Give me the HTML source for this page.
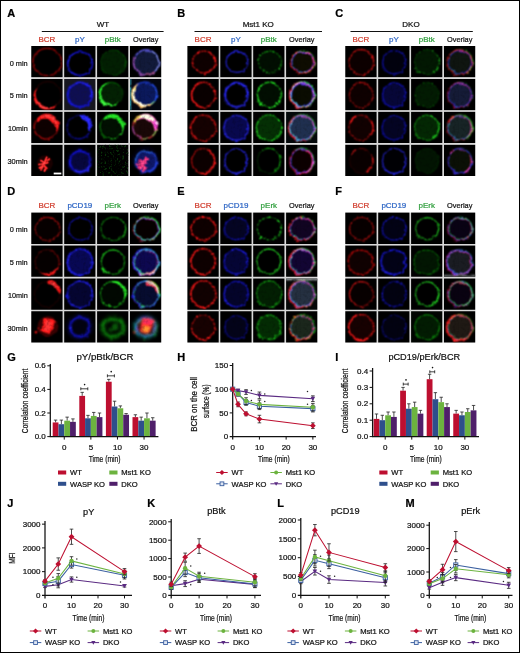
<!DOCTYPE html>
<html><head><meta charset="utf-8"><title>Figure</title>
<style>
html,body{margin:0;padding:0;background:#fff;}
body{width:520px;height:654px;overflow:hidden;font-family:"Liberation Sans", sans-serif;}
svg text{font-family:"Liberation Sans", sans-serif;stroke-width:0.22px;}
#txt{opacity:0.999;}
</style></head><body>
<svg width="520" height="654" viewBox="0 0 520 654" style="display:block">
<defs>
<filter id="spa" x="0" y="0" width="100%" height="100%" color-interpolation-filters="sRGB"><feTurbulence type="fractalNoise" baseFrequency="0.5" numOctaves="2" seed="11" result="n"/><feColorMatrix in="n" type="matrix" values="0 0 0 0 1  0 0 0 0 1  0 0 0 0 1  5 0 0 0 -2.75" result="na"/><feComposite in="SourceGraphic" in2="na" operator="in"/><feGaussianBlur stdDeviation="0.5"/></filter><filter id="spb" x="0" y="0" width="100%" height="100%" color-interpolation-filters="sRGB"><feTurbulence type="fractalNoise" baseFrequency="0.5" numOctaves="2" seed="12" result="n"/><feColorMatrix in="n" type="matrix" values="0 0 0 0 1  0 0 0 0 1  0 0 0 0 1  5 0 0 0 -2.75" result="na"/><feComposite in="SourceGraphic" in2="na" operator="in"/><feGaussianBlur stdDeviation="0.5"/></filter><filter id="spc" x="0" y="0" width="100%" height="100%" color-interpolation-filters="sRGB"><feTurbulence type="fractalNoise" baseFrequency="0.5" numOctaves="2" seed="13" result="n"/><feColorMatrix in="n" type="matrix" values="0 0 0 0 1  0 0 0 0 1  0 0 0 0 1  5 0 0 0 -2.75" result="na"/><feComposite in="SourceGraphic" in2="na" operator="in"/><feGaussianBlur stdDeviation="0.5"/></filter><filter id="spd" x="0" y="0" width="100%" height="100%" color-interpolation-filters="sRGB"><feTurbulence type="fractalNoise" baseFrequency="0.5" numOctaves="2" seed="14" result="n"/><feColorMatrix in="n" type="matrix" values="0 0 0 0 1  0 0 0 0 1  0 0 0 0 1  5 0 0 0 -2.75" result="na"/><feComposite in="SourceGraphic" in2="na" operator="in"/><feGaussianBlur stdDeviation="0.5"/></filter><filter id="b1a" x="-20%" y="-20%" width="140%" height="140%" color-interpolation-filters="sRGB"><feTurbulence type="fractalNoise" baseFrequency="0.16" numOctaves="2" seed="4" result="t1"/><feDisplacementMap in="SourceGraphic" in2="t1" scale="3.2" xChannelSelector="R" yChannelSelector="G" result="d"/><feConvolveMatrix in="d" order="3" kernelMatrix="1 2 1 2 4 2 1 2 1" edgeMode="none" result="bl"/><feTurbulence type="fractalNoise" baseFrequency="0.3" numOctaves="2" seed="3" result="n"/><feColorMatrix in="n" type="matrix" values="0 0 0 0 1  0 0 0 0 1  0 0 0 0 1  0.5 0 0 0 0.72" result="na"/><feComposite in="bl" in2="na" operator="in"/></filter><filter id="b2a" x="-20%" y="-20%" width="140%" height="140%" color-interpolation-filters="sRGB"><feTurbulence type="fractalNoise" baseFrequency="0.16" numOctaves="2" seed="6" result="t1"/><feDisplacementMap in="SourceGraphic" in2="t1" scale="3" xChannelSelector="R" yChannelSelector="G" result="d"/><feGaussianBlur in="d" stdDeviation="1.3" result="bl"/><feTurbulence type="fractalNoise" baseFrequency="0.25" numOctaves="2" seed="5" result="n"/><feColorMatrix in="n" type="matrix" values="0 0 0 0 1  0 0 0 0 1  0 0 0 0 1  0.5 0 0 0 0.72" result="na"/><feComposite in="bl" in2="na" operator="in"/></filter><filter id="b0a" x="-20%" y="-20%" width="140%" height="140%" color-interpolation-filters="sRGB"><feTurbulence type="fractalNoise" baseFrequency="0.16" numOctaves="2" seed="10" result="t1"/><feDisplacementMap in="SourceGraphic" in2="t1" scale="1.2" xChannelSelector="R" yChannelSelector="G" result="d"/><feConvolveMatrix in="d" order="3" kernelMatrix="1 4 1 4 16 4 1 4 1" edgeMode="none" result="bl"/><feTurbulence type="fractalNoise" baseFrequency="0.3" numOctaves="2" seed="9" result="n"/><feColorMatrix in="n" type="matrix" values="0 0 0 0 1  0 0 0 0 1  0 0 0 0 1  0.5 0 0 0 0.72" result="na"/><feComposite in="bl" in2="na" operator="in"/></filter><filter id="b1b" x="-20%" y="-20%" width="140%" height="140%" color-interpolation-filters="sRGB"><feTurbulence type="fractalNoise" baseFrequency="0.16" numOctaves="2" seed="11" result="t1"/><feDisplacementMap in="SourceGraphic" in2="t1" scale="3.2" xChannelSelector="R" yChannelSelector="G" result="d"/><feConvolveMatrix in="d" order="3" kernelMatrix="1 2 1 2 4 2 1 2 1" edgeMode="none" result="bl"/><feTurbulence type="fractalNoise" baseFrequency="0.3" numOctaves="2" seed="10" result="n"/><feColorMatrix in="n" type="matrix" values="0 0 0 0 1  0 0 0 0 1  0 0 0 0 1  0.5 0 0 0 0.72" result="na"/><feComposite in="bl" in2="na" operator="in"/></filter><filter id="b2b" x="-20%" y="-20%" width="140%" height="140%" color-interpolation-filters="sRGB"><feTurbulence type="fractalNoise" baseFrequency="0.16" numOctaves="2" seed="13" result="t1"/><feDisplacementMap in="SourceGraphic" in2="t1" scale="3" xChannelSelector="R" yChannelSelector="G" result="d"/><feGaussianBlur in="d" stdDeviation="1.3" result="bl"/><feTurbulence type="fractalNoise" baseFrequency="0.25" numOctaves="2" seed="12" result="n"/><feColorMatrix in="n" type="matrix" values="0 0 0 0 1  0 0 0 0 1  0 0 0 0 1  0.5 0 0 0 0.72" result="na"/><feComposite in="bl" in2="na" operator="in"/></filter><filter id="b0b" x="-20%" y="-20%" width="140%" height="140%" color-interpolation-filters="sRGB"><feTurbulence type="fractalNoise" baseFrequency="0.16" numOctaves="2" seed="17" result="t1"/><feDisplacementMap in="SourceGraphic" in2="t1" scale="1.2" xChannelSelector="R" yChannelSelector="G" result="d"/><feConvolveMatrix in="d" order="3" kernelMatrix="1 4 1 4 16 4 1 4 1" edgeMode="none" result="bl"/><feTurbulence type="fractalNoise" baseFrequency="0.3" numOctaves="2" seed="16" result="n"/><feColorMatrix in="n" type="matrix" values="0 0 0 0 1  0 0 0 0 1  0 0 0 0 1  0.5 0 0 0 0.72" result="na"/><feComposite in="bl" in2="na" operator="in"/></filter><filter id="b1c" x="-20%" y="-20%" width="140%" height="140%" color-interpolation-filters="sRGB"><feTurbulence type="fractalNoise" baseFrequency="0.16" numOctaves="2" seed="18" result="t1"/><feDisplacementMap in="SourceGraphic" in2="t1" scale="3.2" xChannelSelector="R" yChannelSelector="G" result="d"/><feConvolveMatrix in="d" order="3" kernelMatrix="1 2 1 2 4 2 1 2 1" edgeMode="none" result="bl"/><feTurbulence type="fractalNoise" baseFrequency="0.3" numOctaves="2" seed="17" result="n"/><feColorMatrix in="n" type="matrix" values="0 0 0 0 1  0 0 0 0 1  0 0 0 0 1  0.5 0 0 0 0.72" result="na"/><feComposite in="bl" in2="na" operator="in"/></filter><filter id="b2c" x="-20%" y="-20%" width="140%" height="140%" color-interpolation-filters="sRGB"><feTurbulence type="fractalNoise" baseFrequency="0.16" numOctaves="2" seed="20" result="t1"/><feDisplacementMap in="SourceGraphic" in2="t1" scale="3" xChannelSelector="R" yChannelSelector="G" result="d"/><feGaussianBlur in="d" stdDeviation="1.3" result="bl"/><feTurbulence type="fractalNoise" baseFrequency="0.25" numOctaves="2" seed="19" result="n"/><feColorMatrix in="n" type="matrix" values="0 0 0 0 1  0 0 0 0 1  0 0 0 0 1  0.5 0 0 0 0.72" result="na"/><feComposite in="bl" in2="na" operator="in"/></filter><filter id="b0c" x="-20%" y="-20%" width="140%" height="140%" color-interpolation-filters="sRGB"><feTurbulence type="fractalNoise" baseFrequency="0.16" numOctaves="2" seed="24" result="t1"/><feDisplacementMap in="SourceGraphic" in2="t1" scale="1.2" xChannelSelector="R" yChannelSelector="G" result="d"/><feConvolveMatrix in="d" order="3" kernelMatrix="1 4 1 4 16 4 1 4 1" edgeMode="none" result="bl"/><feTurbulence type="fractalNoise" baseFrequency="0.3" numOctaves="2" seed="23" result="n"/><feColorMatrix in="n" type="matrix" values="0 0 0 0 1  0 0 0 0 1  0 0 0 0 1  0.5 0 0 0 0.72" result="na"/><feComposite in="bl" in2="na" operator="in"/></filter><filter id="b1d" x="-20%" y="-20%" width="140%" height="140%" color-interpolation-filters="sRGB"><feTurbulence type="fractalNoise" baseFrequency="0.16" numOctaves="2" seed="25" result="t1"/><feDisplacementMap in="SourceGraphic" in2="t1" scale="3.2" xChannelSelector="R" yChannelSelector="G" result="d"/><feConvolveMatrix in="d" order="3" kernelMatrix="1 2 1 2 4 2 1 2 1" edgeMode="none" result="bl"/><feTurbulence type="fractalNoise" baseFrequency="0.3" numOctaves="2" seed="24" result="n"/><feColorMatrix in="n" type="matrix" values="0 0 0 0 1  0 0 0 0 1  0 0 0 0 1  0.5 0 0 0 0.72" result="na"/><feComposite in="bl" in2="na" operator="in"/></filter><filter id="b2d" x="-20%" y="-20%" width="140%" height="140%" color-interpolation-filters="sRGB"><feTurbulence type="fractalNoise" baseFrequency="0.16" numOctaves="2" seed="27" result="t1"/><feDisplacementMap in="SourceGraphic" in2="t1" scale="3" xChannelSelector="R" yChannelSelector="G" result="d"/><feGaussianBlur in="d" stdDeviation="1.3" result="bl"/><feTurbulence type="fractalNoise" baseFrequency="0.25" numOctaves="2" seed="26" result="n"/><feColorMatrix in="n" type="matrix" values="0 0 0 0 1  0 0 0 0 1  0 0 0 0 1  0.5 0 0 0 0.72" result="na"/><feComposite in="bl" in2="na" operator="in"/></filter><filter id="b0d" x="-20%" y="-20%" width="140%" height="140%" color-interpolation-filters="sRGB"><feTurbulence type="fractalNoise" baseFrequency="0.16" numOctaves="2" seed="31" result="t1"/><feDisplacementMap in="SourceGraphic" in2="t1" scale="1.2" xChannelSelector="R" yChannelSelector="G" result="d"/><feConvolveMatrix in="d" order="3" kernelMatrix="1 4 1 4 16 4 1 4 1" edgeMode="none" result="bl"/><feTurbulence type="fractalNoise" baseFrequency="0.3" numOctaves="2" seed="30" result="n"/><feColorMatrix in="n" type="matrix" values="0 0 0 0 1  0 0 0 0 1  0 0 0 0 1  0.5 0 0 0 0.72" result="na"/><feComposite in="bl" in2="na" operator="in"/></filter>
</defs>
<rect x="0" y="0" width="520" height="654" fill="#fff"/>
<rect x="0.5" y="0.5" width="519" height="652" fill="none" stroke="#000" stroke-width="1"/>
<g id="txt">

<text x="7.20" y="16.60" font-size="11" text-anchor="start" font-weight="bold" fill="#000" stroke="#000" >A</text>
<text x="177.20" y="16.60" font-size="11" text-anchor="start" font-weight="bold" fill="#000" stroke="#000" >B</text>
<text x="335.20" y="16.60" font-size="11" text-anchor="start" font-weight="bold" fill="#000" stroke="#000" >C</text>
<text x="7.20" y="194.60" font-size="11" text-anchor="start" font-weight="bold" fill="#000" stroke="#000" >D</text>
<text x="177.20" y="194.60" font-size="11" text-anchor="start" font-weight="bold" fill="#000" stroke="#000" >E</text>
<text x="335.20" y="194.60" font-size="11" text-anchor="start" font-weight="bold" fill="#000" stroke="#000" >F</text>
<text x="7.20" y="360.80" font-size="11" text-anchor="start" font-weight="bold" fill="#000" stroke="#000" >G</text>
<text x="177.20" y="360.80" font-size="11" text-anchor="start" font-weight="bold" fill="#000" stroke="#000" >H</text>
<text x="335.30" y="360.80" font-size="11" text-anchor="start" font-weight="bold" fill="#000" stroke="#000" >I</text>
<text x="7.20" y="507.00" font-size="11" text-anchor="start" font-weight="bold" fill="#000" stroke="#000" >J</text>
<text x="147.30" y="507.00" font-size="11" text-anchor="start" font-weight="bold" fill="#000" stroke="#000" >K</text>
<text x="277.30" y="507.00" font-size="11" text-anchor="start" font-weight="bold" fill="#000" stroke="#000" >L</text>
<text x="405.50" y="507.00" font-size="11" text-anchor="start" font-weight="bold" fill="#000" stroke="#000" >M</text>
<text x="103.00" y="26.60" font-size="8" text-anchor="middle" font-weight="normal" fill="#111" stroke="#111" >WT</text>
<path d="M41.8 31.5H163.6" stroke="#111" stroke-width="1"/>
<text x="258.20" y="26.60" font-size="8" text-anchor="middle" font-weight="normal" fill="#111" stroke="#111" >Mst1 KO</text>
<path d="M194.5 31.5H322" stroke="#111" stroke-width="1"/>
<text x="411.00" y="26.60" font-size="8" text-anchor="middle" font-weight="normal" fill="#111" stroke="#111" >DKO</text>
<path d="M350.5 31.5H472.8" stroke="#111" stroke-width="1"/>
<text x="46.95" y="41.60" font-size="8" text-anchor="middle" font-weight="normal" fill="#d03a2a" stroke="#d03a2a" >BCR</text>
<text x="79.85" y="41.60" font-size="8" text-anchor="middle" font-weight="normal" fill="#2a63c4" stroke="#2a63c4" >pY</text>
<text x="112.75" y="41.60" font-size="8" text-anchor="middle" font-weight="normal" fill="#2f9e3c" stroke="#2f9e3c" >pBtk</text>
<text x="145.65" y="41.60" font-size="8" text-anchor="middle" fill="#111" stroke="#111" textLength="25.30" lengthAdjust="spacingAndGlyphs">Overlay</text>
<text x="46.95" y="207.80" font-size="8" text-anchor="middle" font-weight="normal" fill="#d03a2a" stroke="#d03a2a" >BCR</text>
<text x="79.85" y="207.80" font-size="8" text-anchor="middle" font-weight="normal" fill="#2a63c4" stroke="#2a63c4" >pCD19</text>
<text x="112.75" y="207.80" font-size="8" text-anchor="middle" font-weight="normal" fill="#2f9e3c" stroke="#2f9e3c" >pErk</text>
<text x="145.65" y="207.80" font-size="8" text-anchor="middle" fill="#111" stroke="#111" textLength="25.30" lengthAdjust="spacingAndGlyphs">Overlay</text>
<text x="203.05" y="41.60" font-size="8" text-anchor="middle" font-weight="normal" fill="#d03a2a" stroke="#d03a2a" >BCR</text>
<text x="235.95" y="41.60" font-size="8" text-anchor="middle" font-weight="normal" fill="#2a63c4" stroke="#2a63c4" >pY</text>
<text x="268.85" y="41.60" font-size="8" text-anchor="middle" font-weight="normal" fill="#2f9e3c" stroke="#2f9e3c" >pBtk</text>
<text x="301.75" y="41.60" font-size="8" text-anchor="middle" fill="#111" stroke="#111" textLength="25.30" lengthAdjust="spacingAndGlyphs">Overlay</text>
<text x="203.05" y="207.80" font-size="8" text-anchor="middle" font-weight="normal" fill="#d03a2a" stroke="#d03a2a" >BCR</text>
<text x="235.95" y="207.80" font-size="8" text-anchor="middle" font-weight="normal" fill="#2a63c4" stroke="#2a63c4" >pCD19</text>
<text x="268.85" y="207.80" font-size="8" text-anchor="middle" font-weight="normal" fill="#2f9e3c" stroke="#2f9e3c" >pErk</text>
<text x="301.75" y="207.80" font-size="8" text-anchor="middle" fill="#111" stroke="#111" textLength="25.30" lengthAdjust="spacingAndGlyphs">Overlay</text>
<text x="360.95" y="41.60" font-size="8" text-anchor="middle" font-weight="normal" fill="#d03a2a" stroke="#d03a2a" >BCR</text>
<text x="393.85" y="41.60" font-size="8" text-anchor="middle" font-weight="normal" fill="#2a63c4" stroke="#2a63c4" >pY</text>
<text x="426.75" y="41.60" font-size="8" text-anchor="middle" font-weight="normal" fill="#2f9e3c" stroke="#2f9e3c" >pBtk</text>
<text x="459.65" y="41.60" font-size="8" text-anchor="middle" fill="#111" stroke="#111" textLength="25.30" lengthAdjust="spacingAndGlyphs">Overlay</text>
<text x="360.95" y="207.80" font-size="8" text-anchor="middle" font-weight="normal" fill="#d03a2a" stroke="#d03a2a" >BCR</text>
<text x="393.85" y="207.80" font-size="8" text-anchor="middle" font-weight="normal" fill="#2a63c4" stroke="#2a63c4" >pCD19</text>
<text x="426.75" y="207.80" font-size="8" text-anchor="middle" font-weight="normal" fill="#2f9e3c" stroke="#2f9e3c" >pErk</text>
<text x="459.65" y="207.80" font-size="8" text-anchor="middle" fill="#111" stroke="#111" textLength="25.30" lengthAdjust="spacingAndGlyphs">Overlay</text>
<text x="27.70" y="65.50" font-size="8" text-anchor="end" fill="#111" stroke="#111" textLength="18.00" lengthAdjust="spacingAndGlyphs">0 min</text>
<text x="27.70" y="232.10" font-size="8" text-anchor="end" fill="#111" stroke="#111" textLength="18.00" lengthAdjust="spacingAndGlyphs">0 min</text>
<text x="27.70" y="98.30" font-size="8" text-anchor="end" fill="#111" stroke="#111" textLength="18.00" lengthAdjust="spacingAndGlyphs">5 min</text>
<text x="27.70" y="264.90" font-size="8" text-anchor="end" fill="#111" stroke="#111" textLength="18.00" lengthAdjust="spacingAndGlyphs">5 min</text>
<text x="27.70" y="131.10" font-size="8" text-anchor="end" fill="#111" stroke="#111" textLength="19.80" lengthAdjust="spacingAndGlyphs">10min</text>
<text x="27.70" y="297.70" font-size="8" text-anchor="end" fill="#111" stroke="#111" textLength="19.80" lengthAdjust="spacingAndGlyphs">10min</text>
<text x="27.70" y="163.90" font-size="8" text-anchor="end" fill="#111" stroke="#111" textLength="20.20" lengthAdjust="spacingAndGlyphs">30min</text>
<text x="27.70" y="330.50" font-size="8" text-anchor="end" fill="#111" stroke="#111" textLength="20.20" lengthAdjust="spacingAndGlyphs">30min</text>
<rect x="31.30" y="46.00" width="130.00" height="130.00" fill="#d8d8d8"/>
<rect x="31.30" y="212.60" width="130.00" height="130.00" fill="#d8d8d8"/>
<rect x="187.40" y="46.00" width="130.00" height="130.00" fill="#d8d8d8"/>
<rect x="187.40" y="212.60" width="130.00" height="130.00" fill="#d8d8d8"/>
<rect x="345.30" y="46.00" width="130.00" height="130.00" fill="#d8d8d8"/>
<rect x="345.30" y="212.60" width="130.00" height="130.00" fill="#d8d8d8"/>
<svg x="31.30" y="46.00" width="31.3" height="31.3" viewBox="-15.65 -15.65 31.3 31.3" overflow="hidden">
<rect x="-16" y="-16" width="32" height="32" fill="#000"/>
<g filter="url(#b1b)"><ellipse cx="0.3" cy="0.3" rx="14.4" ry="13.6" fill="none" stroke="#740404" stroke-width="2.52" opacity="0.27"/><ellipse cx="0.3" cy="0.3" rx="14.4" ry="13.6" fill="none" stroke="#740404" stroke-width="1.08" opacity="0.90"/><ellipse cx="0.3" cy="0.3" rx="14.4" ry="13.6" fill="none" stroke="#c40c0c" stroke-dasharray="3 2.5" stroke-linecap="round" stroke-width="1.68" opacity="0.12"/><ellipse cx="0.3" cy="0.3" rx="14.4" ry="13.6" fill="none" stroke="#c40c0c" stroke-dasharray="3 2.5" stroke-linecap="round" stroke-width="0.72" opacity="0.40"/></g>
</svg>
<svg x="64.20" y="46.00" width="31.3" height="31.3" viewBox="-15.65 -15.65 31.3 31.3" overflow="hidden">
<rect x="-16" y="-16" width="32" height="32" fill="#000"/>
<g filter="url(#b1c)"><ellipse cx="0.2" cy="2" rx="12.3" ry="11.7" fill="none" stroke="#1414e4" stroke-width="2.38" opacity="0.28"/><ellipse cx="0.2" cy="2" rx="12.3" ry="11.7" fill="none" stroke="#1414e4" stroke-width="1.02" opacity="0.95"/><path d="M-3.90 13.28A12.00 12.00 0 0 1 -5.80 -8.39" fill="none" stroke="#2a2aff" stroke-linecap="round" stroke-width="1.82" opacity="0.15"/><path d="M-3.90 13.28A12.00 12.00 0 0 1 -5.80 -8.39" fill="none" stroke="#2a2aff" stroke-linecap="round" stroke-width="0.78" opacity="0.50"/></g>
</svg>
<svg x="97.10" y="46.00" width="31.3" height="31.3" viewBox="-15.65 -15.65 31.3 31.3" overflow="hidden">
<rect x="-16" y="-16" width="32" height="32" fill="#000"/>
<g filter="url(#b1d)"><ellipse cx="0.6" cy="1" rx="12.8" ry="12.8" fill="#064e06" opacity="0.4"/><ellipse cx="0.6" cy="1" rx="12.6" ry="12.6" fill="none" stroke="#064e06" stroke-dasharray="2.2 1.6" stroke-linecap="round" stroke-width="2.24" opacity="0.17"/><ellipse cx="0.6" cy="1" rx="12.6" ry="12.6" fill="none" stroke="#064e06" stroke-dasharray="2.2 1.6" stroke-linecap="round" stroke-width="0.96" opacity="0.55"/><path d="M4.91 -10.84A12.60 12.60 0 0 1 12.44 5.31" fill="none" stroke="#0e9e0e" stroke-linecap="round" stroke-width="1.68" opacity="0.09"/><path d="M4.91 -10.84A12.60 12.60 0 0 1 12.44 5.31" fill="none" stroke="#0e9e0e" stroke-linecap="round" stroke-width="0.72" opacity="0.30"/></g>
</svg>
<svg x="130.00" y="46.00" width="31.3" height="31.3" viewBox="-15.65 -15.65 31.3 31.3" overflow="hidden">
<rect x="-16" y="-16" width="32" height="32" fill="#000"/>
<g filter="url(#b1a)"><ellipse cx="0.5" cy="0.8" rx="12.6" ry="12.6" fill="#121a3a" opacity="1"/><ellipse cx="0.5" cy="0.8" rx="12.6" ry="12.6" fill="none" stroke="#4a50d0" stroke-width="2.38" opacity="0.28"/><ellipse cx="0.5" cy="0.8" rx="12.6" ry="12.6" fill="none" stroke="#4a50d0" stroke-width="1.02" opacity="0.95"/><path d="M0.50 13.40A12.60 12.60 0 0 1 -11.34 -3.51" fill="none" stroke="#b04aa0" stroke-linecap="round" stroke-width="2.24" opacity="0.26"/><path d="M0.50 13.40A12.60 12.60 0 0 1 -11.34 -3.51" fill="none" stroke="#b04aa0" stroke-linecap="round" stroke-width="0.96" opacity="0.85"/><path d="M6.80 -10.11A12.60 12.60 0 0 1 10.15 8.90" fill="none" stroke="#a0b0f0" stroke-linecap="round" stroke-width="1.96" opacity="0.22"/><path d="M6.80 -10.11A12.60 12.60 0 0 1 10.15 8.90" fill="none" stroke="#a0b0f0" stroke-linecap="round" stroke-width="0.84" opacity="0.75"/><path d="M8.60 10.45A12.60 12.60 0 0 1 0.50 13.40" fill="none" stroke="#d05060" stroke-linecap="round" stroke-width="2.10" opacity="0.24"/><path d="M8.60 10.45A12.60 12.60 0 0 1 0.50 13.40" fill="none" stroke="#d05060" stroke-linecap="round" stroke-width="0.90" opacity="0.80"/><path d="M-10.41 -5.50A12.60 12.60 0 0 1 4.81 -11.04" fill="none" stroke="#6a60e0" stroke-linecap="round" stroke-width="1.96" opacity="0.18"/><path d="M-10.41 -5.50A12.60 12.60 0 0 1 4.81 -11.04" fill="none" stroke="#6a60e0" stroke-linecap="round" stroke-width="0.84" opacity="0.60"/></g>
</svg>
<svg x="31.30" y="78.90" width="31.3" height="31.3" viewBox="-15.65 -15.65 31.3 31.3" overflow="hidden">
<rect x="-16" y="-16" width="32" height="32" fill="#000"/>
<g filter="url(#b1b)"><ellipse cx="1" cy="0.5" rx="13.5" ry="13.5" fill="none" stroke="#740404" stroke-width="1.68" opacity="0.09"/><ellipse cx="1" cy="0.5" rx="13.5" ry="13.5" fill="none" stroke="#740404" stroke-width="0.72" opacity="0.30"/><polygon points="10.88,9.40 9.75,10.74 8.44,11.96 6.97,13.01 5.34,13.86 3.59,14.49 1.75,14.87 -0.14,15.00 -2.05,14.85 -3.93,14.42 -5.74,13.72 -7.43,12.77 -8.97,11.57 -10.32,10.17 -11.45,8.58 -12.33,6.86 -12.95,5.03 -13.30,3.15 -13.37,1.25 -13.18,-0.62 -12.74,-2.42 -12.06,-4.13 -11.17,-5.70 -10.10,-7.13 -8.88,-8.40 -8.88,-8.40 -9.82,-6.94 -10.53,-5.37 -11.01,-3.75 -11.28,-2.11 -11.34,-0.47 -11.19,1.14 -10.86,2.70 -10.35,4.19 -9.68,5.59 -8.86,6.90 -7.91,8.11 -6.83,9.19 -5.64,10.15 -4.34,10.98 -2.95,11.65 -1.48,12.17 0.05,12.52 1.64,12.69 3.25,12.67 4.88,12.44 6.49,12.00 8.05,11.35 9.53,10.48 10.88,9.40" fill="#ff1a1a" opacity="1"/><polygon points="5.65,12.90 4.88,13.36 4.05,13.71 3.19,13.97 2.30,14.17 1.40,14.30 0.49,14.35 -0.43,14.34 -1.34,14.25 -2.25,14.10 -3.15,13.88 -4.03,13.58 -4.88,13.22 -5.70,12.80 -6.49,12.32 -7.24,11.77 -7.94,11.18 -8.60,10.53 -9.20,9.84 -9.74,9.10 -10.22,8.33 -10.64,7.52 -10.99,6.69 -11.26,5.84 -11.40,4.95 -11.40,4.95 -10.89,5.67 -10.40,6.39 -9.90,7.07 -9.37,7.73 -8.80,8.35 -8.21,8.93 -7.60,9.49 -6.96,10.00 -6.29,10.48 -5.60,10.92 -4.89,11.32 -4.16,11.68 -3.41,12.01 -2.65,12.29 -1.87,12.54 -1.08,12.74 -0.27,12.90 0.55,13.02 1.38,13.10 2.21,13.13 3.06,13.12 3.91,13.06 4.76,12.97 5.65,12.90" fill="#ff4a4a" opacity="0.9"/></g>
</svg>
<svg x="64.20" y="78.90" width="31.3" height="31.3" viewBox="-15.65 -15.65 31.3 31.3" overflow="hidden">
<rect x="-16" y="-16" width="32" height="32" fill="#17171f"/>
<g filter="url(#b1c)"><ellipse cx="0" cy="0.2" rx="12.2" ry="12.2" fill="#0e0e54" opacity="0.95"/><ellipse cx="0" cy="0.2" rx="11.6" ry="11.6" fill="none" stroke="#0e0e8c" stroke-width="3.36" opacity="0.15"/><ellipse cx="0" cy="0.2" rx="11.6" ry="11.6" fill="none" stroke="#0e0e8c" stroke-width="1.44" opacity="0.50"/><ellipse cx="0" cy="0.2" rx="12.2" ry="12.2" fill="none" stroke="#1414e4" stroke-width="3.08" opacity="0.30"/><ellipse cx="0" cy="0.2" rx="12.2" ry="12.2" fill="none" stroke="#1414e4" stroke-width="1.32" opacity="1.00"/><path d="M-10.57 -5.90A12.20 12.20 0 0 1 12.01 2.32" fill="none" stroke="#2a2aff" stroke-linecap="round" stroke-width="2.52" opacity="0.21"/><path d="M-10.57 -5.90A12.20 12.20 0 0 1 12.01 2.32" fill="none" stroke="#2a2aff" stroke-linecap="round" stroke-width="1.08" opacity="0.70"/></g>
</svg>
<svg x="97.10" y="78.90" width="31.3" height="31.3" viewBox="-15.65 -15.65 31.3 31.3" overflow="hidden">
<rect x="-16" y="-16" width="32" height="32" fill="#000"/>
<g filter="url(#b1d)"><ellipse cx="-1.5" cy="-0.6" rx="11.8" ry="11.8" fill="#064e06" opacity="0.42"/><ellipse cx="-1.5" cy="-0.6" rx="11.6" ry="11.6" fill="none" stroke="#064e06" stroke-dasharray="2.2 1.6" stroke-linecap="round" stroke-width="2.10" opacity="0.18"/><ellipse cx="-1.5" cy="-0.6" rx="11.6" ry="11.6" fill="none" stroke="#064e06" stroke-dasharray="2.2 1.6" stroke-linecap="round" stroke-width="0.90" opacity="0.60"/><polygon points="6.27,7.88 5.01,9.22 3.49,10.30 1.78,11.12 -0.07,11.65 -2.00,11.86 -3.96,11.76 -5.89,11.32 -7.73,10.57 -9.44,9.52 -10.95,8.19 -12.23,6.63 -13.24,4.87 -13.94,2.98 -14.31,0.99 -14.35,-1.02 -14.06,-3.00 -13.45,-4.90 -12.55,-6.66 -11.37,-8.23 -9.96,-9.57 -8.37,-10.65 -6.65,-11.43 -4.84,-11.90 -3.00,-12.00 -3.00,-12.00 -4.68,-11.36 -6.22,-10.54 -7.61,-9.54 -8.82,-8.36 -9.83,-7.04 -10.62,-5.60 -11.19,-4.09 -11.53,-2.52 -11.63,-0.93 -11.51,0.64 -11.17,2.18 -10.61,3.65 -9.84,5.02 -8.89,6.27 -7.76,7.38 -6.47,8.31 -5.06,9.06 -3.53,9.60 -1.92,9.92 -0.26,10.00 1.42,9.83 3.08,9.41 4.70,8.75 6.27,7.88" fill="#26e426" opacity="1"/><polygon points="0.50,10.73 -0.23,11.02 -0.98,11.20 -1.76,11.31 -2.55,11.35 -3.34,11.32 -4.12,11.24 -4.91,11.09 -5.68,10.89 -6.44,10.62 -7.17,10.29 -7.88,9.91 -8.55,9.48 -9.20,8.99 -9.80,8.45 -10.35,7.88 -10.86,7.26 -11.32,6.60 -11.73,5.92 -12.08,5.20 -12.37,4.47 -12.60,3.72 -12.76,2.95 -12.86,2.18 -12.83,1.40 -12.83,1.40 -12.48,2.09 -12.17,2.76 -11.84,3.42 -11.48,4.05 -11.09,4.66 -10.67,5.24 -10.23,5.80 -9.76,6.33 -9.26,6.83 -8.74,7.30 -8.20,7.75 -7.64,8.16 -7.05,8.55 -6.45,8.91 -5.83,9.23 -5.19,9.53 -4.53,9.79 -3.85,10.01 -3.16,10.21 -2.46,10.37 -1.74,10.49 -1.01,10.58 -0.27,10.64 0.50,10.73" fill="#50ff50" opacity="0.7"/><path d="M-5.47 -11.50A11.60 11.60 0 0 1 8.55 -6.40" fill="none" stroke="#0e9e0e" stroke-linecap="round" stroke-width="1.68" opacity="0.10"/><path d="M-5.47 -11.50A11.60 11.60 0 0 1 8.55 -6.40" fill="none" stroke="#0e9e0e" stroke-linecap="round" stroke-width="0.72" opacity="0.35"/></g>
</svg>
<svg x="130.00" y="78.90" width="31.3" height="31.3" viewBox="-15.65 -15.65 31.3 31.3" overflow="hidden">
<rect x="-16" y="-16" width="32" height="32" fill="#04060f"/>
<g filter="url(#b1a)"><ellipse cx="-0.8" cy="-0.6" rx="12" ry="12" fill="#0b195c" opacity="1"/><ellipse cx="-0.8" cy="-0.6" rx="12" ry="12" fill="none" stroke="#1c3cd0" stroke-width="2.38" opacity="0.27"/><ellipse cx="-0.8" cy="-0.6" rx="12" ry="12" fill="none" stroke="#1c3cd0" stroke-width="1.02" opacity="0.90"/><path d="M6.91 -9.79A12.00 12.00 0 0 1 9.59 5.40" fill="none" stroke="#2a58f0" stroke-linecap="round" stroke-width="2.24" opacity="0.21"/><path d="M6.91 -9.79A12.00 12.00 0 0 1 9.59 5.40" fill="none" stroke="#2a58f0" stroke-linecap="round" stroke-width="0.96" opacity="0.70"/><polygon points="8.27,7.56 7.17,9.01 5.82,10.28 4.26,11.33 2.53,12.14 0.67,12.67 -1.27,12.91 -3.25,12.84 -5.21,12.46 -7.10,11.76 -8.86,10.78 -10.46,9.52 -11.83,8.02 -12.95,6.32 -13.79,4.47 -14.32,2.52 -14.54,0.52 -14.43,-1.47 -14.02,-3.41 -13.32,-5.24 -12.35,-6.92 -11.15,-8.40 -9.75,-9.66 -8.20,-10.66 -6.53,-11.37 -6.53,-11.37 -7.86,-10.20 -9.00,-8.90 -9.94,-7.49 -10.66,-5.99 -11.16,-4.44 -11.44,-2.86 -11.52,-1.29 -11.38,0.26 -11.05,1.77 -10.54,3.20 -9.85,4.55 -9.00,5.80 -7.99,6.93 -6.85,7.93 -5.58,8.78 -4.20,9.46 -2.73,9.96 -1.18,10.28 0.42,10.38 2.04,10.27 3.67,9.93 5.27,9.37 6.80,8.57 8.27,7.56" fill="#ff9a50" opacity="0.95"/><polygon points="7.25,8.03 6.12,9.25 4.79,10.29 3.30,11.14 1.68,11.76 -0.04,12.14 -1.81,12.26 -3.60,12.11 -5.36,11.70 -7.05,11.02 -8.62,10.10 -10.04,8.95 -11.28,7.59 -12.30,6.06 -13.07,4.40 -13.59,2.65 -13.84,0.85 -13.81,-0.96 -13.52,-2.73 -12.97,-4.42 -12.19,-5.99 -11.20,-7.42 -10.02,-8.66 -8.69,-9.70 -7.23,-10.50 -7.23,-10.50 -8.37,-9.34 -9.35,-8.07 -10.14,-6.72 -10.74,-5.31 -11.14,-3.84 -11.36,-2.37 -11.38,-0.89 -11.22,0.56 -10.88,1.96 -10.38,3.30 -9.72,4.57 -8.92,5.74 -7.97,6.81 -6.91,7.75 -5.72,8.56 -4.44,9.23 -3.08,9.73 -1.64,10.07 -0.15,10.22 1.36,10.18 2.88,9.94 4.38,9.50 5.84,8.86 7.25,8.03" fill="#fff090" opacity="1"/><polygon points="3.27,10.30 2.28,10.85 1.21,11.22 0.09,11.46 -1.05,11.58 -2.21,11.58 -3.37,11.45 -4.52,11.21 -5.63,10.84 -6.71,10.36 -7.74,9.77 -8.69,9.07 -9.57,8.27 -10.37,7.39 -11.07,6.44 -11.66,5.41 -12.14,4.33 -12.51,3.22 -12.75,2.07 -12.88,0.91 -12.88,-0.25 -12.76,-1.39 -12.52,-2.51 -12.15,-3.58 -11.60,-4.57 -11.60,-4.57 -11.71,-3.46 -11.79,-2.39 -11.79,-1.33 -11.71,-0.28 -11.55,0.75 -11.30,1.75 -10.97,2.72 -10.56,3.65 -10.08,4.55 -9.53,5.39 -8.91,6.19 -8.23,6.93 -7.49,7.61 -6.69,8.23 -5.85,8.78 -4.95,9.26 -4.02,9.67 -3.05,10.00 -2.05,10.25 -1.02,10.41 0.03,10.49 1.09,10.49 2.16,10.41 3.27,10.30" fill="#ffffff" opacity="0.95"/><path d="M8.66 6.79A12.00 12.00 0 0 1 5.91 9.35" fill="none" stroke="#70e070" stroke-linecap="round" stroke-width="2.24" opacity="0.24"/><path d="M8.66 6.79A12.00 12.00 0 0 1 5.91 9.35" fill="none" stroke="#70e070" stroke-linecap="round" stroke-width="0.96" opacity="0.80"/><rect x="-15.65" y="-15.65" width="1.1" height="31.3" fill="#40c8d8" opacity="0.9"/></g>
</svg>
<svg x="31.30" y="111.80" width="31.3" height="31.3" viewBox="-15.65 -15.65 31.3 31.3" overflow="hidden">
<rect x="-16" y="-16" width="32" height="32" fill="#000"/>
<g filter="url(#b1b)"><ellipse cx="-1.0" cy="-0.3" rx="11.8" ry="11.8" fill="none" stroke="#c40c0c" stroke-width="2.38" opacity="0.18"/><ellipse cx="-1.0" cy="-0.3" rx="11.8" ry="11.8" fill="none" stroke="#c40c0c" stroke-width="1.02" opacity="0.60"/><path d="M4.90 9.92A11.80 11.80 0 0 1 -12.09 -4.34" fill="none" stroke="#c40c0c" stroke-linecap="round" stroke-width="2.10" opacity="0.14"/><path d="M4.90 9.92A11.80 11.80 0 0 1 -12.09 -4.34" fill="none" stroke="#c40c0c" stroke-linecap="round" stroke-width="0.90" opacity="0.45"/><ellipse cx="-1.0" cy="-0.3" rx="10.5" ry="10.5" fill="#740404" opacity="0.12"/><polygon points="-9.65,-6.94 -9.51,-8.63 -8.71,-9.91 -7.67,-11.03 -6.44,-11.97 -5.07,-12.74 -3.59,-13.30 -2.02,-13.65 -0.41,-13.79 1.21,-13.71 2.82,-13.41 4.38,-12.89 5.85,-12.16 7.21,-11.25 8.44,-10.16 9.51,-8.92 10.39,-7.56 11.08,-6.09 11.55,-4.56 11.80,-2.99 11.83,-1.42 11.63,0.11 11.18,1.57 10.47,2.91 9.07,3.87 9.07,3.87 8.52,2.36 8.37,1.14 8.16,-0.00 7.89,-1.08 7.53,-2.09 7.09,-3.05 6.58,-3.94 6.00,-4.76 5.35,-5.51 4.63,-6.19 3.87,-6.79 3.05,-7.31 2.19,-7.76 1.28,-8.12 0.34,-8.40 -0.64,-8.59 -1.64,-8.68 -2.67,-8.68 -3.71,-8.58 -4.77,-8.38 -5.84,-8.09 -6.93,-7.69 -8.07,-7.22 -9.65,-6.94" fill="#ff1a1a" opacity="1"/><polygon points="-6.60,-10.00 -5.89,-10.78 -5.03,-11.37 -4.10,-11.86 -3.11,-12.24 -2.07,-12.51 -1.00,-12.68 0.09,-12.73 1.18,-12.67 2.27,-12.49 3.33,-12.20 4.36,-11.80 5.35,-11.30 6.28,-10.70 7.14,-10.00 7.92,-9.22 8.62,-8.37 9.22,-7.46 9.72,-6.49 10.11,-5.48 10.39,-4.45 10.56,-3.40 10.60,-2.35 10.52,-1.31 10.20,-0.30 10.20,-0.30 9.80,-1.24 9.46,-2.14 9.08,-3.00 8.66,-3.81 8.19,-4.59 7.68,-5.31 7.13,-5.99 6.54,-6.63 5.92,-7.22 5.26,-7.76 4.57,-8.25 3.85,-8.70 3.10,-9.10 2.33,-9.45 1.53,-9.75 0.71,-9.99 -0.14,-10.19 -1.00,-10.32 -1.88,-10.40 -2.78,-10.42 -3.70,-10.38 -4.63,-10.28 -5.58,-10.12 -6.60,-10.00" fill="#ff4848" opacity="0.8"/><ellipse cx="11.3" cy="-4.5" rx="1.8" ry="1.8" fill="#ff1a1a" opacity="0.95"/><ellipse cx="-8.2" cy="-8" rx="1.6" ry="1.6" fill="#ff1a1a" opacity="0.9"/></g>
</svg>
<svg x="64.20" y="111.80" width="31.3" height="31.3" viewBox="-15.65 -15.65 31.3 31.3" overflow="hidden">
<rect x="-16" y="-16" width="32" height="32" fill="#000"/>
<g filter="url(#b1c)"><ellipse cx="-1.0" cy="-0.3" rx="11.7" ry="11.7" fill="none" stroke="#0e0e8c" stroke-dasharray="3.5 1.8" stroke-linecap="round" stroke-width="2.38" opacity="0.24"/><ellipse cx="-1.0" cy="-0.3" rx="11.7" ry="11.7" fill="none" stroke="#0e0e8c" stroke-dasharray="3.5 1.8" stroke-linecap="round" stroke-width="1.02" opacity="0.80"/><polygon points="-1.10,-11.50 -0.19,-12.30 0.78,-12.54 1.76,-12.62 2.75,-12.57 3.74,-12.40 4.71,-12.13 5.65,-11.76 6.56,-11.29 7.42,-10.74 8.22,-10.10 8.97,-9.39 9.64,-8.61 10.23,-7.77 10.74,-6.88 11.17,-5.94 11.50,-4.97 11.73,-3.98 11.86,-2.97 11.89,-1.97 11.81,-0.97 11.62,0.00 11.31,0.94 10.84,1.81 9.84,2.50 9.84,2.50 9.21,1.52 8.98,0.70 8.77,-0.07 8.56,-0.80 8.33,-1.51 8.07,-2.19 7.79,-2.84 7.49,-3.47 7.16,-4.08 6.80,-4.67 6.42,-5.23 6.01,-5.78 5.58,-6.31 5.13,-6.81 4.64,-7.30 4.13,-7.77 3.59,-8.22 3.03,-8.65 2.43,-9.06 1.80,-9.46 1.14,-9.84 0.44,-10.23 -0.30,-10.65 -1.10,-11.50" fill="#2a2aff" opacity="1"/><ellipse cx="10.2" cy="-5" rx="1.7" ry="1.7" fill="#2a2aff" opacity="0.95"/><ellipse cx="4" cy="-11.5" rx="1.5" ry="1.5" fill="#2a2aff" opacity="0.9"/><path d="M9.13 5.55A11.70 11.70 0 0 1 -5.00 10.69" fill="none" stroke="#1414e4" stroke-linecap="round" stroke-width="1.96" opacity="0.10"/><path d="M9.13 5.55A11.70 11.70 0 0 1 -5.00 10.69" fill="none" stroke="#1414e4" stroke-linecap="round" stroke-width="0.84" opacity="0.35"/></g>
</svg>
<svg x="97.10" y="111.80" width="31.3" height="31.3" viewBox="-15.65 -15.65 31.3 31.3" overflow="hidden">
<rect x="-16" y="-16" width="32" height="32" fill="#000"/>
<g filter="url(#b1d)"><ellipse cx="-1.0" cy="-0.3" rx="11.7" ry="11.7" fill="none" stroke="#064e06" stroke-width="2.38" opacity="0.27"/><ellipse cx="-1.0" cy="-0.3" rx="11.7" ry="11.7" fill="none" stroke="#064e06" stroke-width="1.02" opacity="0.90"/><path d="M10.30 2.73A11.70 11.70 0 0 1 7.27 7.97" fill="none" stroke="#26e426" stroke-linecap="round" stroke-width="2.24" opacity="0.26"/><path d="M10.30 2.73A11.70 11.70 0 0 1 7.27 7.97" fill="none" stroke="#26e426" stroke-linecap="round" stroke-width="0.96" opacity="0.85"/><path d="M2.03 11.00A11.70 11.70 0 0 1 -2.02 11.36" fill="none" stroke="#26e426" stroke-linecap="round" stroke-width="1.96" opacity="0.18"/><path d="M2.03 11.00A11.70 11.70 0 0 1 -2.02 11.36" fill="none" stroke="#26e426" stroke-linecap="round" stroke-width="0.84" opacity="0.60"/><path d="M-3.03 11.22A11.70 11.70 0 0 1 -11.99 -4.30" fill="none" stroke="#0e9e0e" stroke-linecap="round" stroke-width="1.82" opacity="0.12"/><path d="M-3.03 11.22A11.70 11.70 0 0 1 -11.99 -4.30" fill="none" stroke="#0e9e0e" stroke-linecap="round" stroke-width="0.78" opacity="0.40"/><ellipse cx="-1.0" cy="-0.3" rx="10" ry="10" fill="#064e06" opacity="0.2"/><polygon points="-9.18,-7.80 -8.83,-9.30 -7.96,-10.40 -6.90,-11.34 -5.70,-12.13 -4.38,-12.74 -2.98,-13.18 -1.53,-13.44 -0.04,-13.51 1.45,-13.38 2.92,-13.07 4.35,-12.58 5.70,-11.90 6.96,-11.07 8.10,-10.08 9.10,-8.97 9.96,-7.74 10.64,-6.41 11.15,-5.02 11.47,-3.59 11.59,-2.14 11.52,-0.71 11.23,0.68 10.71,1.99 9.59,3.04 9.59,3.04 9.08,1.67 8.90,0.49 8.67,-0.62 8.37,-1.67 8.00,-2.68 7.54,-3.62 7.01,-4.51 6.41,-5.33 5.75,-6.09 5.02,-6.77 4.24,-7.39 3.40,-7.92 2.52,-8.38 1.60,-8.75 0.64,-9.04 -0.35,-9.24 -1.36,-9.34 -2.39,-9.36 -3.44,-9.28 -4.50,-9.10 -5.56,-8.83 -6.64,-8.48 -7.74,-8.05 -9.18,-7.80" fill="#26e426" opacity="1"/><ellipse cx="10.8" cy="-3.5" rx="1.7" ry="1.7" fill="#26e426" opacity="0.95"/><ellipse cx="-5.5" cy="-10" rx="1.6" ry="1.6" fill="#26e426" opacity="0.95"/></g>
</svg>
<svg x="130.00" y="111.80" width="31.3" height="31.3" viewBox="-15.65 -15.65 31.3 31.3" overflow="hidden">
<rect x="-16" y="-16" width="32" height="32" fill="#000"/>
<g filter="url(#b1a)"><ellipse cx="-1.0" cy="-0.3" rx="11" ry="11" fill="#1c0808" opacity="0.9"/><ellipse cx="-1.0" cy="-0.3" rx="11.8" ry="11.8" fill="none" stroke="#b03030" stroke-width="2.52" opacity="0.27"/><ellipse cx="-1.0" cy="-0.3" rx="11.8" ry="11.8" fill="none" stroke="#b03030" stroke-width="1.08" opacity="0.90"/><path d="M10.40 2.75A11.80 11.80 0 0 1 7.34 8.04" fill="none" stroke="#70e060" stroke-linecap="round" stroke-width="2.24" opacity="0.26"/><path d="M10.40 2.75A11.80 11.80 0 0 1 7.34 8.04" fill="none" stroke="#70e060" stroke-linecap="round" stroke-width="0.96" opacity="0.85"/><path d="M2.05 11.10A11.80 11.80 0 0 1 -2.03 11.46" fill="none" stroke="#60d060" stroke-linecap="round" stroke-width="1.96" opacity="0.21"/><path d="M2.05 11.10A11.80 11.80 0 0 1 -2.03 11.46" fill="none" stroke="#60d060" stroke-linecap="round" stroke-width="0.84" opacity="0.70"/><path d="M-5.04 10.79A11.80 11.80 0 0 1 -12.80 -0.30" fill="none" stroke="#8048c8" stroke-linecap="round" stroke-width="2.10" opacity="0.22"/><path d="M-5.04 10.79A11.80 11.80 0 0 1 -12.80 -0.30" fill="none" stroke="#8048c8" stroke-linecap="round" stroke-width="0.90" opacity="0.75"/><polygon points="-9.65,-6.94 -9.51,-8.63 -8.71,-9.91 -7.67,-11.03 -6.44,-11.97 -5.07,-12.74 -3.59,-13.30 -2.02,-13.65 -0.41,-13.79 1.21,-13.71 2.82,-13.41 4.38,-12.89 5.85,-12.16 7.21,-11.25 8.44,-10.16 9.51,-8.92 10.39,-7.56 11.08,-6.09 11.55,-4.56 11.80,-2.99 11.83,-1.42 11.63,0.11 11.18,1.57 10.47,2.91 9.07,3.87 9.07,3.87 8.52,2.36 8.37,1.14 8.16,-0.00 7.89,-1.08 7.53,-2.09 7.09,-3.05 6.58,-3.94 6.00,-4.76 5.35,-5.51 4.63,-6.19 3.87,-6.79 3.05,-7.31 2.19,-7.76 1.28,-8.12 0.34,-8.40 -0.64,-8.59 -1.64,-8.68 -2.67,-8.68 -3.71,-8.58 -4.77,-8.38 -5.84,-8.09 -6.93,-7.69 -8.07,-7.22 -9.65,-6.94" fill="#ff60c0" opacity="1"/><polygon points="-8.13,-8.80 -7.77,-9.83 -7.14,-10.59 -6.41,-11.26 -5.59,-11.84 -4.70,-12.33 -3.75,-12.72 -2.77,-13.02 -1.75,-13.21 -0.72,-13.30 0.33,-13.29 1.37,-13.17 2.39,-12.95 3.39,-12.63 4.35,-12.21 5.26,-11.70 6.11,-11.11 6.89,-10.43 7.60,-9.68 8.22,-8.87 8.74,-8.00 9.16,-7.09 9.47,-6.14 9.63,-5.16 9.43,-4.10 9.43,-4.10 8.56,-4.67 7.92,-5.28 7.29,-5.84 6.67,-6.37 6.04,-6.85 5.40,-7.29 4.75,-7.68 4.09,-8.04 3.42,-8.36 2.74,-8.64 2.05,-8.88 1.36,-9.09 0.65,-9.26 -0.07,-9.39 -0.80,-9.49 -1.54,-9.55 -2.29,-9.57 -3.05,-9.55 -3.82,-9.49 -4.61,-9.39 -5.41,-9.25 -6.23,-9.07 -7.09,-8.87 -8.13,-8.80" fill="#ffffe8" opacity="1"/><polygon points="8.45,-6.32 9.09,-6.28 9.52,-6.07 9.89,-5.82 10.23,-5.54 10.53,-5.22 10.80,-4.89 11.04,-4.54 11.26,-4.16 11.44,-3.78 11.59,-3.38 11.71,-2.97 11.80,-2.56 11.86,-2.14 11.89,-1.71 11.88,-1.29 11.84,-0.86 11.77,-0.44 11.66,-0.02 11.52,0.38 11.34,0.78 11.12,1.16 10.86,1.53 10.53,1.86 9.93,2.12 9.93,2.12 9.49,1.67 9.28,1.28 9.12,0.92 8.97,0.57 8.85,0.24 8.74,-0.09 8.63,-0.41 8.54,-0.72 8.46,-1.02 8.38,-1.33 8.31,-1.63 8.26,-1.93 8.21,-2.24 8.17,-2.54 8.13,-2.85 8.11,-3.17 8.09,-3.50 8.08,-3.83 8.07,-4.17 8.07,-4.53 8.09,-4.91 8.12,-5.30 8.18,-5.74 8.45,-6.32" fill="#ff40e0" opacity="0.95"/><path d="M-11.22 -6.20A11.80 11.80 0 0 1 -5.99 -10.99" fill="none" stroke="#f0d848" stroke-linecap="round" stroke-width="3.08" opacity="0.28"/><path d="M-11.22 -6.20A11.80 11.80 0 0 1 -5.99 -10.99" fill="none" stroke="#f0d848" stroke-linecap="round" stroke-width="1.32" opacity="0.95"/><ellipse cx="11.3" cy="-4.5" rx="1.7" ry="1.7" fill="#ffd0f0" opacity="0.95"/></g>
</svg>
<svg x="31.30" y="144.70" width="31.3" height="31.3" viewBox="-15.65 -15.65 31.3 31.3" overflow="hidden">
<rect x="-16" y="-16" width="32" height="32" fill="#000"/>
<g filter="url(#b0b)"><ellipse cx="-2" cy="3" rx="8" ry="8" fill="#740404" opacity="0.22"/><path d="M-3.5 6.5 L-1 1.5 L0.5 -2 L2.5 -6.5 M-5.5 1 L-1.5 0.5 L3.5 -1 M-3.5 -3 L0 -1 M0 2.5 L2.5 5 M-5 4.5 L-2.5 3.5 M3 -3 L5 -4.5 M1 5.8 L0.2 7.8" fill="none" stroke="#ff1a1a" stroke-width="2.3" opacity="1" stroke-linecap="round" stroke-linejoin="round" transform="translate(-2.6,3.2) scale(0.95)"/><path d="M-3.5 6.5 L-1 1.5 L0.5 -2 L2.5 -6.5 M-5.5 1 L-1.5 0.5 L3.5 -1 M-3.5 -3 L0 -1 M0 2.5 L2.5 5 M-5 4.5 L-2.5 3.5 M3 -3 L5 -4.5 M1 5.8 L0.2 7.8" fill="none" stroke="#ff5a5a" stroke-width="1.0" opacity="0.8" stroke-linecap="round" stroke-linejoin="round" transform="translate(-2.6,3.2) scale(0.95)"/></g>
</svg>
<svg x="64.20" y="144.70" width="31.3" height="31.3" viewBox="-15.65 -15.65 31.3 31.3" overflow="hidden">
<rect x="-16" y="-16" width="32" height="32" fill="#000"/>
<g filter="url(#b1c)"><ellipse cx="0.3" cy="1.2" rx="10.8" ry="10.8" fill="#0c0c5c" opacity="0.6"/><ellipse cx="0.3" cy="1.2" rx="10.4" ry="10.4" fill="none" stroke="#1414e4" stroke-dasharray="4 1.5" stroke-linecap="round" stroke-width="3.36" opacity="0.21"/><ellipse cx="0.3" cy="1.2" rx="10.4" ry="10.4" fill="none" stroke="#1414e4" stroke-dasharray="4 1.5" stroke-linecap="round" stroke-width="1.44" opacity="0.70"/><path d="M10.07 4.76A10.40 10.40 0 0 1 -4.90 10.21" fill="none" stroke="#2a2aff" stroke-linecap="round" stroke-width="3.92" opacity="0.26"/><path d="M10.07 4.76A10.40 10.40 0 0 1 -4.90 10.21" fill="none" stroke="#2a2aff" stroke-linecap="round" stroke-width="1.68" opacity="0.85"/><path d="M-7.67 7.88A10.40 10.40 0 0 1 -9.47 -2.36" fill="none" stroke="#1414e4" stroke-linecap="round" stroke-width="3.64" opacity="0.22"/><path d="M-7.67 7.88A10.40 10.40 0 0 1 -9.47 -2.36" fill="none" stroke="#1414e4" stroke-linecap="round" stroke-width="1.56" opacity="0.75"/><path d="M-6.38 -6.77A10.40 10.40 0 0 1 5.50 -7.81" fill="none" stroke="#1414e4" stroke-linecap="round" stroke-width="3.08" opacity="0.17"/><path d="M-6.38 -6.77A10.40 10.40 0 0 1 5.50 -7.81" fill="none" stroke="#1414e4" stroke-linecap="round" stroke-width="1.32" opacity="0.55"/><ellipse cx="0" cy="0" rx="14" ry="14" fill="#0e0e8c" opacity="0.08"/></g>
</svg>
<svg x="97.10" y="144.70" width="31.3" height="31.3" viewBox="-15.65 -15.65 31.3 31.3" overflow="hidden">
<rect x="-16" y="-16" width="32" height="32" fill="#000"/>
<g filter="url(#spd)"><rect x="-16" y="-16" width="32" height="32" fill="#083208"/></g>
</svg>
<svg x="130.00" y="144.70" width="31.3" height="31.3" viewBox="-15.65 -15.65 31.3 31.3" overflow="hidden">
<rect x="-16" y="-16" width="32" height="32" fill="#000"/>
<g filter="url(#b1a)"><ellipse cx="0.3" cy="1.2" rx="11.2" ry="11.2" fill="#101a68" opacity="0.95"/><ellipse cx="0.3" cy="1.2" rx="10.6" ry="10.6" fill="none" stroke="#2444d0" stroke-width="3.22" opacity="0.22"/><ellipse cx="0.3" cy="1.2" rx="10.6" ry="10.6" fill="none" stroke="#2444d0" stroke-width="1.38" opacity="0.75"/><path d="M-10.14 -0.64A10.60 10.60 0 0 1 5.60 -7.98" fill="none" stroke="#3080d8" stroke-linecap="round" stroke-width="2.80" opacity="0.15"/><path d="M-10.14 -0.64A10.60 10.60 0 0 1 5.60 -7.98" fill="none" stroke="#3080d8" stroke-linecap="round" stroke-width="1.20" opacity="0.50"/><path d="M10.74 3.04A10.60 10.60 0 0 1 -3.33 11.16" fill="none" stroke="#2a48f0" stroke-linecap="round" stroke-width="3.36" opacity="0.21"/><path d="M10.74 3.04A10.60 10.60 0 0 1 -3.33 11.16" fill="none" stroke="#2a48f0" stroke-linecap="round" stroke-width="1.44" opacity="0.70"/><ellipse cx="0" cy="0" rx="14" ry="14" fill="#0e0e8c" opacity="0.1"/><path d="M-3.5 6.5 L-1 1.5 L0.5 -2 L2.5 -6.5 M-5.5 1 L-1.5 0.5 L3.5 -1 M-3.5 -3 L0 -1 M0 2.5 L2.5 5 M-5 4.5 L-2.5 3.5 M3 -3 L5 -4.5 M1 5.8 L0.2 7.8" fill="none" stroke="#ff2a78" stroke-width="2.8" opacity="1" stroke-linecap="round" stroke-linejoin="round" transform="translate(-2.6,3.2) scale(0.95)"/><path d="M-3.5 6.5 L-1 1.5 L0.5 -2 L2.5 -6.5 M-5.5 1 L-1.5 0.5 L3.5 -1 M-3.5 -3 L0 -1 M0 2.5 L2.5 5 M-5 4.5 L-2.5 3.5 M3 -3 L5 -4.5 M1 5.8 L0.2 7.8" fill="none" stroke="#ff60a0" stroke-width="1.1" opacity="0.8" stroke-linecap="round" stroke-linejoin="round" transform="translate(-2.6,3.2) scale(0.95)"/></g>
</svg>
<svg x="187.40" y="46.00" width="31.3" height="31.3" viewBox="-15.65 -15.65 31.3 31.3" overflow="hidden">
<rect x="-16" y="-16" width="32" height="32" fill="#000"/>
<g filter="url(#b1b)"><g id="k10R"><ellipse cx="1.0" cy="0.4" rx="11.6" ry="11.0" fill="#740404" opacity="0.12"/><ellipse cx="1.0" cy="0.4" rx="11.6" ry="11.0" fill="none" stroke="#c40c0c" stroke-width="1.90" opacity="0.18"/><ellipse cx="1.0" cy="0.4" rx="11.6" ry="11.0" fill="none" stroke="#c40c0c" stroke-width="0.82" opacity="0.60"/><circle cx="2.0" cy="-10.6" r="0.70" fill="#ff1a1a" opacity="0.72"/><circle cx="4.9" cy="-10.0" r="0.98" fill="#ff1a1a" opacity="0.69"/><circle cx="7.7" cy="-8.9" r="1.01" fill="#ff1a1a" opacity="0.82"/><circle cx="9.0" cy="-7.9" r="0.79" fill="#ff1a1a" opacity="0.97"/><circle cx="12.0" cy="-4.2" r="0.80" fill="#ff1a1a" opacity="0.63"/><circle cx="11.6" cy="-3.0" r="0.85" fill="#ff1a1a" opacity="0.96"/><circle cx="12.3" cy="-0.5" r="1.04" fill="#ff1a1a" opacity="0.72"/><circle cx="12.7" cy="2.7" r="0.85" fill="#ff1a1a" opacity="0.62"/><circle cx="11.5" cy="5.3" r="0.88" fill="#ff1a1a" opacity="0.83"/><circle cx="9.4" cy="8.6" r="0.73" fill="#ff1a1a" opacity="0.58"/><circle cx="8.0" cy="8.9" r="0.94" fill="#ff1a1a" opacity="0.96"/><circle cx="4.8" cy="10.7" r="0.73" fill="#ff1a1a" opacity="0.77"/><circle cx="1.7" cy="11.7" r="1.05" fill="#ff1a1a" opacity="0.87"/><circle cx="-1.0" cy="11.2" r="0.68" fill="#ff1a1a" opacity="0.76"/><circle cx="-2.0" cy="11.2" r="0.76" fill="#ff1a1a" opacity="0.84"/><circle cx="-4.5" cy="9.9" r="0.69" fill="#ff1a1a" opacity="0.55"/><circle cx="-6.7" cy="8.3" r="1.01" fill="#ff1a1a" opacity="0.96"/><circle cx="-9.2" cy="5.1" r="0.84" fill="#ff1a1a" opacity="0.73"/><circle cx="-10.2" cy="4.0" r="1.00" fill="#ff1a1a" opacity="0.61"/><circle cx="-10.5" cy="1.5" r="0.97" fill="#ff1a1a" opacity="0.84"/><circle cx="-10.3" cy="-3.0" r="0.94" fill="#ff1a1a" opacity="0.47"/><circle cx="-9.6" cy="-3.9" r="0.73" fill="#ff1a1a" opacity="0.61"/><circle cx="-8.8" cy="-6.3" r="0.97" fill="#ff1a1a" opacity="0.85"/><circle cx="-5.2" cy="-8.7" r="0.94" fill="#ff1a1a" opacity="0.96"/><circle cx="-4.2" cy="-9.5" r="0.96" fill="#ff1a1a" opacity="0.64"/><circle cx="-1.0" cy="-10.4" r="0.69" fill="#ff1a1a" opacity="0.71"/><polyline points="5.0,-9.9 6.5,-9.3 7.9,-8.4 9.2,-7.4 10.3,-6.2 11.2,-4.8 11.9,-3.4 12.4,-1.8 12.6,-0.2 12.6,1.4 12.3,2.9 11.8,4.5 11.0,5.9 10.1,7.2 9.0,8.4 7.7,9.4 6.2,10.2 4.6,10.8 3.0,11.2" fill="none" stroke="#ff1a1a" stroke-linecap="round" stroke-linejoin="round" stroke-width="1.96" opacity="0.15"/><polyline points="5.0,-9.9 6.5,-9.3 7.9,-8.4 9.2,-7.4 10.3,-6.2 11.2,-4.8 11.9,-3.4 12.4,-1.8 12.6,-0.2 12.6,1.4 12.3,2.9 11.8,4.5 11.0,5.9 10.1,7.2 9.0,8.4 7.7,9.4 6.2,10.2 4.6,10.8 3.0,11.2" fill="none" stroke="#ff1a1a" stroke-linecap="round" stroke-linejoin="round" stroke-width="0.84" opacity="0.50"/></g></g>
</svg>
<svg x="220.30" y="46.00" width="31.3" height="31.3" viewBox="-15.65 -15.65 31.3 31.3" overflow="hidden">
<rect x="-16" y="-16" width="32" height="32" fill="#000"/>
<g filter="url(#b1c)"><g id="k10B"><ellipse cx="1.0" cy="0.4" rx="10.904" ry="10.34" fill="none" stroke="#2a2aff" stroke-width="1.78" opacity="0.24"/><ellipse cx="1.0" cy="0.4" rx="10.904" ry="10.34" fill="none" stroke="#2a2aff" stroke-width="0.76" opacity="0.80"/><circle cx="2.2" cy="-10.0" r="0.64" fill="#2a2aff" opacity="0.46"/><circle cx="4.1" cy="-9.4" r="0.76" fill="#2a2aff" opacity="0.26"/><circle cx="8.3" cy="-7.4" r="0.67" fill="#2a2aff" opacity="0.30"/><circle cx="9.4" cy="-6.1" r="0.79" fill="#2a2aff" opacity="0.23"/><circle cx="11.2" cy="-3.9" r="0.82" fill="#2a2aff" opacity="0.29"/><circle cx="11.8" cy="-0.3" r="0.59" fill="#2a2aff" opacity="0.49"/><circle cx="12.1" cy="2.1" r="0.69" fill="#2a2aff" opacity="0.47"/><circle cx="10.0" cy="6.9" r="0.81" fill="#2a2aff" opacity="0.37"/><circle cx="8.9" cy="7.3" r="0.65" fill="#2a2aff" opacity="0.45"/><circle cx="5.2" cy="9.5" r="0.79" fill="#2a2aff" opacity="0.26"/><circle cx="3.1" cy="10.5" r="0.66" fill="#2a2aff" opacity="0.36"/><circle cx="0.1" cy="10.3" r="0.62" fill="#2a2aff" opacity="0.21"/><circle cx="-4.4" cy="9.6" r="0.73" fill="#2a2aff" opacity="0.39"/><circle cx="-6.4" cy="8.2" r="0.81" fill="#2a2aff" opacity="0.43"/><circle cx="-7.8" cy="6.5" r="0.60" fill="#2a2aff" opacity="0.35"/><circle cx="-9.2" cy="4.8" r="0.71" fill="#2a2aff" opacity="0.34"/><circle cx="-9.8" cy="1.3" r="0.72" fill="#2a2aff" opacity="0.27"/><circle cx="-9.8" cy="-1.3" r="0.79" fill="#2a2aff" opacity="0.29"/><circle cx="-8.7" cy="-3.9" r="0.74" fill="#2a2aff" opacity="0.31"/><circle cx="-7.1" cy="-6.4" r="0.78" fill="#2a2aff" opacity="0.42"/><circle cx="-4.0" cy="-9.2" r="0.69" fill="#2a2aff" opacity="0.21"/><circle cx="-1.8" cy="-10.0" r="0.73" fill="#2a2aff" opacity="0.44"/><polyline points="-8.4,-4.8 -7.6,-6.0 -6.6,-7.0 -5.4,-8.0 -4.1,-8.7 -2.7,-9.3 -1.3,-9.7 0.2,-9.9 1.8,-9.9 3.3,-9.7 4.7,-9.3 6.1,-8.7 7.4,-8.0 8.6,-7.0 9.6,-6.0 10.4,-4.8" fill="none" stroke="#2a2aff" stroke-linecap="round" stroke-linejoin="round" stroke-width="1.82" opacity="0.15"/><polyline points="-8.4,-4.8 -7.6,-6.0 -6.6,-7.0 -5.4,-8.0 -4.1,-8.7 -2.7,-9.3 -1.3,-9.7 0.2,-9.9 1.8,-9.9 3.3,-9.7 4.7,-9.3 6.1,-8.7 7.4,-8.0 8.6,-7.0 9.6,-6.0 10.4,-4.8" fill="none" stroke="#2a2aff" stroke-linecap="round" stroke-linejoin="round" stroke-width="0.78" opacity="0.50"/></g></g>
</svg>
<svg x="253.20" y="46.00" width="31.3" height="31.3" viewBox="-15.65 -15.65 31.3 31.3" overflow="hidden">
<rect x="-16" y="-16" width="32" height="32" fill="#000"/>
<g filter="url(#b1d)"><g id="k10G"><ellipse cx="1.0" cy="0.4" rx="11.6" ry="11.0" fill="#064e06" opacity="0.18"/><ellipse cx="1.0" cy="0.4" rx="11.6" ry="11.0" fill="none" stroke="#064e06" stroke-width="1.67" opacity="0.13"/><ellipse cx="1.0" cy="0.4" rx="11.6" ry="11.0" fill="none" stroke="#064e06" stroke-width="0.71" opacity="0.44"/><circle cx="1.6" cy="-10.8" r="0.71" fill="#26e426" opacity="0.43"/><circle cx="4.4" cy="-9.9" r="0.89" fill="#26e426" opacity="0.76"/><circle cx="8.1" cy="-7.9" r="0.76" fill="#26e426" opacity="0.76"/><circle cx="9.6" cy="-6.8" r="0.66" fill="#26e426" opacity="0.56"/><circle cx="10.9" cy="-5.0" r="0.90" fill="#26e426" opacity="0.42"/><circle cx="12.8" cy="-0.6" r="0.66" fill="#26e426" opacity="0.48"/><circle cx="12.6" cy="2.6" r="0.86" fill="#26e426" opacity="0.43"/><circle cx="12.1" cy="4.4" r="0.75" fill="#26e426" opacity="0.65"/><circle cx="10.5" cy="6.6" r="0.84" fill="#26e426" opacity="0.81"/><circle cx="7.8" cy="9.6" r="0.61" fill="#26e426" opacity="0.51"/><circle cx="5.7" cy="10.7" r="0.90" fill="#26e426" opacity="0.52"/><circle cx="2.9" cy="11.0" r="0.88" fill="#26e426" opacity="0.60"/><circle cx="0.4" cy="11.3" r="0.74" fill="#26e426" opacity="0.67"/><circle cx="-2.3" cy="10.9" r="0.86" fill="#26e426" opacity="0.75"/><circle cx="-5.1" cy="9.6" r="0.92" fill="#26e426" opacity="0.53"/><circle cx="-8.6" cy="6.4" r="0.70" fill="#26e426" opacity="0.39"/><circle cx="-8.8" cy="5.7" r="0.67" fill="#26e426" opacity="0.43"/><circle cx="-10.2" cy="1.8" r="0.80" fill="#26e426" opacity="0.42"/><circle cx="-10.7" cy="-1.7" r="0.88" fill="#26e426" opacity="0.43"/><circle cx="-10.1" cy="-3.3" r="0.90" fill="#26e426" opacity="0.37"/><circle cx="-8.4" cy="-6.4" r="0.87" fill="#26e426" opacity="0.55"/><circle cx="-6.2" cy="-8.3" r="0.82" fill="#26e426" opacity="0.49"/><circle cx="-4.0" cy="-9.3" r="0.89" fill="#26e426" opacity="0.52"/><circle cx="-1.7" cy="-10.0" r="0.92" fill="#26e426" opacity="0.54"/><polyline points="-4.8,-9.1 -3.3,-9.8 -1.7,-10.3 -0.0,-10.6 1.7,-10.6 3.3,-10.4 5.0,-9.9 6.5,-9.3 7.9,-8.4 9.2,-7.4 10.3,-6.2 11.2,-4.8 11.9,-3.4 12.4,-1.8 12.6,-0.2 12.6,1.4 12.3,2.9 11.8,4.5 11.0,5.9" fill="none" stroke="#0e9e0e" stroke-linecap="round" stroke-linejoin="round" stroke-width="1.68" opacity="0.10"/><polyline points="-4.8,-9.1 -3.3,-9.8 -1.7,-10.3 -0.0,-10.6 1.7,-10.6 3.3,-10.4 5.0,-9.9 6.5,-9.3 7.9,-8.4 9.2,-7.4 10.3,-6.2 11.2,-4.8 11.9,-3.4 12.4,-1.8 12.6,-0.2 12.6,1.4 12.3,2.9 11.8,4.5 11.0,5.9" fill="none" stroke="#0e9e0e" stroke-linecap="round" stroke-linejoin="round" stroke-width="0.72" opacity="0.35"/></g></g>
</svg>
<svg x="286.10" y="46.00" width="31.3" height="31.3" viewBox="-15.65 -15.65 31.3 31.3" overflow="hidden">
<rect x="-16" y="-16" width="32" height="32" fill="#000"/>
<g filter="url(#b1a)"><use href="#k10B" x="0" y="0" style="mix-blend-mode:screen" opacity="0.95"/><use href="#k10G" x="0.5" y="-0.4" style="mix-blend-mode:screen" opacity="0.8"/><use href="#k10R" x="-0.55" y="0.35" style="mix-blend-mode:screen" opacity="0.92"/></g>
</svg>
<svg x="187.40" y="78.90" width="31.3" height="31.3" viewBox="-15.65 -15.65 31.3 31.3" overflow="hidden">
<rect x="-16" y="-16" width="32" height="32" fill="#000"/>
<g filter="url(#b1b)"><g id="k11R"><ellipse cx="0.5" cy="0.3" rx="11.9" ry="12.6" fill="#740404" opacity="0.08"/><ellipse cx="0.5" cy="0.3" rx="11.9" ry="12.6" fill="none" stroke="#c40c0c" stroke-width="2.02" opacity="0.19"/><ellipse cx="0.5" cy="0.3" rx="11.9" ry="12.6" fill="none" stroke="#c40c0c" stroke-width="0.87" opacity="0.64"/><circle cx="0.9" cy="-12.5" r="0.85" fill="#ff1a1a" opacity="0.71"/><circle cx="3.7" cy="-12.1" r="0.78" fill="#ff1a1a" opacity="0.69"/><circle cx="6.5" cy="-10.3" r="1.10" fill="#ff1a1a" opacity="0.78"/><circle cx="8.6" cy="-8.4" r="0.79" fill="#ff1a1a" opacity="0.86"/><circle cx="9.8" cy="-6.9" r="0.71" fill="#ff1a1a" opacity="0.56"/><circle cx="12.0" cy="-3.4" r="1.09" fill="#ff1a1a" opacity="0.80"/><circle cx="11.9" cy="-1.4" r="0.72" fill="#ff1a1a" opacity="0.78"/><circle cx="12.7" cy="0.7" r="1.05" fill="#ff1a1a" opacity="0.44"/><circle cx="11.9" cy="4.1" r="0.97" fill="#ff1a1a" opacity="0.71"/><circle cx="10.7" cy="6.0" r="0.76" fill="#ff1a1a" opacity="0.86"/><circle cx="8.5" cy="9.3" r="0.72" fill="#ff1a1a" opacity="0.46"/><circle cx="6.7" cy="11.3" r="0.87" fill="#ff1a1a" opacity="0.56"/><circle cx="5.4" cy="11.8" r="0.77" fill="#ff1a1a" opacity="0.88"/><circle cx="1.2" cy="13.2" r="0.94" fill="#ff1a1a" opacity="0.78"/><circle cx="-0.5" cy="12.8" r="0.71" fill="#ff1a1a" opacity="0.77"/><circle cx="-2.1" cy="12.2" r="0.82" fill="#ff1a1a" opacity="0.40"/><circle cx="-5.6" cy="11.1" r="0.88" fill="#ff1a1a" opacity="0.55"/><circle cx="-7.3" cy="9.9" r="0.88" fill="#ff1a1a" opacity="0.63"/><circle cx="-8.8" cy="7.7" r="0.96" fill="#ff1a1a" opacity="0.44"/><circle cx="-10.6" cy="5.1" r="0.98" fill="#ff1a1a" opacity="0.94"/><circle cx="-11.4" cy="3.0" r="0.79" fill="#ff1a1a" opacity="0.78"/><circle cx="-11.5" cy="-1.3" r="0.75" fill="#ff1a1a" opacity="0.43"/><circle cx="-11.3" cy="-3.5" r="0.72" fill="#ff1a1a" opacity="0.65"/><circle cx="-9.3" cy="-6.9" r="0.95" fill="#ff1a1a" opacity="0.85"/><circle cx="-7.3" cy="-8.8" r="1.07" fill="#ff1a1a" opacity="0.52"/><circle cx="-5.6" cy="-10.5" r="0.77" fill="#ff1a1a" opacity="0.97"/><circle cx="-4.1" cy="-11.1" r="0.94" fill="#ff1a1a" opacity="0.90"/><circle cx="-2.0" cy="-11.9" r="0.75" fill="#ff1a1a" opacity="0.41"/><polyline points="-1.6,12.7 -3.2,12.3 -4.7,11.6 -6.2,10.7 -7.5,9.7 -8.6,8.4 -9.6,7.0 -10.4,5.4 -10.9,3.8 -11.3,2.1 -11.4,0.3 -11.3,-1.5 -10.9,-3.2 -10.4,-4.8 -9.6,-6.4 -8.6,-7.8 -7.5,-9.1 -6.2,-10.1 -4.7,-11.0 -3.2,-11.7 -1.6,-12.1" fill="none" stroke="#ff1a1a" stroke-linecap="round" stroke-linejoin="round" stroke-width="2.52" opacity="0.24"/><polyline points="-1.6,12.7 -3.2,12.3 -4.7,11.6 -6.2,10.7 -7.5,9.7 -8.6,8.4 -9.6,7.0 -10.4,5.4 -10.9,3.8 -11.3,2.1 -11.4,0.3 -11.3,-1.5 -10.9,-3.2 -10.4,-4.8 -9.6,-6.4 -8.6,-7.8 -7.5,-9.1 -6.2,-10.1 -4.7,-11.0 -3.2,-11.7 -1.6,-12.1" fill="none" stroke="#ff1a1a" stroke-linecap="round" stroke-linejoin="round" stroke-width="1.08" opacity="0.80"/></g></g>
</svg>
<svg x="220.30" y="78.90" width="31.3" height="31.3" viewBox="-15.65 -15.65 31.3 31.3" overflow="hidden">
<rect x="-16" y="-16" width="32" height="32" fill="#000"/>
<g filter="url(#b1c)"><g id="k11B"><ellipse cx="0.5" cy="0.3" rx="11.305" ry="11.969999999999999" fill="none" stroke="#2a2aff" stroke-width="3.09" opacity="0.24"/><ellipse cx="0.5" cy="0.3" rx="11.305" ry="11.969999999999999" fill="none" stroke="#2a2aff" stroke-width="1.33" opacity="0.80"/><circle cx="2.7" cy="-11.1" r="0.94" fill="#2a2aff" opacity="0.25"/><circle cx="3.7" cy="-10.8" r="0.72" fill="#2a2aff" opacity="0.50"/><circle cx="7.7" cy="-8.6" r="0.62" fill="#2a2aff" opacity="0.51"/><circle cx="9.7" cy="-7.3" r="0.71" fill="#2a2aff" opacity="0.28"/><circle cx="10.6" cy="-3.9" r="0.65" fill="#2a2aff" opacity="0.40"/><circle cx="11.3" cy="-2.0" r="0.66" fill="#2a2aff" opacity="0.41"/><circle cx="11.8" cy="2.7" r="0.62" fill="#2a2aff" opacity="0.41"/><circle cx="11.0" cy="5.1" r="0.86" fill="#2a2aff" opacity="0.27"/><circle cx="10.1" cy="7.1" r="0.62" fill="#2a2aff" opacity="0.38"/><circle cx="8.5" cy="9.2" r="0.72" fill="#2a2aff" opacity="0.56"/><circle cx="6.1" cy="10.8" r="0.93" fill="#2a2aff" opacity="0.28"/><circle cx="2.3" cy="12.1" r="0.81" fill="#2a2aff" opacity="0.38"/><circle cx="-1.6" cy="11.9" r="0.82" fill="#2a2aff" opacity="0.41"/><circle cx="-3.1" cy="11.7" r="0.76" fill="#2a2aff" opacity="0.46"/><circle cx="-6.5" cy="9.7" r="0.92" fill="#2a2aff" opacity="0.25"/><circle cx="-8.0" cy="8.1" r="0.81" fill="#2a2aff" opacity="0.28"/><circle cx="-10.2" cy="4.1" r="0.81" fill="#2a2aff" opacity="0.59"/><circle cx="-10.5" cy="1.2" r="0.76" fill="#2a2aff" opacity="0.49"/><circle cx="-10.7" cy="-0.5" r="0.88" fill="#2a2aff" opacity="0.61"/><circle cx="-10.3" cy="-4.2" r="0.72" fill="#2a2aff" opacity="0.55"/><circle cx="-8.1" cy="-6.9" r="0.81" fill="#2a2aff" opacity="0.31"/><circle cx="-5.8" cy="-9.6" r="0.66" fill="#2a2aff" opacity="0.44"/><circle cx="-4.1" cy="-10.7" r="0.61" fill="#2a2aff" opacity="0.35"/><circle cx="-1.4" cy="-11.7" r="0.73" fill="#2a2aff" opacity="0.49"/><polyline points="-10.8,0.3 -10.7,-1.4 -10.3,-3.1 -9.8,-4.7 -9.0,-6.2 -8.0,-7.5 -6.9,-8.7 -5.6,-9.8 -4.2,-10.6 -2.7,-11.2 -1.1,-11.5 0.5,-11.7 2.1,-11.5 3.7,-11.2 5.2,-10.6 6.6,-9.8 7.9,-8.7 9.0,-7.5 10.0,-6.2 10.8,-4.7 11.3,-3.1 11.7,-1.4 11.8,0.3" fill="none" stroke="#2a2aff" stroke-linecap="round" stroke-linejoin="round" stroke-width="2.80" opacity="0.24"/><polyline points="-10.8,0.3 -10.7,-1.4 -10.3,-3.1 -9.8,-4.7 -9.0,-6.2 -8.0,-7.5 -6.9,-8.7 -5.6,-9.8 -4.2,-10.6 -2.7,-11.2 -1.1,-11.5 0.5,-11.7 2.1,-11.5 3.7,-11.2 5.2,-10.6 6.6,-9.8 7.9,-8.7 9.0,-7.5 10.0,-6.2 10.8,-4.7 11.3,-3.1 11.7,-1.4 11.8,0.3" fill="none" stroke="#2a2aff" stroke-linecap="round" stroke-linejoin="round" stroke-width="1.20" opacity="0.80"/></g></g>
</svg>
<svg x="253.20" y="78.90" width="31.3" height="31.3" viewBox="-15.65 -15.65 31.3 31.3" overflow="hidden">
<rect x="-16" y="-16" width="32" height="32" fill="#000"/>
<g filter="url(#b1d)"><g id="k11G"><ellipse cx="0.5" cy="0.3" rx="11.9" ry="12.6" fill="#064e06" opacity="0.18"/><ellipse cx="0.5" cy="0.3" rx="11.9" ry="12.6" fill="none" stroke="#0e9e0e" stroke-width="1.78" opacity="0.18"/><ellipse cx="0.5" cy="0.3" rx="11.9" ry="12.6" fill="none" stroke="#0e9e0e" stroke-width="0.76" opacity="0.60"/><circle cx="2.3" cy="-12.6" r="0.82" fill="#26e426" opacity="0.95"/><circle cx="3.9" cy="-11.7" r="0.98" fill="#26e426" opacity="0.92"/><circle cx="5.4" cy="-11.1" r="1.11" fill="#26e426" opacity="0.73"/><circle cx="6.9" cy="-9.8" r="0.90" fill="#26e426" opacity="0.75"/><circle cx="9.7" cy="-8.0" r="1.05" fill="#26e426" opacity="0.97"/><circle cx="11.2" cy="-5.4" r="0.92" fill="#26e426" opacity="0.63"/><circle cx="11.9" cy="-2.7" r="0.88" fill="#26e426" opacity="0.78"/><circle cx="12.5" cy="-1.1" r="1.07" fill="#26e426" opacity="0.95"/><circle cx="12.6" cy="1.3" r="0.95" fill="#26e426" opacity="0.73"/><circle cx="11.6" cy="3.9" r="1.13" fill="#26e426" opacity="0.81"/><circle cx="10.6" cy="6.4" r="1.16" fill="#26e426" opacity="0.94"/><circle cx="10.2" cy="7.3" r="0.96" fill="#26e426" opacity="0.51"/><circle cx="8.4" cy="9.6" r="1.08" fill="#26e426" opacity="0.82"/><circle cx="5.9" cy="11.6" r="1.10" fill="#26e426" opacity="0.94"/><circle cx="3.7" cy="12.6" r="0.85" fill="#26e426" opacity="0.86"/><circle cx="1.9" cy="13.2" r="0.95" fill="#26e426" opacity="0.43"/><circle cx="0.2" cy="13.3" r="1.18" fill="#26e426" opacity="0.75"/><circle cx="-1.9" cy="12.9" r="0.91" fill="#26e426" opacity="0.42"/><circle cx="-5.6" cy="11.6" r="0.97" fill="#26e426" opacity="0.41"/><circle cx="-7.1" cy="9.8" r="0.78" fill="#26e426" opacity="0.77"/><circle cx="-7.9" cy="8.7" r="1.00" fill="#26e426" opacity="0.88"/><circle cx="-10.6" cy="5.9" r="1.11" fill="#26e426" opacity="0.94"/><circle cx="-10.6" cy="4.0" r="0.97" fill="#26e426" opacity="0.51"/><circle cx="-11.2" cy="2.3" r="0.82" fill="#26e426" opacity="0.73"/><circle cx="-11.7" cy="-0.4" r="0.85" fill="#26e426" opacity="0.46"/><circle cx="-10.8" cy="-3.5" r="0.91" fill="#26e426" opacity="0.50"/><circle cx="-9.8" cy="-5.6" r="1.08" fill="#26e426" opacity="0.75"/><circle cx="-8.6" cy="-7.9" r="0.97" fill="#26e426" opacity="0.50"/><circle cx="-7.9" cy="-8.8" r="1.06" fill="#26e426" opacity="0.66"/><circle cx="-4.7" cy="-10.8" r="0.79" fill="#26e426" opacity="0.95"/><circle cx="-3.1" cy="-11.8" r="1.11" fill="#26e426" opacity="0.66"/><circle cx="-0.9" cy="-12.2" r="0.90" fill="#26e426" opacity="1.00"/><polyline points="-3.6,12.1 -5.1,11.4 -6.5,10.5 -7.8,9.3 -8.9,8.0 -9.9,6.5 -10.6,4.9 -11.1,3.2 -11.4,1.4 -11.4,-0.4 -11.2,-2.2 -10.7,-3.9 -10.1,-5.5 -9.2,-7.0 -8.1,-8.4 -6.8,-9.6 -5.5,-10.6" fill="none" stroke="#26e426" stroke-linecap="round" stroke-linejoin="round" stroke-width="2.10" opacity="0.18"/><polyline points="-3.6,12.1 -5.1,11.4 -6.5,10.5 -7.8,9.3 -8.9,8.0 -9.9,6.5 -10.6,4.9 -11.1,3.2 -11.4,1.4 -11.4,-0.4 -11.2,-2.2 -10.7,-3.9 -10.1,-5.5 -9.2,-7.0 -8.1,-8.4 -6.8,-9.6 -5.5,-10.6" fill="none" stroke="#26e426" stroke-linecap="round" stroke-linejoin="round" stroke-width="0.90" opacity="0.60"/></g></g>
</svg>
<svg x="286.10" y="78.90" width="31.3" height="31.3" viewBox="-15.65 -15.65 31.3 31.3" overflow="hidden">
<rect x="-16" y="-16" width="32" height="32" fill="#000"/>
<g filter="url(#b1a)"><use href="#k11B" x="0" y="0" style="mix-blend-mode:screen" opacity="0.95"/><use href="#k11G" x="0.5" y="-0.4" style="mix-blend-mode:screen" opacity="0.8"/><use href="#k11R" x="-0.55" y="0.35" style="mix-blend-mode:screen" opacity="0.92"/></g>
</svg>
<svg x="187.40" y="111.80" width="31.3" height="31.3" viewBox="-15.65 -15.65 31.3 31.3" overflow="hidden">
<rect x="-16" y="-16" width="32" height="32" fill="#000"/>
<g filter="url(#b1b)"><g id="k12R"><ellipse cx="0.2" cy="0.4" rx="12.7" ry="12.9" fill="#740404" opacity="0.18"/><ellipse cx="0.2" cy="0.4" rx="12.7" ry="12.9" fill="none" stroke="#c40c0c" stroke-width="1.78" opacity="0.14"/><ellipse cx="0.2" cy="0.4" rx="12.7" ry="12.9" fill="none" stroke="#c40c0c" stroke-width="0.76" opacity="0.48"/><circle cx="0.2" cy="-12.2" r="0.90" fill="#ff1a1a" opacity="0.52"/><circle cx="3.0" cy="-11.8" r="0.96" fill="#ff1a1a" opacity="0.48"/><circle cx="5.7" cy="-11.4" r="0.80" fill="#ff1a1a" opacity="0.80"/><circle cx="8.5" cy="-9.3" r="0.89" fill="#ff1a1a" opacity="0.35"/><circle cx="9.4" cy="-7.8" r="0.69" fill="#ff1a1a" opacity="0.66"/><circle cx="11.3" cy="-5.6" r="0.91" fill="#ff1a1a" opacity="0.37"/><circle cx="12.2" cy="-3.1" r="0.83" fill="#ff1a1a" opacity="0.59"/><circle cx="13.2" cy="1.1" r="0.92" fill="#ff1a1a" opacity="0.77"/><circle cx="12.9" cy="3.6" r="1.04" fill="#ff1a1a" opacity="0.49"/><circle cx="11.7" cy="6.2" r="0.97" fill="#ff1a1a" opacity="0.46"/><circle cx="10.1" cy="8.0" r="0.81" fill="#ff1a1a" opacity="0.76"/><circle cx="9.5" cy="9.0" r="0.92" fill="#ff1a1a" opacity="0.67"/><circle cx="6.7" cy="11.9" r="0.69" fill="#ff1a1a" opacity="0.36"/><circle cx="3.4" cy="13.1" r="0.93" fill="#ff1a1a" opacity="0.78"/><circle cx="1.5" cy="13.3" r="0.80" fill="#ff1a1a" opacity="0.83"/><circle cx="-0.2" cy="13.7" r="0.82" fill="#ff1a1a" opacity="0.51"/><circle cx="-2.6" cy="12.9" r="0.71" fill="#ff1a1a" opacity="0.53"/><circle cx="-6.7" cy="10.9" r="0.88" fill="#ff1a1a" opacity="0.45"/><circle cx="-8.2" cy="10.4" r="0.84" fill="#ff1a1a" opacity="0.81"/><circle cx="-9.7" cy="9.2" r="1.00" fill="#ff1a1a" opacity="0.77"/><circle cx="-11.3" cy="6.3" r="0.73" fill="#ff1a1a" opacity="0.63"/><circle cx="-12.4" cy="3.4" r="0.94" fill="#ff1a1a" opacity="0.68"/><circle cx="-12.6" cy="0.4" r="1.04" fill="#ff1a1a" opacity="0.82"/><circle cx="-12.6" cy="-1.3" r="0.79" fill="#ff1a1a" opacity="0.36"/><circle cx="-11.1" cy="-5.0" r="0.76" fill="#ff1a1a" opacity="0.36"/><circle cx="-10.0" cy="-6.4" r="0.91" fill="#ff1a1a" opacity="0.73"/><circle cx="-8.7" cy="-8.2" r="1.00" fill="#ff1a1a" opacity="0.42"/><circle cx="-7.2" cy="-10.2" r="0.97" fill="#ff1a1a" opacity="0.77"/><circle cx="-3.3" cy="-11.8" r="0.98" fill="#ff1a1a" opacity="0.64"/><circle cx="-1.0" cy="-12.5" r="0.73" fill="#ff1a1a" opacity="0.66"/><polyline points="-6.2,11.6 -7.6,10.6 -8.9,9.4 -10.1,8.0 -11.0,6.5 -11.7,4.8 -12.2,3.1 -12.5,1.3 -12.5,-0.5 -12.2,-2.3 -11.7,-4.0 -11.0,-5.7 -10.1,-7.2 -8.9,-8.6 -7.6,-9.8 -6.2,-10.8" fill="none" stroke="#ff1a1a" stroke-linecap="round" stroke-linejoin="round" stroke-width="2.10" opacity="0.15"/><polyline points="-6.2,11.6 -7.6,10.6 -8.9,9.4 -10.1,8.0 -11.0,6.5 -11.7,4.8 -12.2,3.1 -12.5,1.3 -12.5,-0.5 -12.2,-2.3 -11.7,-4.0 -11.0,-5.7 -10.1,-7.2 -8.9,-8.6 -7.6,-9.8 -6.2,-10.8" fill="none" stroke="#ff1a1a" stroke-linecap="round" stroke-linejoin="round" stroke-width="0.90" opacity="0.50"/><polyline points="4.5,-11.7 6.3,-10.9 7.9,-9.9 9.3,-8.6 10.5,-7.1 11.5,-5.5 12.2,-3.7 12.7,-1.8" fill="none" stroke="#ff1a1a" stroke-linecap="round" stroke-linejoin="round" stroke-width="1.96" opacity="0.15"/><polyline points="4.5,-11.7 6.3,-10.9 7.9,-9.9 9.3,-8.6 10.5,-7.1 11.5,-5.5 12.2,-3.7 12.7,-1.8" fill="none" stroke="#ff1a1a" stroke-linecap="round" stroke-linejoin="round" stroke-width="0.84" opacity="0.50"/></g></g>
</svg>
<svg x="220.30" y="111.80" width="31.3" height="31.3" viewBox="-15.65 -15.65 31.3 31.3" overflow="hidden">
<rect x="-16" y="-16" width="32" height="32" fill="#000"/>
<g filter="url(#b1c)"><g id="k12B"><ellipse cx="0.2" cy="0.4" rx="12.318999999999999" ry="12.513" fill="#0e0e8c" opacity="0.55"/><ellipse cx="0.2" cy="0.4" rx="12.318999999999999" ry="12.513" fill="none" stroke="#2a2aff" stroke-width="2.26" opacity="0.24"/><ellipse cx="0.2" cy="0.4" rx="12.318999999999999" ry="12.513" fill="none" stroke="#2a2aff" stroke-width="0.97" opacity="0.80"/><circle cx="0.4" cy="-11.9" r="0.84" fill="#2a2aff" opacity="0.23"/><circle cx="4.3" cy="-11.6" r="0.91" fill="#2a2aff" opacity="0.35"/><circle cx="7.6" cy="-9.6" r="0.62" fill="#2a2aff" opacity="0.24"/><circle cx="8.7" cy="-8.0" r="0.69" fill="#2a2aff" opacity="0.46"/><circle cx="10.5" cy="-6.8" r="0.66" fill="#2a2aff" opacity="0.25"/><circle cx="12.1" cy="-1.8" r="0.92" fill="#2a2aff" opacity="0.46"/><circle cx="12.1" cy="1.2" r="0.89" fill="#2a2aff" opacity="0.49"/><circle cx="12.0" cy="2.0" r="0.82" fill="#2a2aff" opacity="0.45"/><circle cx="11.8" cy="5.7" r="0.89" fill="#2a2aff" opacity="0.26"/><circle cx="9.3" cy="8.9" r="0.75" fill="#2a2aff" opacity="0.27"/><circle cx="7.1" cy="10.4" r="0.83" fill="#2a2aff" opacity="0.43"/><circle cx="5.2" cy="12.3" r="0.80" fill="#2a2aff" opacity="0.48"/><circle cx="2.1" cy="13.1" r="0.79" fill="#2a2aff" opacity="0.29"/><circle cx="-0.0" cy="12.5" r="0.72" fill="#2a2aff" opacity="0.49"/><circle cx="-3.4" cy="12.3" r="0.88" fill="#2a2aff" opacity="0.49"/><circle cx="-5.7" cy="11.8" r="0.71" fill="#2a2aff" opacity="0.21"/><circle cx="-9.1" cy="9.2" r="0.65" fill="#2a2aff" opacity="0.31"/><circle cx="-10.6" cy="6.4" r="0.87" fill="#2a2aff" opacity="0.39"/><circle cx="-11.5" cy="3.1" r="0.66" fill="#2a2aff" opacity="0.35"/><circle cx="-12.4" cy="0.5" r="0.73" fill="#2a2aff" opacity="0.46"/><circle cx="-11.5" cy="-1.6" r="0.94" fill="#2a2aff" opacity="0.21"/><circle cx="-11.1" cy="-5.5" r="0.68" fill="#2a2aff" opacity="0.41"/><circle cx="-8.7" cy="-8.8" r="0.79" fill="#2a2aff" opacity="0.48"/><circle cx="-7.2" cy="-9.2" r="0.82" fill="#2a2aff" opacity="0.48"/><circle cx="-4.1" cy="-11.8" r="0.87" fill="#2a2aff" opacity="0.27"/><circle cx="-1.4" cy="-12.0" r="0.64" fill="#2a2aff" opacity="0.39"/></g></g>
</svg>
<svg x="253.20" y="111.80" width="31.3" height="31.3" viewBox="-15.65 -15.65 31.3 31.3" overflow="hidden">
<rect x="-16" y="-16" width="32" height="32" fill="#000"/>
<g filter="url(#b1d)"><g id="k12G"><ellipse cx="0.2" cy="0.4" rx="12.7" ry="12.9" fill="#064e06" opacity="0.6"/><ellipse cx="0.2" cy="0.4" rx="12.7" ry="12.9" fill="none" stroke="#0e9e0e" stroke-width="1.78" opacity="0.19"/><ellipse cx="0.2" cy="0.4" rx="12.7" ry="12.9" fill="none" stroke="#0e9e0e" stroke-width="0.76" opacity="0.64"/><circle cx="1.5" cy="-12.6" r="0.74" fill="#26e426" opacity="0.73"/><circle cx="4.6" cy="-12.1" r="0.71" fill="#26e426" opacity="0.78"/><circle cx="7.1" cy="-10.6" r="0.86" fill="#26e426" opacity="0.37"/><circle cx="9.0" cy="-8.8" r="0.69" fill="#26e426" opacity="0.54"/><circle cx="10.4" cy="-7.0" r="0.86" fill="#26e426" opacity="0.85"/><circle cx="12.4" cy="-4.0" r="0.89" fill="#26e426" opacity="0.43"/><circle cx="12.9" cy="-0.3" r="0.79" fill="#26e426" opacity="0.81"/><circle cx="13.3" cy="0.5" r="0.94" fill="#26e426" opacity="0.76"/><circle cx="12.2" cy="5.3" r="1.00" fill="#26e426" opacity="0.71"/><circle cx="11.2" cy="6.4" r="1.05" fill="#26e426" opacity="0.60"/><circle cx="9.6" cy="8.9" r="0.98" fill="#26e426" opacity="0.82"/><circle cx="8.3" cy="10.8" r="0.77" fill="#26e426" opacity="0.58"/><circle cx="5.3" cy="11.9" r="1.00" fill="#26e426" opacity="0.71"/><circle cx="2.9" cy="12.8" r="0.97" fill="#26e426" opacity="0.77"/><circle cx="-1.3" cy="13.2" r="0.87" fill="#26e426" opacity="0.69"/><circle cx="-3.9" cy="12.9" r="0.93" fill="#26e426" opacity="0.84"/><circle cx="-6.2" cy="11.4" r="0.75" fill="#26e426" opacity="0.82"/><circle cx="-8.8" cy="8.8" r="0.85" fill="#26e426" opacity="0.64"/><circle cx="-10.4" cy="8.1" r="0.78" fill="#26e426" opacity="0.79"/><circle cx="-11.8" cy="5.0" r="1.04" fill="#26e426" opacity="0.83"/><circle cx="-12.6" cy="1.9" r="0.88" fill="#26e426" opacity="0.65"/><circle cx="-12.2" cy="-0.8" r="0.72" fill="#26e426" opacity="0.37"/><circle cx="-11.5" cy="-3.4" r="0.90" fill="#26e426" opacity="0.45"/><circle cx="-10.6" cy="-5.7" r="0.98" fill="#26e426" opacity="0.50"/><circle cx="-8.6" cy="-8.6" r="0.81" fill="#26e426" opacity="0.48"/><circle cx="-6.0" cy="-11.2" r="0.89" fill="#26e426" opacity="0.45"/><circle cx="-3.4" cy="-12.3" r="0.77" fill="#26e426" opacity="0.57"/><circle cx="-1.5" cy="-12.7" r="0.81" fill="#26e426" opacity="0.50"/><polyline points="-4.1,12.5 -5.8,11.8 -7.4,10.7 -8.8,9.5 -10.0,8.1 -11.0,6.5 -11.7,4.8 -12.2,3.0 -12.5,1.2 -12.5,-0.7 -12.2,-2.6 -11.6,-4.4 -10.8,-6.1" fill="none" stroke="#26e426" stroke-linecap="round" stroke-linejoin="round" stroke-width="1.96" opacity="0.12"/><polyline points="-4.1,12.5 -5.8,11.8 -7.4,10.7 -8.8,9.5 -10.0,8.1 -11.0,6.5 -11.7,4.8 -12.2,3.0 -12.5,1.2 -12.5,-0.7 -12.2,-2.6 -11.6,-4.4 -10.8,-6.1" fill="none" stroke="#26e426" stroke-linecap="round" stroke-linejoin="round" stroke-width="0.84" opacity="0.40"/></g></g>
</svg>
<svg x="286.10" y="111.80" width="31.3" height="31.3" viewBox="-15.65 -15.65 31.3 31.3" overflow="hidden">
<rect x="-16" y="-16" width="32" height="32" fill="#04080a"/>
<g filter="url(#b1a)"><use href="#k12B" x="0" y="0" style="mix-blend-mode:screen" opacity="0.95"/><use href="#k12G" x="0.5" y="-0.4" style="mix-blend-mode:screen" opacity="0.8"/><use href="#k12R" x="-0.55" y="0.35" style="mix-blend-mode:screen" opacity="0.92"/></g>
</svg>
<svg x="187.40" y="144.70" width="31.3" height="31.3" viewBox="-15.65 -15.65 31.3 31.3" overflow="hidden">
<rect x="-16" y="-16" width="32" height="32" fill="#000"/>
<g filter="url(#b1b)"><g id="k13R"><ellipse cx="0.0" cy="0.6" rx="11.4" ry="12.6" fill="#740404" opacity="0.1"/><ellipse cx="0.0" cy="0.6" rx="11.4" ry="12.6" fill="none" stroke="#c40c0c" stroke-width="1.78" opacity="0.11"/><ellipse cx="0.0" cy="0.6" rx="11.4" ry="12.6" fill="none" stroke="#c40c0c" stroke-width="0.76" opacity="0.36"/><circle cx="0.9" cy="-11.7" r="0.89" fill="#ff1a1a" opacity="0.28"/><circle cx="4.3" cy="-11.2" r="0.76" fill="#ff1a1a" opacity="0.48"/><circle cx="7.2" cy="-9.3" r="0.68" fill="#ff1a1a" opacity="0.38"/><circle cx="9.3" cy="-6.6" r="0.89" fill="#ff1a1a" opacity="0.57"/><circle cx="10.3" cy="-3.9" r="0.72" fill="#ff1a1a" opacity="0.39"/><circle cx="11.3" cy="-2.6" r="0.93" fill="#ff1a1a" opacity="0.30"/><circle cx="11.0" cy="2.8" r="0.70" fill="#ff1a1a" opacity="0.35"/><circle cx="11.1" cy="4.2" r="0.90" fill="#ff1a1a" opacity="0.28"/><circle cx="9.3" cy="8.7" r="0.93" fill="#ff1a1a" opacity="0.51"/><circle cx="7.0" cy="10.7" r="0.88" fill="#ff1a1a" opacity="0.29"/><circle cx="3.8" cy="12.3" r="0.90" fill="#ff1a1a" opacity="0.37"/><circle cx="2.0" cy="13.1" r="0.78" fill="#ff1a1a" opacity="0.48"/><circle cx="-0.1" cy="12.9" r="0.79" fill="#ff1a1a" opacity="0.35"/><circle cx="-4.0" cy="12.6" r="0.76" fill="#ff1a1a" opacity="0.29"/><circle cx="-6.9" cy="10.4" r="0.90" fill="#ff1a1a" opacity="0.60"/><circle cx="-8.4" cy="9.7" r="0.65" fill="#ff1a1a" opacity="0.34"/><circle cx="-10.1" cy="6.7" r="0.90" fill="#ff1a1a" opacity="0.29"/><circle cx="-11.5" cy="2.2" r="0.74" fill="#ff1a1a" opacity="0.47"/><circle cx="-11.6" cy="-1.7" r="0.86" fill="#ff1a1a" opacity="0.46"/><circle cx="-10.6" cy="-4.6" r="0.81" fill="#ff1a1a" opacity="0.46"/><circle cx="-8.4" cy="-7.6" r="0.87" fill="#ff1a1a" opacity="0.37"/><circle cx="-7.8" cy="-9.1" r="0.83" fill="#ff1a1a" opacity="0.28"/><circle cx="-5.0" cy="-11.1" r="0.69" fill="#ff1a1a" opacity="0.35"/><circle cx="-2.4" cy="-11.4" r="0.93" fill="#ff1a1a" opacity="0.56"/><polyline points="5.7,-10.3 7.0,-9.3 8.2,-8.2 9.2,-6.8 10.1,-5.3 10.7,-3.7 11.2,-2.0 11.4,-0.3 11.4,1.5 11.2,3.2 10.7,4.9 10.1,6.5 9.2,8.0 8.2,9.4 7.0,10.5 5.7,11.5 4.3,12.3 2.8,12.8 1.2,13.1 -0.4,13.2 -2.0,13.0" fill="none" stroke="#ff1a1a" stroke-linecap="round" stroke-linejoin="round" stroke-width="2.66" opacity="0.27"/><polyline points="5.7,-10.3 7.0,-9.3 8.2,-8.2 9.2,-6.8 10.1,-5.3 10.7,-3.7 11.2,-2.0 11.4,-0.3 11.4,1.5 11.2,3.2 10.7,4.9 10.1,6.5 9.2,8.0 8.2,9.4 7.0,10.5 5.7,11.5 4.3,12.3 2.8,12.8 1.2,13.1 -0.4,13.2 -2.0,13.0" fill="none" stroke="#ff1a1a" stroke-linecap="round" stroke-linejoin="round" stroke-width="1.14" opacity="0.90"/><polyline points="-3.9,12.4 -5.4,11.7 -6.7,10.8 -8.0,9.6 -9.0,8.3 -9.9,6.8 -10.6,5.2 -11.1,3.5 -11.4,1.7 -11.4,-0.1 -11.2,-1.9 -10.8,-3.6 -10.1,-5.2 -9.3,-6.7 -8.2,-8.1 -7.0,-9.3 -5.7,-10.3" fill="none" stroke="#c40c0c" stroke-linecap="round" stroke-linejoin="round" stroke-width="2.10" opacity="0.14"/><polyline points="-3.9,12.4 -5.4,11.7 -6.7,10.8 -8.0,9.6 -9.0,8.3 -9.9,6.8 -10.6,5.2 -11.1,3.5 -11.4,1.7 -11.4,-0.1 -11.2,-1.9 -10.8,-3.6 -10.1,-5.2 -9.3,-6.7 -8.2,-8.1 -7.0,-9.3 -5.7,-10.3" fill="none" stroke="#c40c0c" stroke-linecap="round" stroke-linejoin="round" stroke-width="0.90" opacity="0.45"/></g></g>
</svg>
<svg x="220.30" y="144.70" width="31.3" height="31.3" viewBox="-15.65 -15.65 31.3 31.3" overflow="hidden">
<rect x="-16" y="-16" width="32" height="32" fill="#000"/>
<g filter="url(#b1c)"><g id="k13B"><ellipse cx="0.0" cy="0.6" rx="11.172" ry="12.347999999999999" fill="none" stroke="#2a2aff" stroke-width="1.90" opacity="0.24"/><ellipse cx="0.0" cy="0.6" rx="11.172" ry="12.347999999999999" fill="none" stroke="#2a2aff" stroke-width="0.82" opacity="0.80"/><circle cx="1.4" cy="-11.2" r="0.76" fill="#2a2aff" opacity="0.54"/><circle cx="4.6" cy="-10.8" r="0.57" fill="#2a2aff" opacity="0.59"/><circle cx="6.2" cy="-9.2" r="0.77" fill="#2a2aff" opacity="0.44"/><circle cx="7.8" cy="-7.9" r="0.64" fill="#2a2aff" opacity="0.42"/><circle cx="10.0" cy="-5.1" r="0.60" fill="#2a2aff" opacity="0.62"/><circle cx="11.3" cy="-0.6" r="0.74" fill="#2a2aff" opacity="0.57"/><circle cx="10.8" cy="3.0" r="0.81" fill="#2a2aff" opacity="0.59"/><circle cx="10.2" cy="5.9" r="0.60" fill="#2a2aff" opacity="0.35"/><circle cx="9.3" cy="8.2" r="0.73" fill="#2a2aff" opacity="0.42"/><circle cx="6.5" cy="10.8" r="0.58" fill="#2a2aff" opacity="0.41"/><circle cx="4.0" cy="11.7" r="0.77" fill="#2a2aff" opacity="0.52"/><circle cx="2.7" cy="12.3" r="0.81" fill="#2a2aff" opacity="0.52"/><circle cx="-1.5" cy="12.7" r="0.73" fill="#2a2aff" opacity="0.55"/><circle cx="-3.6" cy="12.7" r="0.64" fill="#2a2aff" opacity="0.40"/><circle cx="-6.0" cy="11.2" r="0.79" fill="#2a2aff" opacity="0.48"/><circle cx="-9.5" cy="7.4" r="0.67" fill="#2a2aff" opacity="0.37"/><circle cx="-10.7" cy="4.9" r="0.77" fill="#2a2aff" opacity="0.61"/><circle cx="-10.8" cy="3.0" r="0.78" fill="#2a2aff" opacity="0.27"/><circle cx="-10.8" cy="-1.6" r="0.64" fill="#2a2aff" opacity="0.48"/><circle cx="-10.0" cy="-4.8" r="0.76" fill="#2a2aff" opacity="0.53"/><circle cx="-8.8" cy="-6.7" r="0.66" fill="#2a2aff" opacity="0.29"/><circle cx="-7.0" cy="-8.6" r="0.54" fill="#2a2aff" opacity="0.43"/><circle cx="-5.2" cy="-9.9" r="0.81" fill="#2a2aff" opacity="0.39"/><circle cx="-1.1" cy="-11.6" r="0.82" fill="#2a2aff" opacity="0.48"/><polyline points="9.7,-5.6 10.4,-4.0 10.9,-2.3 11.1,-0.5 11.2,1.2 11.0,3.0 10.5,4.7 9.9,6.3 9.1,7.8 8.0,9.2 6.8,10.4 5.5,11.4 4.0,12.1 2.5,12.6 0.9,12.9 -0.7,12.9 -2.3,12.7 -3.8,12.2" fill="none" stroke="#2a2aff" stroke-linecap="round" stroke-linejoin="round" stroke-width="1.96" opacity="0.15"/><polyline points="9.7,-5.6 10.4,-4.0 10.9,-2.3 11.1,-0.5 11.2,1.2 11.0,3.0 10.5,4.7 9.9,6.3 9.1,7.8 8.0,9.2 6.8,10.4 5.5,11.4 4.0,12.1 2.5,12.6 0.9,12.9 -0.7,12.9 -2.3,12.7 -3.8,12.2" fill="none" stroke="#2a2aff" stroke-linecap="round" stroke-linejoin="round" stroke-width="0.84" opacity="0.50"/></g></g>
</svg>
<svg x="253.20" y="144.70" width="31.3" height="31.3" viewBox="-15.65 -15.65 31.3 31.3" overflow="hidden">
<rect x="-16" y="-16" width="32" height="32" fill="#000"/>
<g filter="url(#b1d)"><g id="k13G"><ellipse cx="0.0" cy="0.6" rx="11.4" ry="12.6" fill="none" stroke="#0e9e0e" stroke-width="1.55" opacity="0.08"/><ellipse cx="0.0" cy="0.6" rx="11.4" ry="12.6" fill="none" stroke="#0e9e0e" stroke-width="0.66" opacity="0.28"/><polyline points="-5.7,-10.3 -4.2,-11.1 -2.5,-11.7 -0.9,-12.0 0.9,-12.0 2.5,-11.7 4.2,-11.1 5.7,-10.3" fill="none" stroke="#0e9e0e" stroke-linecap="round" stroke-linejoin="round" stroke-width="1.82" opacity="0.21"/><polyline points="-5.7,-10.3 -4.2,-11.1 -2.5,-11.7 -0.9,-12.0 0.9,-12.0 2.5,-11.7 4.2,-11.1 5.7,-10.3" fill="none" stroke="#0e9e0e" stroke-linecap="round" stroke-linejoin="round" stroke-width="0.78" opacity="0.70"/><polyline points="9.9,-5.7 10.6,-4.1 11.1,-2.4 11.3,-0.6 11.4,1.2 11.2,3.0 10.8,4.7 10.1,6.4 9.3,7.9 8.3,9.3 7.0,10.5 5.7,11.5" fill="none" stroke="#0e9e0e" stroke-linecap="round" stroke-linejoin="round" stroke-width="1.82" opacity="0.21"/><polyline points="9.9,-5.7 10.6,-4.1 11.1,-2.4 11.3,-0.6 11.4,1.2 11.2,3.0 10.8,4.7 10.1,6.4 9.3,7.9 8.3,9.3 7.0,10.5 5.7,11.5" fill="none" stroke="#0e9e0e" stroke-linecap="round" stroke-linejoin="round" stroke-width="0.78" opacity="0.70"/><circle cx="-5.7" cy="-10.5" r="0.81" fill="#26e426" opacity="0.58"/><circle cx="-1.4" cy="-12.2" r="0.71" fill="#26e426" opacity="0.56"/><circle cx="0.0" cy="-11.9" r="0.74" fill="#26e426" opacity="0.39"/><circle cx="4.3" cy="-11.3" r="0.72" fill="#26e426" opacity="0.72"/><circle cx="7.5" cy="-9.2" r="0.73" fill="#26e426" opacity="0.75"/><circle cx="8.9" cy="-7.3" r="0.61" fill="#26e426" opacity="0.51"/><circle cx="10.5" cy="-4.5" r="0.73" fill="#26e426" opacity="0.78"/><circle cx="11.4" cy="-2.6" r="0.59" fill="#26e426" opacity="0.66"/><circle cx="11.2" cy="2.9" r="0.82" fill="#26e426" opacity="0.39"/><circle cx="10.9" cy="5.5" r="0.64" fill="#26e426" opacity="0.75"/><circle cx="9.3" cy="8.4" r="0.57" fill="#26e426" opacity="0.64"/><circle cx="7.2" cy="10.6" r="0.80" fill="#26e426" opacity="0.39"/></g></g>
</svg>
<svg x="286.10" y="144.70" width="31.3" height="31.3" viewBox="-15.65 -15.65 31.3 31.3" overflow="hidden">
<rect x="-16" y="-16" width="32" height="32" fill="#000"/>
<g filter="url(#b1a)"><use href="#k13B" x="0" y="0" style="mix-blend-mode:screen" opacity="0.95"/><use href="#k13G" x="0.5" y="-0.4" style="mix-blend-mode:screen" opacity="0.8"/><use href="#k13R" x="-0.55" y="0.35" style="mix-blend-mode:screen" opacity="0.92"/></g>
</svg>
<svg x="345.30" y="46.00" width="31.3" height="31.3" viewBox="-15.65 -15.65 31.3 31.3" overflow="hidden">
<rect x="-16" y="-16" width="32" height="32" fill="#000"/>
<g filter="url(#b1b)"><g id="k20R"><ellipse cx="0.3" cy="0.5" rx="12.4" ry="12.6" fill="#740404" opacity="0.1"/><ellipse cx="0.3" cy="0.5" rx="12.4" ry="12.6" fill="none" stroke="#c40c0c" stroke-width="1.78" opacity="0.14"/><ellipse cx="0.3" cy="0.5" rx="12.4" ry="12.6" fill="none" stroke="#c40c0c" stroke-width="0.76" opacity="0.48"/><circle cx="0.8" cy="-12.1" r="0.99" fill="#ff1a1a" opacity="0.38"/><circle cx="3.6" cy="-11.7" r="0.70" fill="#ff1a1a" opacity="0.57"/><circle cx="7.7" cy="-9.9" r="0.84" fill="#ff1a1a" opacity="0.47"/><circle cx="8.9" cy="-8.4" r="0.67" fill="#ff1a1a" opacity="0.57"/><circle cx="11.5" cy="-5.7" r="1.04" fill="#ff1a1a" opacity="0.63"/><circle cx="12.2" cy="-4.1" r="0.98" fill="#ff1a1a" opacity="0.47"/><circle cx="12.8" cy="-1.5" r="0.70" fill="#ff1a1a" opacity="0.41"/><circle cx="12.9" cy="0.9" r="0.88" fill="#ff1a1a" opacity="0.37"/><circle cx="12.5" cy="4.4" r="0.68" fill="#ff1a1a" opacity="0.38"/><circle cx="10.8" cy="7.7" r="0.83" fill="#ff1a1a" opacity="0.67"/><circle cx="8.5" cy="9.9" r="1.04" fill="#ff1a1a" opacity="0.55"/><circle cx="7.1" cy="10.7" r="0.69" fill="#ff1a1a" opacity="0.70"/><circle cx="3.8" cy="12.6" r="0.98" fill="#ff1a1a" opacity="0.59"/><circle cx="2.0" cy="12.6" r="0.76" fill="#ff1a1a" opacity="0.46"/><circle cx="-1.9" cy="13.2" r="0.75" fill="#ff1a1a" opacity="0.30"/><circle cx="-4.5" cy="12.3" r="0.85" fill="#ff1a1a" opacity="0.51"/><circle cx="-6.9" cy="11.3" r="0.74" fill="#ff1a1a" opacity="0.37"/><circle cx="-7.4" cy="10.3" r="1.02" fill="#ff1a1a" opacity="0.49"/><circle cx="-10.2" cy="7.3" r="0.73" fill="#ff1a1a" opacity="0.65"/><circle cx="-11.6" cy="4.5" r="0.97" fill="#ff1a1a" opacity="0.31"/><circle cx="-11.8" cy="3.2" r="0.85" fill="#ff1a1a" opacity="0.48"/><circle cx="-12.0" cy="-1.7" r="0.71" fill="#ff1a1a" opacity="0.62"/><circle cx="-11.2" cy="-3.3" r="0.81" fill="#ff1a1a" opacity="0.56"/><circle cx="-9.7" cy="-6.3" r="0.87" fill="#ff1a1a" opacity="0.32"/><circle cx="-9.5" cy="-7.5" r="0.79" fill="#ff1a1a" opacity="0.42"/><circle cx="-6.4" cy="-10.1" r="0.69" fill="#ff1a1a" opacity="0.62"/><circle cx="-3.7" cy="-11.6" r="0.77" fill="#ff1a1a" opacity="0.53"/><circle cx="-2.5" cy="-12.0" r="0.94" fill="#ff1a1a" opacity="0.40"/><polyline points="-7.7,-9.2 -6.3,-10.2 -4.7,-11.0 -3.1,-11.6 -1.4,-12.0 0.3,-12.1 2.0,-12.0 3.7,-11.6 5.3,-11.0 6.9,-10.2 8.3,-9.2 9.5,-7.9 10.6,-6.5 11.4,-5.0 12.1,-3.4 12.5,-1.7 12.7,0.1 12.6,1.8 12.3,3.5 11.8,5.2 11.0,6.8" fill="none" stroke="#ff1a1a" stroke-linecap="round" stroke-linejoin="round" stroke-width="1.96" opacity="0.12"/><polyline points="-7.7,-9.2 -6.3,-10.2 -4.7,-11.0 -3.1,-11.6 -1.4,-12.0 0.3,-12.1 2.0,-12.0 3.7,-11.6 5.3,-11.0 6.9,-10.2 8.3,-9.2 9.5,-7.9 10.6,-6.5 11.4,-5.0 12.1,-3.4 12.5,-1.7 12.7,0.1 12.6,1.8 12.3,3.5 11.8,5.2 11.0,6.8" fill="none" stroke="#ff1a1a" stroke-linecap="round" stroke-linejoin="round" stroke-width="0.84" opacity="0.40"/></g></g>
</svg>
<svg x="378.20" y="46.00" width="31.3" height="31.3" viewBox="-15.65 -15.65 31.3 31.3" overflow="hidden">
<rect x="-16" y="-16" width="32" height="32" fill="#000"/>
<g filter="url(#b1c)"><g id="k20B"><ellipse cx="0.3" cy="0.5" rx="11.532000000000002" ry="11.718" fill="#0e0e8c" opacity="0.1"/><ellipse cx="0.3" cy="0.5" rx="11.532000000000002" ry="11.718" fill="none" stroke="#0e0e8c" stroke-width="2.02" opacity="0.22"/><ellipse cx="0.3" cy="0.5" rx="11.532000000000002" ry="11.718" fill="none" stroke="#0e0e8c" stroke-width="0.87" opacity="0.72"/><circle cx="2.6" cy="-10.6" r="0.70" fill="#2a2aff" opacity="0.22"/><circle cx="5.4" cy="-9.9" r="0.63" fill="#2a2aff" opacity="0.28"/><circle cx="8.0" cy="-8.2" r="0.88" fill="#2a2aff" opacity="0.25"/><circle cx="9.1" cy="-6.4" r="0.81" fill="#2a2aff" opacity="0.31"/><circle cx="10.1" cy="-5.1" r="0.87" fill="#2a2aff" opacity="0.26"/><circle cx="11.7" cy="-0.6" r="0.65" fill="#2a2aff" opacity="0.14"/><circle cx="12.0" cy="2.8" r="0.75" fill="#2a2aff" opacity="0.19"/><circle cx="10.7" cy="5.6" r="0.90" fill="#2a2aff" opacity="0.21"/><circle cx="9.4" cy="7.3" r="0.91" fill="#2a2aff" opacity="0.28"/><circle cx="7.3" cy="10.1" r="0.72" fill="#2a2aff" opacity="0.23"/><circle cx="5.8" cy="10.3" r="0.72" fill="#2a2aff" opacity="0.21"/><circle cx="2.2" cy="11.8" r="0.90" fill="#2a2aff" opacity="0.28"/><circle cx="-0.0" cy="12.3" r="0.84" fill="#2a2aff" opacity="0.21"/><circle cx="-3.7" cy="11.5" r="0.69" fill="#2a2aff" opacity="0.17"/><circle cx="-6.0" cy="10.8" r="0.65" fill="#2a2aff" opacity="0.16"/><circle cx="-8.9" cy="8.2" r="0.67" fill="#2a2aff" opacity="0.27"/><circle cx="-10.7" cy="5.0" r="0.69" fill="#2a2aff" opacity="0.14"/><circle cx="-11.3" cy="2.3" r="0.92" fill="#2a2aff" opacity="0.19"/><circle cx="-11.4" cy="0.1" r="0.64" fill="#2a2aff" opacity="0.24"/><circle cx="-10.4" cy="-2.6" r="0.77" fill="#2a2aff" opacity="0.28"/><circle cx="-8.8" cy="-6.9" r="0.77" fill="#2a2aff" opacity="0.19"/><circle cx="-7.6" cy="-8.0" r="0.93" fill="#2a2aff" opacity="0.21"/><circle cx="-3.6" cy="-10.2" r="0.71" fill="#2a2aff" opacity="0.13"/><circle cx="-1.9" cy="-10.7" r="0.86" fill="#2a2aff" opacity="0.16"/><polyline points="0.3,-11.2 1.9,-11.1 3.5,-10.7 5.1,-10.2 6.5,-9.4 7.8,-8.4 9.0,-7.2 10.0,-5.9 10.8,-4.4 11.4,-2.8 11.7,-1.2 11.8,0.4 11.7,2.1 11.4,3.7 10.8,5.3 10.0,6.8 9.1,8.1 7.9,9.3 6.6,10.3 5.2,11.1 3.6,11.7 2.0,12.1 0.4,12.2 -1.2,12.1 -2.8,11.8 -4.4,11.2 -5.8,10.4 -7.2,9.4 -8.3,8.3 -9.3,6.9 -10.1,5.5 -10.7,3.9 -11.1,2.3 -11.2,0.7 -11.1,-1.0 -10.8,-2.6 -10.3,-4.2 -9.5,-5.7 -8.5,-7.0 -7.4,-8.2 -6.1,-9.3 -4.7,-10.1 -3.1,-10.7 -1.5,-11.1 0.1,-11.2" fill="none" stroke="#1414e4" stroke-linecap="round" stroke-linejoin="round" stroke-width="1.68" opacity="0.10"/><polyline points="0.3,-11.2 1.9,-11.1 3.5,-10.7 5.1,-10.2 6.5,-9.4 7.8,-8.4 9.0,-7.2 10.0,-5.9 10.8,-4.4 11.4,-2.8 11.7,-1.2 11.8,0.4 11.7,2.1 11.4,3.7 10.8,5.3 10.0,6.8 9.1,8.1 7.9,9.3 6.6,10.3 5.2,11.1 3.6,11.7 2.0,12.1 0.4,12.2 -1.2,12.1 -2.8,11.8 -4.4,11.2 -5.8,10.4 -7.2,9.4 -8.3,8.3 -9.3,6.9 -10.1,5.5 -10.7,3.9 -11.1,2.3 -11.2,0.7 -11.1,-1.0 -10.8,-2.6 -10.3,-4.2 -9.5,-5.7 -8.5,-7.0 -7.4,-8.2 -6.1,-9.3 -4.7,-10.1 -3.1,-10.7 -1.5,-11.1 0.1,-11.2" fill="none" stroke="#1414e4" stroke-linecap="round" stroke-linejoin="round" stroke-width="0.72" opacity="0.35"/></g></g>
</svg>
<svg x="411.10" y="46.00" width="31.3" height="31.3" viewBox="-15.65 -15.65 31.3 31.3" overflow="hidden">
<rect x="-16" y="-16" width="32" height="32" fill="#000"/>
<g filter="url(#b1d)"><g id="k20G"><ellipse cx="0.3" cy="0.5" rx="12.4" ry="12.6" fill="#064e06" opacity="0.3"/><ellipse cx="0.3" cy="0.5" rx="12.4" ry="12.6" fill="none" stroke="#064e06" stroke-width="1.67" opacity="0.14"/><ellipse cx="0.3" cy="0.5" rx="12.4" ry="12.6" fill="none" stroke="#064e06" stroke-width="0.71" opacity="0.48"/><circle cx="6.1" cy="-10.8" r="0.84" fill="#26e426" opacity="0.52"/><circle cx="9.1" cy="-8.2" r="0.74" fill="#26e426" opacity="0.51"/><circle cx="10.6" cy="-5.7" r="0.94" fill="#26e426" opacity="0.36"/><circle cx="11.9" cy="-3.3" r="0.73" fill="#26e426" opacity="0.81"/><circle cx="12.5" cy="-1.2" r="0.92" fill="#26e426" opacity="0.83"/><circle cx="12.7" cy="2.3" r="0.89" fill="#26e426" opacity="0.54"/><circle cx="10.9" cy="6.1" r="0.90" fill="#26e426" opacity="0.85"/><circle cx="9.9" cy="8.2" r="0.84" fill="#26e426" opacity="0.77"/><circle cx="7.6" cy="10.8" r="0.84" fill="#26e426" opacity="0.45"/><circle cx="-2.7" cy="12.2" r="0.80" fill="#26e426" opacity="0.57"/><circle cx="-6.8" cy="10.5" r="0.84" fill="#26e426" opacity="0.52"/><circle cx="-8.9" cy="9.4" r="0.68" fill="#26e426" opacity="0.45"/><circle cx="-10.9" cy="6.7" r="0.80" fill="#26e426" opacity="0.51"/><circle cx="0.6" cy="-12.3" r="0.76" fill="#0e9e0e" opacity="0.28"/><circle cx="7.3" cy="-10.0" r="0.71" fill="#0e9e0e" opacity="0.39"/><circle cx="10.3" cy="-7.5" r="0.61" fill="#0e9e0e" opacity="0.34"/><circle cx="11.6" cy="-4.5" r="0.59" fill="#0e9e0e" opacity="0.37"/><circle cx="12.8" cy="0.2" r="0.62" fill="#0e9e0e" opacity="0.49"/><circle cx="12.5" cy="3.5" r="0.64" fill="#0e9e0e" opacity="0.25"/><circle cx="10.7" cy="6.7" r="0.66" fill="#0e9e0e" opacity="0.28"/><circle cx="7.9" cy="10.6" r="0.68" fill="#0e9e0e" opacity="0.41"/><circle cx="1.7" cy="12.5" r="0.53" fill="#0e9e0e" opacity="0.41"/><circle cx="-0.9" cy="12.6" r="0.67" fill="#0e9e0e" opacity="0.25"/><circle cx="-4.7" cy="11.9" r="0.67" fill="#0e9e0e" opacity="0.41"/><circle cx="-8.1" cy="9.8" r="0.68" fill="#0e9e0e" opacity="0.36"/><circle cx="-11.0" cy="4.7" r="0.56" fill="#0e9e0e" opacity="0.23"/><circle cx="-12.3" cy="1.8" r="0.60" fill="#0e9e0e" opacity="0.41"/><circle cx="-11.4" cy="-2.5" r="0.68" fill="#0e9e0e" opacity="0.36"/><circle cx="-9.5" cy="-7.1" r="0.64" fill="#0e9e0e" opacity="0.46"/><circle cx="-7.1" cy="-9.5" r="0.66" fill="#0e9e0e" opacity="0.45"/><circle cx="-3.1" cy="-11.9" r="0.57" fill="#0e9e0e" opacity="0.28"/></g></g>
</svg>
<svg x="444.00" y="46.00" width="31.3" height="31.3" viewBox="-15.65 -15.65 31.3 31.3" overflow="hidden">
<rect x="-16" y="-16" width="32" height="32" fill="#000"/>
<g filter="url(#b1a)"><use href="#k20B" x="0" y="0" style="mix-blend-mode:screen" opacity="0.95"/><use href="#k20G" x="0.5" y="-0.4" style="mix-blend-mode:screen" opacity="0.8"/><use href="#k20R" x="-0.55" y="0.35" style="mix-blend-mode:screen" opacity="0.92"/></g>
</svg>
<svg x="345.30" y="78.90" width="31.3" height="31.3" viewBox="-15.65 -15.65 31.3 31.3" overflow="hidden">
<rect x="-16" y="-16" width="32" height="32" fill="#000"/>
<g filter="url(#b1b)"><g id="k21R"><ellipse cx="0.2" cy="0.5" rx="11.9" ry="12.6" fill="#740404" opacity="0.12"/><ellipse cx="0.2" cy="0.5" rx="11.9" ry="12.6" fill="none" stroke="#c40c0c" stroke-width="1.78" opacity="0.11"/><ellipse cx="0.2" cy="0.5" rx="11.9" ry="12.6" fill="none" stroke="#c40c0c" stroke-width="0.76" opacity="0.36"/><circle cx="1.3" cy="-12.1" r="0.71" fill="#ff1a1a" opacity="0.40"/><circle cx="3.8" cy="-11.7" r="0.82" fill="#ff1a1a" opacity="0.39"/><circle cx="6.5" cy="-10.0" r="0.94" fill="#ff1a1a" opacity="0.31"/><circle cx="9.6" cy="-7.5" r="0.77" fill="#ff1a1a" opacity="0.40"/><circle cx="10.2" cy="-5.6" r="0.74" fill="#ff1a1a" opacity="0.41"/><circle cx="12.0" cy="-3.4" r="0.88" fill="#ff1a1a" opacity="0.21"/><circle cx="12.3" cy="0.5" r="0.77" fill="#ff1a1a" opacity="0.45"/><circle cx="11.5" cy="3.7" r="0.85" fill="#ff1a1a" opacity="0.46"/><circle cx="11.2" cy="5.1" r="0.99" fill="#ff1a1a" opacity="0.38"/><circle cx="9.1" cy="9.6" r="0.85" fill="#ff1a1a" opacity="0.47"/><circle cx="7.2" cy="10.2" r="0.92" fill="#ff1a1a" opacity="0.31"/><circle cx="4.3" cy="11.9" r="0.82" fill="#ff1a1a" opacity="0.37"/><circle cx="2.1" cy="12.6" r="0.86" fill="#ff1a1a" opacity="0.47"/><circle cx="-1.4" cy="13.1" r="0.77" fill="#ff1a1a" opacity="0.38"/><circle cx="-4.7" cy="11.9" r="0.92" fill="#ff1a1a" opacity="0.39"/><circle cx="-6.9" cy="10.2" r="0.72" fill="#ff1a1a" opacity="0.22"/><circle cx="-9.0" cy="8.4" r="0.84" fill="#ff1a1a" opacity="0.24"/><circle cx="-10.7" cy="6.3" r="0.93" fill="#ff1a1a" opacity="0.32"/><circle cx="-11.2" cy="3.2" r="0.92" fill="#ff1a1a" opacity="0.25"/><circle cx="-11.6" cy="0.6" r="0.82" fill="#ff1a1a" opacity="0.42"/><circle cx="-11.2" cy="-1.6" r="0.85" fill="#ff1a1a" opacity="0.46"/><circle cx="-10.4" cy="-6.1" r="0.79" fill="#ff1a1a" opacity="0.47"/><circle cx="-8.5" cy="-7.6" r="0.86" fill="#ff1a1a" opacity="0.46"/><circle cx="-6.6" cy="-9.4" r="0.90" fill="#ff1a1a" opacity="0.43"/><circle cx="-4.5" cy="-11.5" r="0.79" fill="#ff1a1a" opacity="0.27"/><circle cx="-1.0" cy="-12.1" r="0.97" fill="#ff1a1a" opacity="0.48"/><polyline points="-7.4,-9.2 -6.0,-10.2 -4.5,-11.1 -2.9,-11.7 -1.2,-12.0 0.5,-12.1 2.3,-11.9 3.9,-11.5 5.5,-10.8 7.0,-9.8 8.4,-8.7 9.5,-7.3 10.5,-5.8" fill="none" stroke="#ff1a1a" stroke-linecap="round" stroke-linejoin="round" stroke-width="1.96" opacity="0.09"/><polyline points="-7.4,-9.2 -6.0,-10.2 -4.5,-11.1 -2.9,-11.7 -1.2,-12.0 0.5,-12.1 2.3,-11.9 3.9,-11.5 5.5,-10.8 7.0,-9.8 8.4,-8.7 9.5,-7.3 10.5,-5.8" fill="none" stroke="#ff1a1a" stroke-linecap="round" stroke-linejoin="round" stroke-width="0.84" opacity="0.30"/></g></g>
</svg>
<svg x="378.20" y="78.90" width="31.3" height="31.3" viewBox="-15.65 -15.65 31.3 31.3" overflow="hidden">
<rect x="-16" y="-16" width="32" height="32" fill="#000"/>
<g filter="url(#b1c)"><g id="k21B"><ellipse cx="0.2" cy="0.5" rx="11.543" ry="12.222" fill="#0e0e8c" opacity="0.4"/><ellipse cx="0.2" cy="0.5" rx="11.543" ry="12.222" fill="none" stroke="#0e0e8c" stroke-width="2.02" opacity="0.22"/><ellipse cx="0.2" cy="0.5" rx="11.543" ry="12.222" fill="none" stroke="#0e0e8c" stroke-width="0.87" opacity="0.72"/><circle cx="2.4" cy="-11.2" r="0.61" fill="#2a2aff" opacity="0.32"/><circle cx="4.4" cy="-11.3" r="0.82" fill="#2a2aff" opacity="0.26"/><circle cx="6.5" cy="-10.2" r="0.61" fill="#2a2aff" opacity="0.34"/><circle cx="8.6" cy="-7.9" r="0.77" fill="#2a2aff" opacity="0.20"/><circle cx="10.7" cy="-4.9" r="0.89" fill="#2a2aff" opacity="0.33"/><circle cx="11.4" cy="-2.5" r="0.75" fill="#2a2aff" opacity="0.24"/><circle cx="11.4" cy="2.8" r="0.83" fill="#2a2aff" opacity="0.27"/><circle cx="10.4" cy="5.8" r="0.85" fill="#2a2aff" opacity="0.28"/><circle cx="9.1" cy="7.9" r="0.89" fill="#2a2aff" opacity="0.21"/><circle cx="7.4" cy="10.2" r="0.94" fill="#2a2aff" opacity="0.32"/><circle cx="5.7" cy="11.1" r="0.64" fill="#2a2aff" opacity="0.15"/><circle cx="1.2" cy="12.6" r="0.75" fill="#2a2aff" opacity="0.17"/><circle cx="-0.6" cy="12.6" r="0.70" fill="#2a2aff" opacity="0.30"/><circle cx="-3.8" cy="11.8" r="0.66" fill="#2a2aff" opacity="0.26"/><circle cx="-5.5" cy="10.6" r="0.73" fill="#2a2aff" opacity="0.35"/><circle cx="-8.8" cy="7.7" r="0.76" fill="#2a2aff" opacity="0.30"/><circle cx="-10.2" cy="5.0" r="0.81" fill="#2a2aff" opacity="0.23"/><circle cx="-11.5" cy="3.1" r="0.61" fill="#2a2aff" opacity="0.16"/><circle cx="-11.5" cy="-1.9" r="0.75" fill="#2a2aff" opacity="0.19"/><circle cx="-10.3" cy="-3.5" r="0.63" fill="#2a2aff" opacity="0.17"/><circle cx="-9.4" cy="-6.1" r="0.87" fill="#2a2aff" opacity="0.21"/><circle cx="-7.9" cy="-8.6" r="0.93" fill="#2a2aff" opacity="0.28"/><circle cx="-3.9" cy="-10.9" r="0.90" fill="#2a2aff" opacity="0.37"/><circle cx="-1.1" cy="-11.3" r="0.85" fill="#2a2aff" opacity="0.24"/><polyline points="0.2,-11.7 1.8,-11.6 3.4,-11.2 5.0,-10.6 6.4,-9.8 7.7,-8.8 8.9,-7.5 9.9,-6.1 10.7,-4.6 11.3,-3.0 11.6,-1.3 11.7,0.4 11.6,2.2 11.3,3.9 10.7,5.5 9.9,7.0 9.0,8.4 7.8,9.7 6.5,10.7 5.1,11.6 3.5,12.2 1.9,12.6 0.3,12.7 -1.3,12.6 -2.9,12.3 -4.5,11.7 -5.9,10.8 -7.3,9.8 -8.4,8.6 -9.4,7.2 -10.2,5.7 -10.8,4.1 -11.2,2.4 -11.3,0.7 -11.2,-1.1 -10.9,-2.8 -10.4,-4.4 -9.6,-6.0 -8.6,-7.4 -7.5,-8.6 -6.2,-9.7 -4.8,-10.5 -3.2,-11.2 -1.6,-11.6 -0.0,-11.7" fill="none" stroke="#1414e4" stroke-linecap="round" stroke-linejoin="round" stroke-width="1.82" opacity="0.14"/><polyline points="0.2,-11.7 1.8,-11.6 3.4,-11.2 5.0,-10.6 6.4,-9.8 7.7,-8.8 8.9,-7.5 9.9,-6.1 10.7,-4.6 11.3,-3.0 11.6,-1.3 11.7,0.4 11.6,2.2 11.3,3.9 10.7,5.5 9.9,7.0 9.0,8.4 7.8,9.7 6.5,10.7 5.1,11.6 3.5,12.2 1.9,12.6 0.3,12.7 -1.3,12.6 -2.9,12.3 -4.5,11.7 -5.9,10.8 -7.3,9.8 -8.4,8.6 -9.4,7.2 -10.2,5.7 -10.8,4.1 -11.2,2.4 -11.3,0.7 -11.2,-1.1 -10.9,-2.8 -10.4,-4.4 -9.6,-6.0 -8.6,-7.4 -7.5,-8.6 -6.2,-9.7 -4.8,-10.5 -3.2,-11.2 -1.6,-11.6 -0.0,-11.7" fill="none" stroke="#1414e4" stroke-linecap="round" stroke-linejoin="round" stroke-width="0.78" opacity="0.45"/></g></g>
</svg>
<svg x="411.10" y="78.90" width="31.3" height="31.3" viewBox="-15.65 -15.65 31.3 31.3" overflow="hidden">
<rect x="-16" y="-16" width="32" height="32" fill="#000"/>
<g filter="url(#b1d)"><g id="k21G"><ellipse cx="0.2" cy="0.5" rx="11.9" ry="12.6" fill="#064e06" opacity="0.35"/><ellipse cx="0.2" cy="0.5" rx="11.9" ry="12.6" fill="none" stroke="#064e06" stroke-width="1.67" opacity="0.12"/><ellipse cx="0.2" cy="0.5" rx="11.9" ry="12.6" fill="none" stroke="#064e06" stroke-width="0.71" opacity="0.40"/><circle cx="2.1" cy="-11.8" r="0.57" fill="#0e9e0e" opacity="0.50"/><circle cx="5.8" cy="-10.9" r="0.83" fill="#0e9e0e" opacity="0.61"/><circle cx="9.8" cy="-7.2" r="0.59" fill="#0e9e0e" opacity="0.44"/><circle cx="12.3" cy="-1.4" r="0.58" fill="#0e9e0e" opacity="0.56"/><circle cx="11.6" cy="4.5" r="0.55" fill="#0e9e0e" opacity="0.32"/><circle cx="6.9" cy="11.2" r="0.78" fill="#0e9e0e" opacity="0.44"/><circle cx="3.7" cy="12.7" r="0.70" fill="#0e9e0e" opacity="0.61"/><circle cx="-3.4" cy="12.1" r="0.75" fill="#0e9e0e" opacity="0.56"/><circle cx="-8.1" cy="9.1" r="0.67" fill="#0e9e0e" opacity="0.30"/><circle cx="-10.8" cy="6.2" r="0.73" fill="#0e9e0e" opacity="0.52"/><circle cx="-11.5" cy="1.6" r="0.74" fill="#0e9e0e" opacity="0.67"/><circle cx="-9.9" cy="-6.5" r="0.64" fill="#0e9e0e" opacity="0.48"/><circle cx="-8.4" cy="-7.9" r="0.55" fill="#0e9e0e" opacity="0.35"/><circle cx="-3.2" cy="-11.8" r="0.56" fill="#0e9e0e" opacity="0.68"/></g></g>
</svg>
<svg x="444.00" y="78.90" width="31.3" height="31.3" viewBox="-15.65 -15.65 31.3 31.3" overflow="hidden">
<rect x="-16" y="-16" width="32" height="32" fill="#000"/>
<g filter="url(#b1a)"><use href="#k21B" x="0" y="0" style="mix-blend-mode:screen" opacity="0.95"/><use href="#k21G" x="0.5" y="-0.4" style="mix-blend-mode:screen" opacity="0.8"/><use href="#k21R" x="-0.55" y="0.35" style="mix-blend-mode:screen" opacity="0.92"/></g>
</svg>
<svg x="345.30" y="111.80" width="31.3" height="31.3" viewBox="-15.65 -15.65 31.3 31.3" overflow="hidden">
<rect x="-16" y="-16" width="32" height="32" fill="#000"/>
<g filter="url(#b1b)"><g id="k22R"><ellipse cx="0.0" cy="0.3" rx="12.2" ry="12.6" fill="#740404" opacity="0.15"/><ellipse cx="0.0" cy="0.3" rx="12.2" ry="12.6" fill="none" stroke="#c40c0c" stroke-width="1.78" opacity="0.13"/><ellipse cx="0.0" cy="0.3" rx="12.2" ry="12.6" fill="none" stroke="#c40c0c" stroke-width="0.76" opacity="0.44"/><circle cx="0.8" cy="-12.4" r="0.99" fill="#ff1a1a" opacity="0.23"/><circle cx="5.3" cy="-11.5" r="0.90" fill="#ff1a1a" opacity="0.50"/><circle cx="6.1" cy="-10.3" r="0.99" fill="#ff1a1a" opacity="0.33"/><circle cx="9.5" cy="-8.1" r="0.72" fill="#ff1a1a" opacity="0.44"/><circle cx="10.7" cy="-5.6" r="0.99" fill="#ff1a1a" opacity="0.34"/><circle cx="11.6" cy="-2.4" r="0.68" fill="#ff1a1a" opacity="0.41"/><circle cx="12.4" cy="2.9" r="0.76" fill="#ff1a1a" opacity="0.48"/><circle cx="11.5" cy="3.9" r="0.73" fill="#ff1a1a" opacity="0.39"/><circle cx="9.8" cy="7.0" r="0.87" fill="#ff1a1a" opacity="0.43"/><circle cx="8.3" cy="9.2" r="0.89" fill="#ff1a1a" opacity="0.42"/><circle cx="5.0" cy="11.9" r="0.69" fill="#ff1a1a" opacity="0.46"/><circle cx="2.9" cy="12.4" r="0.92" fill="#ff1a1a" opacity="0.37"/><circle cx="-1.2" cy="12.7" r="0.96" fill="#ff1a1a" opacity="0.31"/><circle cx="-4.7" cy="12.0" r="0.75" fill="#ff1a1a" opacity="0.27"/><circle cx="-6.0" cy="10.9" r="0.83" fill="#ff1a1a" opacity="0.33"/><circle cx="-9.5" cy="8.2" r="0.89" fill="#ff1a1a" opacity="0.48"/><circle cx="-11.9" cy="4.7" r="0.82" fill="#ff1a1a" opacity="0.40"/><circle cx="-12.0" cy="3.3" r="0.92" fill="#ff1a1a" opacity="0.35"/><circle cx="-12.1" cy="-0.4" r="0.69" fill="#ff1a1a" opacity="0.46"/><circle cx="-11.2" cy="-4.2" r="0.82" fill="#ff1a1a" opacity="0.27"/><circle cx="-10.2" cy="-7.3" r="0.85" fill="#ff1a1a" opacity="0.41"/><circle cx="-7.4" cy="-9.7" r="0.76" fill="#ff1a1a" opacity="0.46"/><circle cx="-6.0" cy="-10.6" r="0.97" fill="#ff1a1a" opacity="0.48"/><circle cx="-1.7" cy="-12.4" r="0.67" fill="#ff1a1a" opacity="0.33"/><polyline points="-10.6,-6.0 -9.5,-7.6 -8.2,-9.0 -6.8,-10.2 -5.2,-11.1" fill="none" stroke="#ff1a1a" stroke-linecap="round" stroke-linejoin="round" stroke-width="2.52" opacity="0.27"/><polyline points="-10.6,-6.0 -9.5,-7.6 -8.2,-9.0 -6.8,-10.2 -5.2,-11.1" fill="none" stroke="#ff1a1a" stroke-linecap="round" stroke-linejoin="round" stroke-width="1.08" opacity="0.90"/><polyline points="10.6,-6.0 11.4,-4.3 11.9,-2.5 12.2,-0.6 12.2,1.2 11.9,3.1 11.4,4.9 10.6,6.6" fill="none" stroke="#ff1a1a" stroke-linecap="round" stroke-linejoin="round" stroke-width="2.24" opacity="0.21"/><polyline points="10.6,-6.0 11.4,-4.3 11.9,-2.5 12.2,-0.6 12.2,1.2 11.9,3.1 11.4,4.9 10.6,6.6" fill="none" stroke="#ff1a1a" stroke-linecap="round" stroke-linejoin="round" stroke-width="0.96" opacity="0.70"/></g></g>
</svg>
<svg x="378.20" y="111.80" width="31.3" height="31.3" viewBox="-15.65 -15.65 31.3 31.3" overflow="hidden">
<rect x="-16" y="-16" width="32" height="32" fill="#000"/>
<g filter="url(#b1c)"><g id="k22B"><ellipse cx="0.0" cy="0.3" rx="11.712" ry="12.096" fill="#0e0e8c" opacity="0.25"/><ellipse cx="0.0" cy="0.3" rx="11.712" ry="12.096" fill="none" stroke="#0e0e8c" stroke-width="1.90" opacity="0.22"/><ellipse cx="0.0" cy="0.3" rx="11.712" ry="12.096" fill="none" stroke="#0e0e8c" stroke-width="0.82" opacity="0.72"/><circle cx="0.2" cy="-11.9" r="0.61" fill="#2a2aff" opacity="0.25"/><circle cx="4.3" cy="-10.8" r="0.69" fill="#2a2aff" opacity="0.18"/><circle cx="7.3" cy="-9.7" r="0.71" fill="#2a2aff" opacity="0.25"/><circle cx="9.0" cy="-7.6" r="0.71" fill="#2a2aff" opacity="0.27"/><circle cx="10.9" cy="-3.9" r="0.68" fill="#2a2aff" opacity="0.30"/><circle cx="11.1" cy="-2.0" r="0.80" fill="#2a2aff" opacity="0.26"/><circle cx="11.4" cy="1.2" r="0.66" fill="#2a2aff" opacity="0.19"/><circle cx="11.1" cy="4.3" r="0.88" fill="#2a2aff" opacity="0.14"/><circle cx="8.9" cy="8.3" r="0.89" fill="#2a2aff" opacity="0.13"/><circle cx="7.6" cy="8.9" r="0.80" fill="#2a2aff" opacity="0.24"/><circle cx="3.9" cy="11.4" r="0.92" fill="#2a2aff" opacity="0.23"/><circle cx="3.0" cy="12.2" r="0.78" fill="#2a2aff" opacity="0.15"/><circle cx="-2.2" cy="11.9" r="0.68" fill="#2a2aff" opacity="0.22"/><circle cx="-5.0" cy="10.8" r="0.79" fill="#2a2aff" opacity="0.13"/><circle cx="-5.9" cy="10.6" r="0.84" fill="#2a2aff" opacity="0.24"/><circle cx="-9.6" cy="6.8" r="0.66" fill="#2a2aff" opacity="0.26"/><circle cx="-10.7" cy="4.2" r="0.91" fill="#2a2aff" opacity="0.13"/><circle cx="-11.4" cy="3.4" r="0.88" fill="#2a2aff" opacity="0.20"/><circle cx="-11.8" cy="-0.5" r="0.71" fill="#2a2aff" opacity="0.17"/><circle cx="-11.5" cy="-3.2" r="0.86" fill="#2a2aff" opacity="0.20"/><circle cx="-9.2" cy="-7.6" r="0.76" fill="#2a2aff" opacity="0.22"/><circle cx="-8.2" cy="-8.8" r="0.74" fill="#2a2aff" opacity="0.17"/><circle cx="-3.8" cy="-11.3" r="0.84" fill="#2a2aff" opacity="0.22"/><circle cx="-2.6" cy="-11.3" r="0.65" fill="#2a2aff" opacity="0.19"/><polyline points="0.0,-11.8 1.7,-11.7 3.3,-11.3 4.9,-10.7 6.3,-9.9 7.7,-8.9 8.8,-7.6 9.8,-6.3 10.6,-4.8 11.2,-3.1 11.6,-1.5 11.7,0.2 11.6,2.0 11.3,3.6 10.7,5.3 9.9,6.8 8.9,8.2 7.7,9.4 6.4,10.4 4.9,11.3 3.4,11.9 1.8,12.3 0.1,12.4 -1.6,12.3 -3.2,11.9 -4.8,11.4 -6.2,10.5 -7.6,9.5 -8.8,8.3 -9.8,7.0 -10.6,5.5 -11.2,3.9 -11.6,2.2 -11.7,0.5 -11.6,-1.3 -11.3,-2.9 -10.7,-4.6 -9.9,-6.1 -9.0,-7.5 -7.8,-8.7 -6.5,-9.8 -5.0,-10.6 -3.5,-11.2 -1.9,-11.6 -0.2,-11.8" fill="none" stroke="#1414e4" stroke-linecap="round" stroke-linejoin="round" stroke-width="1.68" opacity="0.12"/><polyline points="0.0,-11.8 1.7,-11.7 3.3,-11.3 4.9,-10.7 6.3,-9.9 7.7,-8.9 8.8,-7.6 9.8,-6.3 10.6,-4.8 11.2,-3.1 11.6,-1.5 11.7,0.2 11.6,2.0 11.3,3.6 10.7,5.3 9.9,6.8 8.9,8.2 7.7,9.4 6.4,10.4 4.9,11.3 3.4,11.9 1.8,12.3 0.1,12.4 -1.6,12.3 -3.2,11.9 -4.8,11.4 -6.2,10.5 -7.6,9.5 -8.8,8.3 -9.8,7.0 -10.6,5.5 -11.2,3.9 -11.6,2.2 -11.7,0.5 -11.6,-1.3 -11.3,-2.9 -10.7,-4.6 -9.9,-6.1 -9.0,-7.5 -7.8,-8.7 -6.5,-9.8 -5.0,-10.6 -3.5,-11.2 -1.9,-11.6 -0.2,-11.8" fill="none" stroke="#1414e4" stroke-linecap="round" stroke-linejoin="round" stroke-width="0.72" opacity="0.40"/></g></g>
</svg>
<svg x="411.10" y="111.80" width="31.3" height="31.3" viewBox="-15.65 -15.65 31.3 31.3" overflow="hidden">
<rect x="-16" y="-16" width="32" height="32" fill="#000"/>
<g filter="url(#b1d)"><g id="k22G"><ellipse cx="0.0" cy="0.3" rx="12.2" ry="12.6" fill="#064e06" opacity="0.5"/><ellipse cx="0.0" cy="0.3" rx="12.2" ry="12.6" fill="none" stroke="#0e9e0e" stroke-width="1.78" opacity="0.18"/><ellipse cx="0.0" cy="0.3" rx="12.2" ry="12.6" fill="none" stroke="#0e9e0e" stroke-width="0.76" opacity="0.60"/><circle cx="0.7" cy="-12.3" r="0.75" fill="#26e426" opacity="0.36"/><circle cx="4.6" cy="-11.4" r="0.77" fill="#26e426" opacity="0.44"/><circle cx="6.2" cy="-10.3" r="0.68" fill="#26e426" opacity="0.49"/><circle cx="9.2" cy="-7.9" r="0.76" fill="#26e426" opacity="0.37"/><circle cx="11.9" cy="-4.1" r="0.75" fill="#26e426" opacity="0.44"/><circle cx="12.5" cy="-0.7" r="0.79" fill="#26e426" opacity="0.26"/><circle cx="12.4" cy="2.7" r="0.87" fill="#26e426" opacity="0.43"/><circle cx="10.9" cy="5.5" r="0.85" fill="#26e426" opacity="0.49"/><circle cx="9.3" cy="8.1" r="0.89" fill="#26e426" opacity="0.32"/><circle cx="8.7" cy="9.5" r="0.92" fill="#26e426" opacity="0.21"/><circle cx="5.7" cy="11.1" r="0.79" fill="#26e426" opacity="0.27"/><circle cx="2.0" cy="12.9" r="0.86" fill="#26e426" opacity="0.24"/><circle cx="-0.5" cy="12.8" r="0.67" fill="#26e426" opacity="0.38"/><circle cx="-3.4" cy="12.6" r="0.91" fill="#26e426" opacity="0.38"/><circle cx="-6.8" cy="10.7" r="0.90" fill="#26e426" opacity="0.22"/><circle cx="-10.0" cy="7.6" r="0.84" fill="#26e426" opacity="0.38"/><circle cx="-10.8" cy="6.0" r="0.78" fill="#26e426" opacity="0.28"/><circle cx="-12.2" cy="3.4" r="0.64" fill="#26e426" opacity="0.34"/><circle cx="-11.8" cy="-1.1" r="0.87" fill="#26e426" opacity="0.49"/><circle cx="-11.9" cy="-3.3" r="0.88" fill="#26e426" opacity="0.29"/><circle cx="-9.4" cy="-7.6" r="0.71" fill="#26e426" opacity="0.32"/><circle cx="-7.5" cy="-9.8" r="0.73" fill="#26e426" opacity="0.45"/><circle cx="-3.7" cy="-11.4" r="0.90" fill="#26e426" opacity="0.43"/><circle cx="-1.1" cy="-12.7" r="0.61" fill="#26e426" opacity="0.46"/><polyline points="4.2,-11.5 5.8,-10.8 7.2,-9.8 8.6,-8.7 9.7,-7.3 10.7,-5.8 11.4,-4.2 11.9,-2.5 12.2,-0.7 12.2,1.1 11.9,2.9 11.5,4.6" fill="none" stroke="#26e426" stroke-linecap="round" stroke-linejoin="round" stroke-width="2.10" opacity="0.21"/><polyline points="4.2,-11.5 5.8,-10.8 7.2,-9.8 8.6,-8.7 9.7,-7.3 10.7,-5.8 11.4,-4.2 11.9,-2.5 12.2,-0.7 12.2,1.1 11.9,2.9 11.5,4.6" fill="none" stroke="#26e426" stroke-linecap="round" stroke-linejoin="round" stroke-width="0.90" opacity="0.70"/><polyline points="10.0,7.5 9.3,8.4 8.6,9.2 7.8,10.0 7.0,10.6" fill="none" stroke="#26e426" stroke-linecap="round" stroke-linejoin="round" stroke-width="2.24" opacity="0.24"/><polyline points="10.0,7.5 9.3,8.4 8.6,9.2 7.8,10.0 7.0,10.6" fill="none" stroke="#26e426" stroke-linecap="round" stroke-linejoin="round" stroke-width="0.96" opacity="0.80"/></g></g>
</svg>
<svg x="444.00" y="111.80" width="31.3" height="31.3" viewBox="-15.65 -15.65 31.3 31.3" overflow="hidden">
<rect x="-16" y="-16" width="32" height="32" fill="#000"/>
<g filter="url(#b1a)"><use href="#k22B" x="0" y="0" style="mix-blend-mode:screen" opacity="0.95"/><use href="#k22G" x="0.5" y="-0.4" style="mix-blend-mode:screen" opacity="0.8"/><use href="#k22R" x="-0.55" y="0.35" style="mix-blend-mode:screen" opacity="0.92"/></g>
</svg>
<svg x="345.30" y="144.70" width="31.3" height="31.3" viewBox="-15.65 -15.65 31.3 31.3" overflow="hidden">
<rect x="-16" y="-16" width="32" height="32" fill="#000"/>
<g filter="url(#b1b)"><g id="k23R"><ellipse cx="0.3" cy="0.6" rx="11.7" ry="12.5" fill="#740404" opacity="0.08"/><ellipse cx="0.3" cy="0.6" rx="11.7" ry="12.5" fill="none" stroke="#740404" stroke-width="1.67" opacity="0.07"/><ellipse cx="0.3" cy="0.6" rx="11.7" ry="12.5" fill="none" stroke="#740404" stroke-width="0.71" opacity="0.24"/><polyline points="-8.9,-7.1 -8.2,-8.0 -7.4,-8.8 -6.5,-9.6 -5.6,-10.2" fill="none" stroke="#ff1a1a" stroke-linecap="round" stroke-linejoin="round" stroke-width="2.24" opacity="0.27"/><polyline points="-8.9,-7.1 -8.2,-8.0 -7.4,-8.8 -6.5,-9.6 -5.6,-10.2" fill="none" stroke="#ff1a1a" stroke-linecap="round" stroke-linejoin="round" stroke-width="0.96" opacity="0.90"/><polyline points="11.6,-2.6 11.8,-1.6 12.0,-0.5 12.0,0.6 12.0,1.7" fill="none" stroke="#ff1a1a" stroke-linecap="round" stroke-linejoin="round" stroke-width="2.24" opacity="0.24"/><polyline points="11.6,-2.6 11.8,-1.6 12.0,-0.5 12.0,0.6 12.0,1.7" fill="none" stroke="#ff1a1a" stroke-linecap="round" stroke-linejoin="round" stroke-width="0.96" opacity="0.80"/><polyline points="10.4,6.8 9.6,8.2 8.6,9.4 7.4,10.5 6.1,11.4" fill="none" stroke="#ff1a1a" stroke-linecap="round" stroke-linejoin="round" stroke-width="2.38" opacity="0.27"/><polyline points="10.4,6.8 9.6,8.2 8.6,9.4 7.4,10.5 6.1,11.4" fill="none" stroke="#ff1a1a" stroke-linecap="round" stroke-linejoin="round" stroke-width="1.02" opacity="0.90"/><polyline points="-1.7,-11.7 -0.1,-11.9 1.5,-11.8 3.1,-11.5 4.7,-11.0 6.1,-10.2" fill="none" stroke="#c40c0c" stroke-linecap="round" stroke-linejoin="round" stroke-width="1.82" opacity="0.09"/><polyline points="-1.7,-11.7 -0.1,-11.9 1.5,-11.8 3.1,-11.5 4.7,-11.0 6.1,-10.2" fill="none" stroke="#c40c0c" stroke-linecap="round" stroke-linejoin="round" stroke-width="0.78" opacity="0.30"/><circle cx="10.9" cy="-4.5" r="0.72" fill="#ff1a1a" opacity="0.54"/><circle cx="11.6" cy="-0.7" r="0.75" fill="#ff1a1a" opacity="0.38"/><circle cx="12.3" cy="1.8" r="0.81" fill="#ff1a1a" opacity="0.55"/><circle cx="11.2" cy="4.0" r="0.88" fill="#ff1a1a" opacity="0.48"/><circle cx="10.4" cy="7.0" r="0.59" fill="#ff1a1a" opacity="0.28"/><circle cx="7.7" cy="10.1" r="0.78" fill="#ff1a1a" opacity="0.32"/><circle cx="6.6" cy="11.5" r="0.82" fill="#ff1a1a" opacity="0.51"/></g></g>
</svg>
<svg x="378.20" y="144.70" width="31.3" height="31.3" viewBox="-15.65 -15.65 31.3 31.3" overflow="hidden">
<rect x="-16" y="-16" width="32" height="32" fill="#000"/>
<g filter="url(#b1c)"><g id="k23B"><ellipse cx="0.3" cy="0.6" rx="11.7" ry="12.5" fill="#0e0e8c" opacity="0.03"/><ellipse cx="0.3" cy="0.6" rx="11.7" ry="12.5" fill="none" stroke="#2a2aff" stroke-width="1.78" opacity="0.24"/><ellipse cx="0.3" cy="0.6" rx="11.7" ry="12.5" fill="none" stroke="#2a2aff" stroke-width="0.76" opacity="0.80"/><circle cx="0.7" cy="-11.9" r="0.69" fill="#2a2aff" opacity="0.16"/><circle cx="5.7" cy="-10.8" r="0.63" fill="#2a2aff" opacity="0.34"/><circle cx="8.5" cy="-8.2" r="0.66" fill="#2a2aff" opacity="0.35"/><circle cx="9.9" cy="-7.1" r="0.80" fill="#2a2aff" opacity="0.36"/><circle cx="11.1" cy="-3.7" r="0.69" fill="#2a2aff" opacity="0.27"/><circle cx="11.5" cy="-0.6" r="0.73" fill="#2a2aff" opacity="0.31"/><circle cx="11.6" cy="3.9" r="0.62" fill="#2a2aff" opacity="0.28"/><circle cx="10.6" cy="6.8" r="0.57" fill="#2a2aff" opacity="0.23"/><circle cx="9.0" cy="8.7" r="0.55" fill="#2a2aff" opacity="0.16"/><circle cx="5.8" cy="11.3" r="0.84" fill="#2a2aff" opacity="0.35"/><circle cx="3.5" cy="13.1" r="0.55" fill="#2a2aff" opacity="0.30"/><circle cx="0.2" cy="13.5" r="0.65" fill="#2a2aff" opacity="0.17"/><circle cx="-3.9" cy="12.6" r="0.60" fill="#2a2aff" opacity="0.22"/><circle cx="-7.6" cy="10.1" r="0.70" fill="#2a2aff" opacity="0.16"/><circle cx="-8.7" cy="8.5" r="0.73" fill="#2a2aff" opacity="0.27"/><circle cx="-10.7" cy="3.4" r="0.71" fill="#2a2aff" opacity="0.27"/><circle cx="-11.5" cy="1.3" r="0.63" fill="#2a2aff" opacity="0.23"/><circle cx="-10.9" cy="-2.6" r="0.54" fill="#2a2aff" opacity="0.19"/><circle cx="-9.2" cy="-6.0" r="0.72" fill="#2a2aff" opacity="0.22"/><circle cx="-8.2" cy="-7.9" r="0.71" fill="#2a2aff" opacity="0.34"/><circle cx="-4.2" cy="-11.3" r="0.76" fill="#2a2aff" opacity="0.34"/><circle cx="-2.4" cy="-11.8" r="0.77" fill="#2a2aff" opacity="0.21"/><polyline points="11.8,2.8 11.4,4.5 10.8,6.1 10.0,7.6 9.0,9.0 7.8,10.2 6.5,11.2 5.1,12.0 3.5,12.6 1.9,13.0 0.3,13.1 -1.3,13.0 -2.9,12.6 -4.5,12.0 -5.9,11.2 -7.2,10.2" fill="none" stroke="#2a2aff" stroke-linecap="round" stroke-linejoin="round" stroke-width="1.96" opacity="0.18"/><polyline points="11.8,2.8 11.4,4.5 10.8,6.1 10.0,7.6 9.0,9.0 7.8,10.2 6.5,11.2 5.1,12.0 3.5,12.6 1.9,13.0 0.3,13.1 -1.3,13.0 -2.9,12.6 -4.5,12.0 -5.9,11.2 -7.2,10.2" fill="none" stroke="#2a2aff" stroke-linecap="round" stroke-linejoin="round" stroke-width="0.84" opacity="0.60"/></g></g>
</svg>
<svg x="411.10" y="144.70" width="31.3" height="31.3" viewBox="-15.65 -15.65 31.3 31.3" overflow="hidden">
<rect x="-16" y="-16" width="32" height="32" fill="#000"/>
<g filter="url(#b1d)"><g id="k23G"><ellipse cx="0.3" cy="0.6" rx="11.7" ry="12.5" fill="#064e06" opacity="0.25"/><ellipse cx="0.3" cy="0.6" rx="11.7" ry="12.5" fill="none" stroke="#064e06" stroke-width="1.55" opacity="0.12"/><ellipse cx="0.3" cy="0.6" rx="11.7" ry="12.5" fill="none" stroke="#064e06" stroke-width="0.66" opacity="0.40"/></g></g>
</svg>
<svg x="444.00" y="144.70" width="31.3" height="31.3" viewBox="-15.65 -15.65 31.3 31.3" overflow="hidden">
<rect x="-16" y="-16" width="32" height="32" fill="#000"/>
<g filter="url(#b1a)"><use href="#k23B" x="0" y="0" style="mix-blend-mode:screen" opacity="0.95"/><use href="#k23G" x="0.5" y="-0.4" style="mix-blend-mode:screen" opacity="0.8"/><use href="#k23R" x="-0.55" y="0.35" style="mix-blend-mode:screen" opacity="0.92"/></g>
</svg>
<svg x="31.30" y="212.60" width="31.3" height="31.3" viewBox="-15.65 -15.65 31.3 31.3" overflow="hidden">
<rect x="-16" y="-16" width="32" height="32" fill="#000"/>
<g filter="url(#b1b)"><g id="k30R"><ellipse cx="0.6" cy="0.7" rx="12.4" ry="11.6" fill="#740404" opacity="0.05"/><ellipse cx="0.6" cy="0.7" rx="12.4" ry="11.6" fill="none" stroke="#c40c0c" stroke-width="1.67" opacity="0.14"/><ellipse cx="0.6" cy="0.7" rx="12.4" ry="11.6" fill="none" stroke="#c40c0c" stroke-width="0.71" opacity="0.48"/><circle cx="2.1" cy="-10.5" r="0.62" fill="#ff1a1a" opacity="0.25"/><circle cx="5.0" cy="-10.3" r="0.87" fill="#ff1a1a" opacity="0.49"/><circle cx="7.5" cy="-9.1" r="0.87" fill="#ff1a1a" opacity="0.23"/><circle cx="9.3" cy="-7.2" r="0.91" fill="#ff1a1a" opacity="0.30"/><circle cx="11.8" cy="-4.3" r="0.83" fill="#ff1a1a" opacity="0.35"/><circle cx="12.5" cy="-1.3" r="0.80" fill="#ff1a1a" opacity="0.46"/><circle cx="13.3" cy="1.0" r="0.71" fill="#ff1a1a" opacity="0.34"/><circle cx="11.7" cy="5.7" r="0.82" fill="#ff1a1a" opacity="0.42"/><circle cx="10.9" cy="7.4" r="0.94" fill="#ff1a1a" opacity="0.41"/><circle cx="8.2" cy="9.7" r="0.94" fill="#ff1a1a" opacity="0.32"/><circle cx="6.8" cy="10.8" r="0.89" fill="#ff1a1a" opacity="0.55"/><circle cx="3.3" cy="11.6" r="0.89" fill="#ff1a1a" opacity="0.33"/><circle cx="-1.3" cy="12.0" r="0.72" fill="#ff1a1a" opacity="0.40"/><circle cx="-4.0" cy="11.8" r="0.84" fill="#ff1a1a" opacity="0.27"/><circle cx="-7.2" cy="9.9" r="0.94" fill="#ff1a1a" opacity="0.53"/><circle cx="-8.1" cy="8.7" r="0.62" fill="#ff1a1a" opacity="0.27"/><circle cx="-10.7" cy="4.5" r="0.70" fill="#ff1a1a" opacity="0.30"/><circle cx="-12.0" cy="1.8" r="0.90" fill="#ff1a1a" opacity="0.50"/><circle cx="-11.8" cy="-1.3" r="0.64" fill="#ff1a1a" opacity="0.41"/><circle cx="-10.3" cy="-4.2" r="0.62" fill="#ff1a1a" opacity="0.26"/><circle cx="-9.4" cy="-5.6" r="0.76" fill="#ff1a1a" opacity="0.33"/><circle cx="-7.2" cy="-7.8" r="0.85" fill="#ff1a1a" opacity="0.28"/><circle cx="-5.6" cy="-9.8" r="0.86" fill="#ff1a1a" opacity="0.49"/><circle cx="-2.4" cy="-11.0" r="0.64" fill="#ff1a1a" opacity="0.45"/><polyline points="-10.1,-5.1 -9.2,-6.4 -8.0,-7.6 -6.7,-8.7 -5.2,-9.5 -3.6,-10.2 -2.0,-10.6 -0.3,-10.9 1.5,-10.9 3.2,-10.6 4.8,-10.2 6.4,-9.5 7.9,-8.7 9.2,-7.6 10.4,-6.4 11.3,-5.1" fill="none" stroke="#ff1a1a" stroke-linecap="round" stroke-linejoin="round" stroke-width="1.82" opacity="0.10"/><polyline points="-10.1,-5.1 -9.2,-6.4 -8.0,-7.6 -6.7,-8.7 -5.2,-9.5 -3.6,-10.2 -2.0,-10.6 -0.3,-10.9 1.5,-10.9 3.2,-10.6 4.8,-10.2 6.4,-9.5 7.9,-8.7 9.2,-7.6 10.4,-6.4 11.3,-5.1" fill="none" stroke="#ff1a1a" stroke-linecap="round" stroke-linejoin="round" stroke-width="0.78" opacity="0.35"/></g></g>
</svg>
<svg x="64.20" y="212.60" width="31.3" height="31.3" viewBox="-15.65 -15.65 31.3 31.3" overflow="hidden">
<rect x="-16" y="-16" width="32" height="32" fill="#000"/>
<g filter="url(#b1c)"><g id="k30B"><ellipse cx="0.6" cy="0.7" rx="11.78" ry="11.02" fill="none" stroke="#0e0e8c" stroke-width="1.43" opacity="0.18"/><ellipse cx="0.6" cy="0.7" rx="11.78" ry="11.02" fill="none" stroke="#0e0e8c" stroke-width="0.61" opacity="0.60"/><circle cx="0.9" cy="-10.4" r="0.79" fill="#2a2aff" opacity="0.32"/><circle cx="4.7" cy="-9.5" r="0.65" fill="#2a2aff" opacity="0.37"/><circle cx="6.2" cy="-9.0" r="0.65" fill="#2a2aff" opacity="0.39"/><circle cx="10.0" cy="-6.3" r="0.73" fill="#2a2aff" opacity="0.49"/><circle cx="10.7" cy="-5.5" r="0.63" fill="#2a2aff" opacity="0.36"/><circle cx="11.9" cy="-2.3" r="0.77" fill="#2a2aff" opacity="0.38"/><circle cx="12.4" cy="-0.3" r="0.65" fill="#2a2aff" opacity="0.34"/><circle cx="11.9" cy="2.5" r="0.74" fill="#2a2aff" opacity="0.33"/><circle cx="11.3" cy="5.7" r="0.71" fill="#2a2aff" opacity="0.43"/><circle cx="8.8" cy="8.2" r="0.78" fill="#2a2aff" opacity="0.36"/><circle cx="7.2" cy="9.7" r="0.67" fill="#2a2aff" opacity="0.41"/><circle cx="4.8" cy="11.4" r="0.59" fill="#2a2aff" opacity="0.35"/><circle cx="2.4" cy="12.0" r="0.70" fill="#2a2aff" opacity="0.35"/><circle cx="-1.4" cy="11.7" r="0.72" fill="#2a2aff" opacity="0.31"/><circle cx="-3.7" cy="11.4" r="0.65" fill="#2a2aff" opacity="0.38"/><circle cx="-6.7" cy="9.3" r="0.72" fill="#2a2aff" opacity="0.25"/><circle cx="-8.4" cy="7.3" r="0.82" fill="#2a2aff" opacity="0.27"/><circle cx="-10.0" cy="5.3" r="0.76" fill="#2a2aff" opacity="0.33"/><circle cx="-10.7" cy="2.6" r="0.70" fill="#2a2aff" opacity="0.34"/><circle cx="-11.1" cy="1.6" r="0.80" fill="#2a2aff" opacity="0.40"/><circle cx="-10.6" cy="-1.1" r="0.72" fill="#2a2aff" opacity="0.51"/><circle cx="-10.0" cy="-3.3" r="0.71" fill="#2a2aff" opacity="0.46"/><circle cx="-8.0" cy="-6.7" r="0.77" fill="#2a2aff" opacity="0.50"/><circle cx="-6.8" cy="-8.1" r="0.78" fill="#2a2aff" opacity="0.41"/><circle cx="-3.3" cy="-10.0" r="0.70" fill="#2a2aff" opacity="0.28"/><circle cx="-0.8" cy="-10.0" r="0.81" fill="#2a2aff" opacity="0.51"/><polyline points="0.6,-10.3 2.3,-10.2 3.9,-9.9 5.5,-9.3 7.0,-8.6 8.3,-7.6 9.5,-6.5 10.5,-5.3 11.3,-3.9 11.9,-2.4 12.3,-0.9 12.4,0.7 12.3,2.2 11.9,3.8 11.3,5.2 10.5,6.6 9.6,7.9 8.4,9.0 7.0,9.9 5.6,10.7 4.0,11.2 2.4,11.6 0.7,11.7 -1.0,11.6 -2.6,11.3 -4.2,10.8 -5.7,10.0 -7.0,9.1 -8.2,8.0 -9.2,6.8 -10.1,5.4 -10.7,3.9 -11.0,2.4 -11.2,0.8 -11.1,-0.7 -10.7,-2.3 -10.2,-3.7 -9.4,-5.1 -8.4,-6.4 -7.3,-7.5 -5.9,-8.5 -4.5,-9.2 -2.9,-9.8 -1.3,-10.2 0.4,-10.3" fill="none" stroke="#1414e4" stroke-linecap="round" stroke-linejoin="round" stroke-width="1.40" opacity="0.14"/><polyline points="0.6,-10.3 2.3,-10.2 3.9,-9.9 5.5,-9.3 7.0,-8.6 8.3,-7.6 9.5,-6.5 10.5,-5.3 11.3,-3.9 11.9,-2.4 12.3,-0.9 12.4,0.7 12.3,2.2 11.9,3.8 11.3,5.2 10.5,6.6 9.6,7.9 8.4,9.0 7.0,9.9 5.6,10.7 4.0,11.2 2.4,11.6 0.7,11.7 -1.0,11.6 -2.6,11.3 -4.2,10.8 -5.7,10.0 -7.0,9.1 -8.2,8.0 -9.2,6.8 -10.1,5.4 -10.7,3.9 -11.0,2.4 -11.2,0.8 -11.1,-0.7 -10.7,-2.3 -10.2,-3.7 -9.4,-5.1 -8.4,-6.4 -7.3,-7.5 -5.9,-8.5 -4.5,-9.2 -2.9,-9.8 -1.3,-10.2 0.4,-10.3" fill="none" stroke="#1414e4" stroke-linecap="round" stroke-linejoin="round" stroke-width="0.60" opacity="0.45"/></g></g>
</svg>
<svg x="97.10" y="212.60" width="31.3" height="31.3" viewBox="-15.65 -15.65 31.3 31.3" overflow="hidden">
<rect x="-16" y="-16" width="32" height="32" fill="#000"/>
<g filter="url(#b1d)"><g id="k30G"><ellipse cx="0.6" cy="0.7" rx="12.4" ry="11.6" fill="none" stroke="#0e9e0e" stroke-width="1.55" opacity="0.20"/><ellipse cx="0.6" cy="0.7" rx="12.4" ry="11.6" fill="none" stroke="#0e9e0e" stroke-width="0.66" opacity="0.68"/><circle cx="3.6" cy="-10.5" r="0.62" fill="#26e426" opacity="0.28"/><circle cx="4.9" cy="-9.8" r="0.66" fill="#26e426" opacity="0.46"/><circle cx="9.0" cy="-8.3" r="0.58" fill="#26e426" opacity="0.46"/><circle cx="10.6" cy="-5.8" r="0.59" fill="#26e426" opacity="0.49"/><circle cx="12.2" cy="-2.2" r="0.80" fill="#26e426" opacity="0.34"/><circle cx="12.9" cy="1.2" r="0.62" fill="#26e426" opacity="0.28"/><circle cx="12.2" cy="5.5" r="0.67" fill="#26e426" opacity="0.25"/><circle cx="10.1" cy="8.0" r="0.66" fill="#26e426" opacity="0.22"/><circle cx="6.2" cy="11.0" r="0.76" fill="#26e426" opacity="0.42"/><circle cx="3.9" cy="12.3" r="0.57" fill="#26e426" opacity="0.23"/><circle cx="-1.1" cy="12.4" r="0.75" fill="#26e426" opacity="0.36"/><circle cx="-3.6" cy="11.5" r="0.76" fill="#26e426" opacity="0.47"/><circle cx="-8.5" cy="8.0" r="0.59" fill="#26e426" opacity="0.29"/><circle cx="-9.6" cy="7.3" r="0.54" fill="#26e426" opacity="0.20"/><circle cx="-11.9" cy="2.7" r="0.63" fill="#26e426" opacity="0.41"/><circle cx="-11.8" cy="-0.9" r="0.72" fill="#26e426" opacity="0.25"/><circle cx="-10.9" cy="-4.2" r="0.82" fill="#26e426" opacity="0.37"/><circle cx="-9.5" cy="-6.3" r="0.58" fill="#26e426" opacity="0.34"/><circle cx="-5.2" cy="-9.7" r="0.77" fill="#26e426" opacity="0.38"/><circle cx="-1.5" cy="-10.9" r="0.73" fill="#26e426" opacity="0.36"/><polyline points="6.8,-9.3 8.3,-8.4 9.6,-7.3 10.8,-6.0 11.7,-4.5 12.4,-2.9 12.8,-1.3 13.0,0.4 12.9,2.0 12.6,3.7 12.0,5.3 11.2,6.8 10.1,8.2" fill="none" stroke="#26e426" stroke-linecap="round" stroke-linejoin="round" stroke-width="1.82" opacity="0.15"/><polyline points="6.8,-9.3 8.3,-8.4 9.6,-7.3 10.8,-6.0 11.7,-4.5 12.4,-2.9 12.8,-1.3 13.0,0.4 12.9,2.0 12.6,3.7 12.0,5.3 11.2,6.8 10.1,8.2" fill="none" stroke="#26e426" stroke-linecap="round" stroke-linejoin="round" stroke-width="0.78" opacity="0.50"/></g></g>
</svg>
<svg x="130.00" y="212.60" width="31.3" height="31.3" viewBox="-15.65 -15.65 31.3 31.3" overflow="hidden">
<rect x="-16" y="-16" width="32" height="32" fill="#000"/>
<g filter="url(#b1a)"><g style="mix-blend-mode:screen" opacity="1" transform="translate(0,0)"><ellipse cx="0.6" cy="0.7" rx="12.028" ry="11.251999999999999" fill="none" stroke="#1414e4" stroke-width="1.78" opacity="0.24"/><ellipse cx="0.6" cy="0.7" rx="12.028" ry="11.251999999999999" fill="none" stroke="#1414e4" stroke-width="0.76" opacity="0.80"/><circle cx="0.9" cy="-10.7" r="0.89" fill="#2a2aff" opacity="0.43"/><circle cx="4.8" cy="-9.7" r="0.73" fill="#2a2aff" opacity="0.50"/><circle cx="6.3" cy="-9.2" r="0.73" fill="#2a2aff" opacity="0.52"/><circle cx="10.1" cy="-6.5" r="0.82" fill="#2a2aff" opacity="0.65"/><circle cx="10.9" cy="-5.6" r="0.71" fill="#2a2aff" opacity="0.48"/><circle cx="12.2" cy="-2.4" r="0.87" fill="#2a2aff" opacity="0.51"/><circle cx="12.7" cy="-0.4" r="0.73" fill="#2a2aff" opacity="0.45"/><circle cx="12.1" cy="2.5" r="0.83" fill="#2a2aff" opacity="0.44"/><circle cx="11.6" cy="5.8" r="0.80" fill="#2a2aff" opacity="0.57"/><circle cx="8.9" cy="8.4" r="0.87" fill="#2a2aff" opacity="0.49"/><circle cx="7.4" cy="9.9" r="0.76" fill="#2a2aff" opacity="0.55"/><circle cx="4.9" cy="11.6" r="0.66" fill="#2a2aff" opacity="0.46"/><circle cx="2.5" cy="12.2" r="0.79" fill="#2a2aff" opacity="0.47"/><circle cx="-1.4" cy="12.0" r="0.81" fill="#2a2aff" opacity="0.42"/><circle cx="-3.7" cy="11.6" r="0.73" fill="#2a2aff" opacity="0.51"/><circle cx="-6.9" cy="9.5" r="0.81" fill="#2a2aff" opacity="0.33"/><circle cx="-8.6" cy="7.4" r="0.92" fill="#2a2aff" opacity="0.36"/><circle cx="-10.2" cy="5.4" r="0.86" fill="#2a2aff" opacity="0.44"/><circle cx="-11.0" cy="2.7" r="0.79" fill="#2a2aff" opacity="0.45"/><circle cx="-11.3" cy="1.6" r="0.90" fill="#2a2aff" opacity="0.53"/><circle cx="-10.9" cy="-1.1" r="0.81" fill="#2a2aff" opacity="0.68"/><circle cx="-10.3" cy="-3.4" r="0.80" fill="#2a2aff" opacity="0.61"/><circle cx="-8.2" cy="-6.9" r="0.86" fill="#2a2aff" opacity="0.67"/><circle cx="-7.0" cy="-8.3" r="0.88" fill="#2a2aff" opacity="0.54"/><circle cx="-3.4" cy="-10.2" r="0.79" fill="#2a2aff" opacity="0.37"/><circle cx="-0.8" cy="-10.2" r="0.91" fill="#2a2aff" opacity="0.67"/></g><g style="mix-blend-mode:screen" opacity="1" transform="translate(0.5,-0.4)"><ellipse cx="0.6" cy="0.7" rx="12.4" ry="11.6" fill="none" stroke="#26e426" stroke-width="1.78" opacity="0.24"/><ellipse cx="0.6" cy="0.7" rx="12.4" ry="11.6" fill="none" stroke="#26e426" stroke-width="0.76" opacity="0.80"/><circle cx="3.6" cy="-10.5" r="0.70" fill="#26e426" opacity="0.42"/><circle cx="4.9" cy="-9.8" r="0.74" fill="#26e426" opacity="0.70"/><circle cx="9.0" cy="-8.3" r="0.65" fill="#26e426" opacity="0.70"/><circle cx="10.6" cy="-5.8" r="0.66" fill="#26e426" opacity="0.74"/><circle cx="12.2" cy="-2.2" r="0.90" fill="#26e426" opacity="0.51"/><circle cx="12.9" cy="1.2" r="0.70" fill="#26e426" opacity="0.42"/><circle cx="12.2" cy="5.5" r="0.75" fill="#26e426" opacity="0.38"/><circle cx="10.1" cy="8.0" r="0.75" fill="#26e426" opacity="0.32"/><circle cx="6.2" cy="11.0" r="0.86" fill="#26e426" opacity="0.62"/><circle cx="3.9" cy="12.3" r="0.64" fill="#26e426" opacity="0.35"/><circle cx="-1.1" cy="12.4" r="0.84" fill="#26e426" opacity="0.53"/><circle cx="-3.6" cy="11.5" r="0.86" fill="#26e426" opacity="0.71"/><circle cx="-8.5" cy="8.0" r="0.67" fill="#26e426" opacity="0.44"/><circle cx="-9.6" cy="7.3" r="0.61" fill="#26e426" opacity="0.31"/><circle cx="-11.9" cy="2.7" r="0.70" fill="#26e426" opacity="0.62"/><circle cx="-11.8" cy="-0.9" r="0.81" fill="#26e426" opacity="0.38"/><circle cx="-10.9" cy="-4.2" r="0.92" fill="#26e426" opacity="0.55"/><circle cx="-9.5" cy="-6.3" r="0.65" fill="#26e426" opacity="0.51"/><circle cx="-5.2" cy="-9.7" r="0.87" fill="#26e426" opacity="0.58"/><circle cx="-1.5" cy="-10.9" r="0.82" fill="#26e426" opacity="0.54"/><polyline points="6.8,-9.3 8.3,-8.4 9.6,-7.3 10.8,-6.0 11.7,-4.5 12.4,-2.9 12.8,-1.3 13.0,0.4 12.9,2.0 12.6,3.7 12.0,5.3 11.2,6.8 10.1,8.2" fill="none" stroke="#26e426" stroke-linecap="round" stroke-linejoin="round" stroke-width="1.96" opacity="0.18"/><polyline points="6.8,-9.3 8.3,-8.4 9.6,-7.3 10.8,-6.0 11.7,-4.5 12.4,-2.9 12.8,-1.3 13.0,0.4 12.9,2.0 12.6,3.7 12.0,5.3 11.2,6.8 10.1,8.2" fill="none" stroke="#26e426" stroke-linecap="round" stroke-linejoin="round" stroke-width="0.84" opacity="0.60"/></g><use href="#k30R" x="-0.55" y="0.35" style="mix-blend-mode:screen" opacity="0.85"/></g>
</svg>
<svg x="31.30" y="245.50" width="31.3" height="31.3" viewBox="-15.65 -15.65 31.3 31.3" overflow="hidden">
<rect x="-16" y="-16" width="32" height="32" fill="#000"/>
<g filter="url(#b1b)"><g id="k31R"><ellipse cx="0.2" cy="1.0" rx="12.0" ry="12.6" fill="#740404" opacity="0.04"/><ellipse cx="0.2" cy="1.0" rx="12.0" ry="12.6" fill="none" stroke="#c40c0c" stroke-width="1.55" opacity="0.07"/><ellipse cx="0.2" cy="1.0" rx="12.0" ry="12.6" fill="none" stroke="#c40c0c" stroke-width="0.66" opacity="0.24"/><circle cx="2.6" cy="-11.1" r="0.62" fill="#ff1a1a" opacity="0.22"/><circle cx="5.1" cy="-10.6" r="0.89" fill="#ff1a1a" opacity="0.28"/><circle cx="8.1" cy="-8.2" r="0.72" fill="#ff1a1a" opacity="0.23"/><circle cx="10.4" cy="-5.3" r="0.87" fill="#ff1a1a" opacity="0.18"/><circle cx="12.0" cy="-0.1" r="0.67" fill="#ff1a1a" opacity="0.25"/><circle cx="11.8" cy="3.3" r="0.75" fill="#ff1a1a" opacity="0.24"/><circle cx="10.7" cy="7.5" r="0.91" fill="#ff1a1a" opacity="0.29"/><circle cx="8.8" cy="9.4" r="0.86" fill="#ff1a1a" opacity="0.13"/><circle cx="4.6" cy="12.2" r="0.94" fill="#ff1a1a" opacity="0.19"/><circle cx="1.1" cy="13.9" r="0.71" fill="#ff1a1a" opacity="0.17"/><circle cx="-1.3" cy="13.5" r="0.65" fill="#ff1a1a" opacity="0.29"/><circle cx="-5.5" cy="12.3" r="0.89" fill="#ff1a1a" opacity="0.17"/><circle cx="-7.5" cy="11.2" r="0.69" fill="#ff1a1a" opacity="0.23"/><circle cx="-10.8" cy="7.0" r="0.82" fill="#ff1a1a" opacity="0.27"/><circle cx="-12.0" cy="2.8" r="0.89" fill="#ff1a1a" opacity="0.17"/><circle cx="-11.9" cy="-0.2" r="0.78" fill="#ff1a1a" opacity="0.13"/><circle cx="-10.9" cy="-4.8" r="0.62" fill="#ff1a1a" opacity="0.29"/><circle cx="-7.7" cy="-8.8" r="0.90" fill="#ff1a1a" opacity="0.20"/><circle cx="-6.0" cy="-9.3" r="0.93" fill="#ff1a1a" opacity="0.24"/><circle cx="-0.9" cy="-11.2" r="0.75" fill="#ff1a1a" opacity="0.15"/><polyline points="4.3,-10.8 5.8,-10.1 7.3,-9.2 8.5,-8.1 9.7,-6.8 10.6,-5.3 11.3,-3.7 11.8,-2.0 12.1,-0.3 12.2,1.4 12.0,3.2" fill="none" stroke="#c40c0c" stroke-linecap="round" stroke-linejoin="round" stroke-width="1.82" opacity="0.10"/><polyline points="4.3,-10.8 5.8,-10.1 7.3,-9.2 8.5,-8.1 9.7,-6.8 10.6,-5.3 11.3,-3.7 11.8,-2.0 12.1,-0.3 12.2,1.4 12.0,3.2" fill="none" stroke="#c40c0c" stroke-linecap="round" stroke-linejoin="round" stroke-width="0.78" opacity="0.35"/><polygon points="11.84,4.67 11.67,5.61 11.43,6.54 11.11,7.46 10.71,8.36 10.22,9.22 9.65,10.05 9.01,10.82 8.29,11.54 7.50,12.18 6.65,12.75 5.75,13.24 4.80,13.64 3.82,13.94 2.82,14.15 1.80,14.26 0.78,14.27 -0.23,14.18 -1.22,14.01 -2.19,13.74 -3.12,13.39 -4.01,12.96 -4.84,12.46 -5.63,11.90 -6.36,11.29 -6.36,11.29 -5.47,11.62 -4.58,11.87 -3.69,12.06 -2.80,12.18 -1.91,12.24 -1.03,12.25 -0.17,12.20 0.68,12.11 1.52,11.97 2.34,11.78 3.15,11.56 3.95,11.29 4.72,10.98 5.49,10.64 6.24,10.25 6.97,9.82 7.68,9.35 8.37,8.83 9.04,8.26 9.68,7.64 10.29,6.97 10.85,6.25 11.37,5.48 11.84,4.67" fill="#ff1a1a" opacity="1"/></g></g>
</svg>
<svg x="64.20" y="245.50" width="31.3" height="31.3" viewBox="-15.65 -15.65 31.3 31.3" overflow="hidden">
<rect x="-16" y="-16" width="32" height="32" fill="#000"/>
<g filter="url(#b1c)"><g id="k31B"><ellipse cx="0.2" cy="1.0" rx="12.48" ry="13.104" fill="#0e0e8c" opacity="0.6"/><ellipse cx="0.2" cy="1.0" rx="12.48" ry="13.104" fill="none" stroke="#1414e4" stroke-width="2.62" opacity="0.24"/><ellipse cx="0.2" cy="1.0" rx="12.48" ry="13.104" fill="none" stroke="#1414e4" stroke-width="1.12" opacity="0.80"/><circle cx="1.2" cy="-12.2" r="0.98" fill="#2a2aff" opacity="0.44"/><circle cx="4.7" cy="-11.5" r="1.19" fill="#2a2aff" opacity="0.65"/><circle cx="6.1" cy="-10.4" r="0.82" fill="#2a2aff" opacity="0.42"/><circle cx="8.2" cy="-8.9" r="1.16" fill="#2a2aff" opacity="0.48"/><circle cx="10.4" cy="-6.0" r="1.05" fill="#2a2aff" opacity="0.59"/><circle cx="11.4" cy="-4.3" r="1.23" fill="#2a2aff" opacity="0.45"/><circle cx="12.4" cy="-2.4" r="0.85" fill="#2a2aff" opacity="0.49"/><circle cx="12.9" cy="1.6" r="1.23" fill="#2a2aff" opacity="0.64"/><circle cx="12.4" cy="3.8" r="1.26" fill="#2a2aff" opacity="0.38"/><circle cx="11.5" cy="6.4" r="1.02" fill="#2a2aff" opacity="0.67"/><circle cx="10.1" cy="8.4" r="0.96" fill="#2a2aff" opacity="0.33"/><circle cx="9.0" cy="10.0" r="1.00" fill="#2a2aff" opacity="0.36"/><circle cx="7.2" cy="11.7" r="0.99" fill="#2a2aff" opacity="0.68"/><circle cx="5.2" cy="13.2" r="0.98" fill="#2a2aff" opacity="0.49"/><circle cx="1.6" cy="13.7" r="1.04" fill="#2a2aff" opacity="0.53"/><circle cx="-0.8" cy="13.8" r="1.23" fill="#2a2aff" opacity="0.52"/><circle cx="-3.8" cy="13.6" r="0.84" fill="#2a2aff" opacity="0.58"/><circle cx="-5.5" cy="12.5" r="1.03" fill="#2a2aff" opacity="0.45"/><circle cx="-8.3" cy="10.1" r="1.00" fill="#2a2aff" opacity="0.40"/><circle cx="-10.0" cy="8.4" r="1.23" fill="#2a2aff" opacity="0.60"/><circle cx="-11.4" cy="6.5" r="1.16" fill="#2a2aff" opacity="0.60"/><circle cx="-11.5" cy="4.2" r="0.82" fill="#2a2aff" opacity="0.59"/><circle cx="-12.7" cy="1.4" r="0.91" fill="#2a2aff" opacity="0.63"/><circle cx="-12.1" cy="-2.5" r="1.00" fill="#2a2aff" opacity="0.55"/><circle cx="-11.3" cy="-4.9" r="0.96" fill="#2a2aff" opacity="0.61"/><circle cx="-9.7" cy="-7.2" r="0.84" fill="#2a2aff" opacity="0.38"/><circle cx="-8.3" cy="-9.1" r="1.06" fill="#2a2aff" opacity="0.48"/><circle cx="-5.8" cy="-10.4" r="1.20" fill="#2a2aff" opacity="0.38"/><circle cx="-3.8" cy="-11.4" r="1.02" fill="#2a2aff" opacity="0.62"/><circle cx="-0.6" cy="-11.9" r="1.15" fill="#2a2aff" opacity="0.47"/><polyline points="-4.1,13.3 -5.7,12.5 -7.2,11.5 -8.6,10.3 -9.8,8.9 -10.7,7.3 -11.5,5.6 -12.0,3.8 -12.2,1.9 -12.2,0.1 -12.0,-1.8 -11.5,-3.6 -10.7,-5.3 -9.8,-6.9 -8.6,-8.3 -7.2,-9.5 -5.7,-10.5 -4.1,-11.3" fill="none" stroke="#2a2aff" stroke-linecap="round" stroke-linejoin="round" stroke-width="2.80" opacity="0.15"/><polyline points="-4.1,13.3 -5.7,12.5 -7.2,11.5 -8.6,10.3 -9.8,8.9 -10.7,7.3 -11.5,5.6 -12.0,3.8 -12.2,1.9 -12.2,0.1 -12.0,-1.8 -11.5,-3.6 -10.7,-5.3 -9.8,-6.9 -8.6,-8.3 -7.2,-9.5 -5.7,-10.5 -4.1,-11.3" fill="none" stroke="#2a2aff" stroke-linecap="round" stroke-linejoin="round" stroke-width="1.20" opacity="0.50"/></g></g>
</svg>
<svg x="97.10" y="245.50" width="31.3" height="31.3" viewBox="-15.65 -15.65 31.3 31.3" overflow="hidden">
<rect x="-16" y="-16" width="32" height="32" fill="#000"/>
<g filter="url(#b1d)"><g id="k31G"><ellipse cx="0.2" cy="1.0" rx="11.64" ry="12.222" fill="none" stroke="#0e9e0e" stroke-width="1.67" opacity="0.23"/><ellipse cx="0.2" cy="1.0" rx="11.64" ry="12.222" fill="none" stroke="#0e9e0e" stroke-width="0.71" opacity="0.76"/><circle cx="0.3" cy="-11.6" r="0.62" fill="#26e426" opacity="0.49"/><circle cx="4.8" cy="-10.0" r="0.57" fill="#26e426" opacity="0.24"/><circle cx="7.2" cy="-8.9" r="0.69" fill="#26e426" opacity="0.42"/><circle cx="9.6" cy="-6.0" r="0.70" fill="#26e426" opacity="0.21"/><circle cx="11.0" cy="-2.1" r="0.73" fill="#26e426" opacity="0.21"/><circle cx="11.9" cy="1.4" r="0.64" fill="#26e426" opacity="0.29"/><circle cx="11.6" cy="3.2" r="0.76" fill="#26e426" opacity="0.44"/><circle cx="9.6" cy="7.5" r="0.79" fill="#26e426" opacity="0.29"/><circle cx="7.2" cy="10.6" r="0.58" fill="#26e426" opacity="0.25"/><circle cx="6.3" cy="11.8" r="0.79" fill="#26e426" opacity="0.36"/><circle cx="3.2" cy="12.4" r="0.64" fill="#26e426" opacity="0.25"/><circle cx="-0.1" cy="13.1" r="0.66" fill="#26e426" opacity="0.32"/><circle cx="-3.5" cy="12.8" r="0.81" fill="#26e426" opacity="0.22"/><circle cx="-7.6" cy="10.3" r="0.56" fill="#26e426" opacity="0.43"/><circle cx="-9.0" cy="8.6" r="0.57" fill="#26e426" opacity="0.22"/><circle cx="-11.2" cy="4.0" r="0.73" fill="#26e426" opacity="0.26"/><circle cx="-11.8" cy="1.0" r="0.61" fill="#26e426" opacity="0.35"/><circle cx="-10.7" cy="-2.4" r="0.75" fill="#26e426" opacity="0.27"/><circle cx="-9.1" cy="-5.6" r="0.78" fill="#26e426" opacity="0.37"/><circle cx="-7.4" cy="-8.0" r="0.73" fill="#26e426" opacity="0.22"/><circle cx="-5.2" cy="-9.8" r="0.56" fill="#26e426" opacity="0.40"/><circle cx="-1.7" cy="-10.8" r="0.58" fill="#26e426" opacity="0.25"/><polyline points="-11.4,1.0 -11.3,-0.8 -11.0,-2.5 -10.3,-4.2 -9.5,-5.7 -8.5,-7.1 -7.3,-8.4 -5.9,-9.4 -4.4,-10.2 -2.8,-10.8 -1.2,-11.1 0.5,-11.2 2.2,-11.0 3.9,-10.6 5.4,-9.9 6.9,-9.0 8.2,-7.9 9.3,-6.6 10.3,-5.1" fill="none" stroke="#26e426" stroke-linecap="round" stroke-linejoin="round" stroke-width="1.82" opacity="0.18"/><polyline points="-11.4,1.0 -11.3,-0.8 -11.0,-2.5 -10.3,-4.2 -9.5,-5.7 -8.5,-7.1 -7.3,-8.4 -5.9,-9.4 -4.4,-10.2 -2.8,-10.8 -1.2,-11.1 0.5,-11.2 2.2,-11.0 3.9,-10.6 5.4,-9.9 6.9,-9.0 8.2,-7.9 9.3,-6.6 10.3,-5.1" fill="none" stroke="#26e426" stroke-linecap="round" stroke-linejoin="round" stroke-width="0.78" opacity="0.60"/><polyline points="-3.8,12.5 -5.3,11.8 -6.6,10.9 -7.9,9.8 -9.0,8.5 -9.9,7.1" fill="none" stroke="#26e426" stroke-linecap="round" stroke-linejoin="round" stroke-width="2.80" opacity="0.24"/><polyline points="-3.8,12.5 -5.3,11.8 -6.6,10.9 -7.9,9.8 -9.0,8.5 -9.9,7.1" fill="none" stroke="#26e426" stroke-linecap="round" stroke-linejoin="round" stroke-width="1.20" opacity="0.80"/></g></g>
</svg>
<svg x="130.00" y="245.50" width="31.3" height="31.3" viewBox="-15.65 -15.65 31.3 31.3" overflow="hidden">
<rect x="-16" y="-16" width="32" height="32" fill="#000"/>
<g filter="url(#b1a)"><use href="#k31B" x="0" y="0" style="mix-blend-mode:screen" opacity="0.95"/><g style="mix-blend-mode:screen" opacity="0.8" transform="translate(0.5,-0.4)"><ellipse cx="0.2" cy="1.0" rx="12.0" ry="12.6" fill="none" stroke="#26e426" stroke-width="2.02" opacity="0.24"/><ellipse cx="0.2" cy="1.0" rx="12.0" ry="12.6" fill="none" stroke="#26e426" stroke-width="0.87" opacity="0.80"/><circle cx="0.3" cy="-11.9" r="0.70" fill="#26e426" opacity="0.62"/><circle cx="4.9" cy="-10.3" r="0.65" fill="#26e426" opacity="0.30"/><circle cx="7.4" cy="-9.2" r="0.78" fill="#26e426" opacity="0.52"/><circle cx="9.9" cy="-6.2" r="0.79" fill="#26e426" opacity="0.27"/><circle cx="11.4" cy="-2.1" r="0.83" fill="#26e426" opacity="0.26"/><circle cx="12.3" cy="1.4" r="0.73" fill="#26e426" opacity="0.37"/><circle cx="11.9" cy="3.2" r="0.85" fill="#26e426" opacity="0.55"/><circle cx="9.9" cy="7.7" r="0.88" fill="#26e426" opacity="0.36"/><circle cx="7.4" cy="10.9" r="0.65" fill="#26e426" opacity="0.31"/><circle cx="6.5" cy="12.2" r="0.89" fill="#26e426" opacity="0.45"/><circle cx="3.3" cy="12.8" r="0.72" fill="#26e426" opacity="0.31"/><circle cx="-0.1" cy="13.4" r="0.74" fill="#26e426" opacity="0.40"/><circle cx="-3.6" cy="13.1" r="0.91" fill="#26e426" opacity="0.28"/><circle cx="-7.8" cy="10.6" r="0.63" fill="#26e426" opacity="0.54"/><circle cx="-9.3" cy="8.9" r="0.64" fill="#26e426" opacity="0.28"/><circle cx="-11.5" cy="4.1" r="0.82" fill="#26e426" opacity="0.33"/><circle cx="-12.1" cy="1.0" r="0.69" fill="#26e426" opacity="0.44"/><circle cx="-11.0" cy="-2.5" r="0.85" fill="#26e426" opacity="0.34"/><circle cx="-9.4" cy="-5.8" r="0.88" fill="#26e426" opacity="0.47"/><circle cx="-7.7" cy="-8.3" r="0.82" fill="#26e426" opacity="0.27"/><circle cx="-5.3" cy="-10.1" r="0.63" fill="#26e426" opacity="0.50"/><circle cx="-1.7" cy="-11.1" r="0.66" fill="#26e426" opacity="0.32"/><polyline points="12.0,3.2 11.6,5.0 10.9,6.7 10.0,8.2 8.9,9.6 7.6,10.9 6.2,11.9 4.6,12.7 3.0,13.3 1.2,13.6 -0.5,13.6 -2.2,13.3 -3.9,12.8" fill="none" stroke="#26e426" stroke-linecap="round" stroke-linejoin="round" stroke-width="2.80" opacity="0.27"/><polyline points="12.0,3.2 11.6,5.0 10.9,6.7 10.0,8.2 8.9,9.6 7.6,10.9 6.2,11.9 4.6,12.7 3.0,13.3 1.2,13.6 -0.5,13.6 -2.2,13.3 -3.9,12.8" fill="none" stroke="#26e426" stroke-linecap="round" stroke-linejoin="round" stroke-width="1.20" opacity="0.90"/><polyline points="-3.9,12.8 -5.4,12.1 -6.9,11.2 -8.1,10.1 -9.3,8.8 -10.2,7.3" fill="none" stroke="#26e426" stroke-linecap="round" stroke-linejoin="round" stroke-width="2.80" opacity="0.24"/><polyline points="-3.9,12.8 -5.4,12.1 -6.9,11.2 -8.1,10.1 -9.3,8.8 -10.2,7.3" fill="none" stroke="#26e426" stroke-linecap="round" stroke-linejoin="round" stroke-width="1.20" opacity="0.80"/></g><use href="#k31R" x="-0.55" y="0.35" style="mix-blend-mode:screen" opacity="0.92"/></g>
</svg>
<svg x="31.30" y="278.40" width="31.3" height="31.3" viewBox="-15.65 -15.65 31.3 31.3" overflow="hidden">
<rect x="-16" y="-16" width="32" height="32" fill="#000"/>
<g filter="url(#b1b)"><g id="k32R"><polygon points="1,-13 5,-13.5 9,-11.5 12,-8 13.5,-4 13,-0.5 11,-3 8.5,-7 5,-9.5 1,-10.5" fill="#ff1a1a" opacity="1" stroke="#ff1a1a" stroke-width="0.8" stroke-linejoin="round"/><polygon points="3,-12 8,-10.5 11.5,-6.5 8,-8 4,-10.5" fill="#ff5a5a" opacity="0.8" stroke="#ff5a5a" stroke-width="0.4" stroke-linejoin="round"/><ellipse cx="0" cy="0.3" rx="12.6" ry="12.6" fill="none" stroke="#740404" stroke-width="1.68" opacity="0.07"/><ellipse cx="0" cy="0.3" rx="12.6" ry="12.6" fill="none" stroke="#740404" stroke-width="0.72" opacity="0.25"/></g></g>
</svg>
<svg x="64.20" y="278.40" width="31.3" height="31.3" viewBox="-15.65 -15.65 31.3 31.3" overflow="hidden">
<rect x="-16" y="-16" width="32" height="32" fill="#000"/>
<g filter="url(#b1c)"><g id="k32B"><ellipse cx="0.0" cy="0.3" rx="12.6" ry="13.2" fill="#0e0e8c" opacity="0.35"/><ellipse cx="0.0" cy="0.3" rx="12.6" ry="13.2" fill="none" stroke="#1414e4" stroke-width="2.14" opacity="0.20"/><ellipse cx="0.0" cy="0.3" rx="12.6" ry="13.2" fill="none" stroke="#1414e4" stroke-width="0.92" opacity="0.68"/><circle cx="1.1" cy="-12.9" r="1.03" fill="#2a2aff" opacity="0.33"/><circle cx="4.2" cy="-12.4" r="0.96" fill="#2a2aff" opacity="0.37"/><circle cx="6.5" cy="-11.1" r="1.11" fill="#2a2aff" opacity="0.55"/><circle cx="9.0" cy="-9.0" r="1.00" fill="#2a2aff" opacity="0.47"/><circle cx="9.4" cy="-8.2" r="0.83" fill="#2a2aff" opacity="0.54"/><circle cx="11.7" cy="-5.7" r="0.94" fill="#2a2aff" opacity="0.55"/><circle cx="12.1" cy="-3.6" r="0.95" fill="#2a2aff" opacity="0.62"/><circle cx="12.7" cy="1.0" r="0.93" fill="#2a2aff" opacity="0.36"/><circle cx="12.8" cy="2.6" r="0.87" fill="#2a2aff" opacity="0.58"/><circle cx="12.0" cy="5.5" r="0.90" fill="#2a2aff" opacity="0.74"/><circle cx="9.8" cy="8.4" r="1.03" fill="#2a2aff" opacity="0.53"/><circle cx="9.2" cy="9.6" r="0.90" fill="#2a2aff" opacity="0.54"/><circle cx="6.5" cy="11.4" r="0.87" fill="#2a2aff" opacity="0.37"/><circle cx="5.1" cy="12.5" r="0.82" fill="#2a2aff" opacity="0.30"/><circle cx="1.0" cy="13.9" r="0.89" fill="#2a2aff" opacity="0.37"/><circle cx="-1.5" cy="13.2" r="0.86" fill="#2a2aff" opacity="0.47"/><circle cx="-3.6" cy="12.7" r="0.76" fill="#2a2aff" opacity="0.39"/><circle cx="-6.5" cy="11.4" r="1.08" fill="#2a2aff" opacity="0.67"/><circle cx="-7.9" cy="10.4" r="0.85" fill="#2a2aff" opacity="0.57"/><circle cx="-10.3" cy="7.2" r="0.99" fill="#2a2aff" opacity="0.36"/><circle cx="-11.5" cy="6.0" r="0.80" fill="#2a2aff" opacity="0.46"/><circle cx="-11.7" cy="3.9" r="0.75" fill="#2a2aff" opacity="0.56"/><circle cx="-12.2" cy="0.5" r="0.94" fill="#2a2aff" opacity="0.59"/><circle cx="-12.6" cy="-1.5" r="0.87" fill="#2a2aff" opacity="0.48"/><circle cx="-11.7" cy="-5.7" r="0.80" fill="#2a2aff" opacity="0.72"/><circle cx="-10.4" cy="-7.4" r="0.78" fill="#2a2aff" opacity="0.51"/><circle cx="-8.6" cy="-9.1" r="1.06" fill="#2a2aff" opacity="0.37"/><circle cx="-7.5" cy="-10.6" r="0.75" fill="#2a2aff" opacity="0.73"/><circle cx="-4.7" cy="-11.7" r="0.82" fill="#2a2aff" opacity="0.38"/><circle cx="-0.7" cy="-13.0" r="0.94" fill="#2a2aff" opacity="0.53"/><polyline points="-6.3,-11.1 -4.7,-11.9 -3.0,-12.5 -1.2,-12.8 0.5,-12.9 2.3,-12.7 4.1,-12.2 5.7,-11.5 7.2,-10.5 8.6,-9.3 9.8,-8.0 10.8,-6.4 11.6,-4.8 12.2,-3.0 12.5,-1.1 12.6,0.7 12.4,2.6" fill="none" stroke="#2a2aff" stroke-linecap="round" stroke-linejoin="round" stroke-width="2.24" opacity="0.15"/><polyline points="-6.3,-11.1 -4.7,-11.9 -3.0,-12.5 -1.2,-12.8 0.5,-12.9 2.3,-12.7 4.1,-12.2 5.7,-11.5 7.2,-10.5 8.6,-9.3 9.8,-8.0 10.8,-6.4 11.6,-4.8 12.2,-3.0 12.5,-1.1 12.6,0.7 12.4,2.6" fill="none" stroke="#2a2aff" stroke-linecap="round" stroke-linejoin="round" stroke-width="0.96" opacity="0.50"/><ellipse cx="-12.5" cy="2.5" rx="2.0" ry="2.0" fill="#1414e4" opacity="0.8"/></g></g>
</svg>
<svg x="97.10" y="278.40" width="31.3" height="31.3" viewBox="-15.65 -15.65 31.3 31.3" overflow="hidden">
<rect x="-16" y="-16" width="32" height="32" fill="#000"/>
<g filter="url(#b1d)"><g id="k32G"><ellipse cx="0.0" cy="0.3" rx="12.347999999999999" ry="12.936" fill="#064e06" opacity="0.1"/><ellipse cx="0.0" cy="0.3" rx="12.347999999999999" ry="12.936" fill="none" stroke="#0e9e0e" stroke-width="1.78" opacity="0.19"/><ellipse cx="0.0" cy="0.3" rx="12.347999999999999" ry="12.936" fill="none" stroke="#0e9e0e" stroke-width="0.76" opacity="0.64"/><circle cx="0.1" cy="-12.3" r="0.81" fill="#26e426" opacity="0.58"/><circle cx="5.2" cy="-11.0" r="0.76" fill="#26e426" opacity="0.50"/><circle cx="7.8" cy="-9.3" r="0.83" fill="#26e426" opacity="0.50"/><circle cx="8.8" cy="-8.1" r="0.80" fill="#26e426" opacity="0.59"/><circle cx="11.0" cy="-4.6" r="0.84" fill="#26e426" opacity="0.46"/><circle cx="12.0" cy="-0.6" r="0.90" fill="#26e426" opacity="0.33"/><circle cx="12.7" cy="0.4" r="0.75" fill="#26e426" opacity="0.53"/><circle cx="11.4" cy="5.9" r="0.83" fill="#26e426" opacity="0.32"/><circle cx="10.5" cy="7.3" r="0.77" fill="#26e426" opacity="0.32"/><circle cx="8.1" cy="10.0" r="0.68" fill="#26e426" opacity="0.43"/><circle cx="4.6" cy="12.4" r="0.72" fill="#26e426" opacity="0.29"/><circle cx="2.0" cy="13.2" r="0.82" fill="#26e426" opacity="0.61"/><circle cx="-1.9" cy="12.8" r="0.67" fill="#26e426" opacity="0.28"/><circle cx="-4.7" cy="11.9" r="0.83" fill="#26e426" opacity="0.48"/><circle cx="-6.3" cy="11.4" r="0.75" fill="#26e426" opacity="0.50"/><circle cx="-8.8" cy="8.8" r="0.73" fill="#26e426" opacity="0.62"/><circle cx="-10.9" cy="5.8" r="0.76" fill="#26e426" opacity="0.35"/><circle cx="-12.4" cy="1.2" r="0.61" fill="#26e426" opacity="0.26"/><circle cx="-12.0" cy="-1.4" r="0.78" fill="#26e426" opacity="0.56"/><circle cx="-11.0" cy="-5.5" r="0.69" fill="#26e426" opacity="0.61"/><circle cx="-10.3" cy="-6.3" r="0.86" fill="#26e426" opacity="0.49"/><circle cx="-8.2" cy="-9.3" r="0.80" fill="#26e426" opacity="0.58"/><circle cx="-6.0" cy="-10.9" r="0.91" fill="#26e426" opacity="0.46"/><circle cx="-3.2" cy="-12.2" r="0.92" fill="#26e426" opacity="0.36"/><polygon points="-2.30,-12.09 -1.20,-12.65 -0.02,-12.96 1.20,-13.11 2.45,-13.13 3.70,-13.00 4.94,-12.73 6.15,-12.33 7.32,-11.80 8.43,-11.14 9.46,-10.37 10.42,-9.48 11.27,-8.50 12.01,-7.44 12.64,-6.30 13.14,-5.11 13.51,-3.87 13.74,-2.61 13.84,-1.34 13.80,-0.07 13.62,1.17 13.31,2.38 12.86,3.53 12.28,4.60 11.47,5.53 11.47,5.53 11.51,4.33 11.58,3.21 11.59,2.11 11.53,1.04 11.39,-0.01 11.19,-1.02 10.91,-2.01 10.57,-2.97 10.16,-3.88 9.70,-4.77 9.17,-5.61 8.59,-6.41 7.95,-7.17 7.26,-7.88 6.52,-8.55 5.73,-9.17 4.88,-9.73 3.99,-10.24 3.05,-10.68 2.07,-11.07 1.05,-11.39 -0.02,-11.64 -1.12,-11.84 -2.30,-12.09" fill="#26e426" opacity="1"/><ellipse cx="-3" cy="12.5" rx="1.6" ry="1.6" fill="#26e426" opacity="0.8"/></g></g>
</svg>
<svg x="130.00" y="278.40" width="31.3" height="31.3" viewBox="-15.65 -15.65 31.3 31.3" overflow="hidden">
<rect x="-16" y="-16" width="32" height="32" fill="#000"/>
<g filter="url(#b1a)"><use href="#k32B" x="0" y="0" style="mix-blend-mode:screen" opacity="0.95"/><use href="#k32G" x="0.5" y="-0.4" style="mix-blend-mode:screen" opacity="0.8"/><use href="#k32R" x="-0.55" y="0.35" style="mix-blend-mode:screen" opacity="0.92"/></g>
</svg>
<svg x="31.30" y="311.30" width="31.3" height="31.3" viewBox="-15.65 -15.65 31.3 31.3" overflow="hidden">
<rect x="-16" y="-16" width="32" height="32" fill="#000"/>
<g filter="url(#b1b)"><g id="k33R"><ellipse cx="1" cy="-0.5" rx="10.5" ry="10.5" fill="#740404" opacity="0.5"/><polygon points="-2.8,-8.5 3,-7.6 8.5,-6.5 5.6,0 2.7,6.6 -1.5,5.4 -5.2,4 -4,-2" fill="#ff1a1a" opacity="1" stroke="#ff1a1a" stroke-width="1.0" stroke-linejoin="round"/><polygon points="-1,-6.5 6,-5.2 2,4.5 -3.2,3" fill="#ff3a3a" opacity="0.85" stroke="#ff3a3a" stroke-width="0.4" stroke-linejoin="round"/><ellipse cx="-11" cy="5.3" rx="1.4" ry="1.4" fill="#c40c0c" opacity="0.9"/><ellipse cx="-8.5" cy="1.5" rx="1.2" ry="1.2" fill="#c40c0c" opacity="0.6"/></g></g>
</svg>
<svg x="64.20" y="311.30" width="31.3" height="31.3" viewBox="-15.65 -15.65 31.3 31.3" overflow="hidden">
<rect x="-16" y="-16" width="32" height="32" fill="#000"/>
<g filter="url(#b1c)"><g id="k33B"><ellipse cx="0" cy="0.2" rx="9.7" ry="9.7" fill="none" stroke="#0e0e8c" stroke-width="4.76" opacity="0.26"/><ellipse cx="0" cy="0.2" rx="9.7" ry="9.7" fill="none" stroke="#0e0e8c" stroke-width="2.04" opacity="0.85"/><ellipse cx="0" cy="0.2" rx="9.7" ry="9.7" fill="none" stroke="#1414e4" stroke-dasharray="3 2" stroke-linecap="round" stroke-width="2.80" opacity="0.10"/><ellipse cx="0" cy="0.2" rx="9.7" ry="9.7" fill="none" stroke="#1414e4" stroke-dasharray="3 2" stroke-linecap="round" stroke-width="1.20" opacity="0.35"/><circle cx="1.1" cy="-9.2" r="0.88" fill="#1414e4" opacity="0.28"/><circle cx="4.5" cy="-9.4" r="0.85" fill="#1414e4" opacity="0.30"/><circle cx="7.1" cy="-8.1" r="1.18" fill="#1414e4" opacity="0.31"/><circle cx="8.8" cy="-4.3" r="1.11" fill="#1414e4" opacity="0.35"/><circle cx="10.6" cy="0.6" r="0.91" fill="#1414e4" opacity="0.29"/><circle cx="9.2" cy="3.5" r="0.93" fill="#1414e4" opacity="0.38"/><circle cx="6.9" cy="6.6" r="0.85" fill="#1414e4" opacity="0.28"/><circle cx="6.3" cy="8.6" r="1.04" fill="#1414e4" opacity="0.38"/><circle cx="1.3" cy="10.3" r="0.99" fill="#1414e4" opacity="0.28"/><circle cx="-0.4" cy="8.8" r="1.17" fill="#1414e4" opacity="0.47"/><circle cx="-3.2" cy="8.1" r="1.07" fill="#1414e4" opacity="0.29"/><circle cx="-7.6" cy="6.0" r="0.89" fill="#1414e4" opacity="0.39"/><circle cx="-8.0" cy="3.2" r="1.15" fill="#1414e4" opacity="0.46"/><circle cx="-9.2" cy="1.6" r="1.02" fill="#1414e4" opacity="0.57"/><circle cx="-10.1" cy="-2.4" r="1.11" fill="#1414e4" opacity="0.37"/><circle cx="-7.5" cy="-4.6" r="0.93" fill="#1414e4" opacity="0.33"/><circle cx="-6.2" cy="-7.7" r="0.94" fill="#1414e4" opacity="0.33"/><circle cx="-1.5" cy="-10.2" r="1.12" fill="#1414e4" opacity="0.38"/><ellipse cx="-9.5" cy="0.5" rx="1.6" ry="1.6" fill="#2a2aff" opacity="0.6"/><ellipse cx="0" cy="0" rx="14" ry="14" fill="#0e0e8c" opacity="0.12"/></g></g>
</svg>
<svg x="97.10" y="311.30" width="31.3" height="31.3" viewBox="-15.65 -15.65 31.3 31.3" overflow="hidden">
<rect x="-16" y="-16" width="32" height="32" fill="#000"/>
<g filter="url(#b2d)"><g id="k33G"><ellipse cx="0.2" cy="0.8" rx="10.4" ry="8.8" fill="none" stroke="#0e9e0e" stroke-dasharray="8 2.5" stroke-linecap="round" stroke-width="6.72" opacity="0.21"/><ellipse cx="0.2" cy="0.8" rx="10.4" ry="8.8" fill="none" stroke="#0e9e0e" stroke-dasharray="8 2.5" stroke-linecap="round" stroke-width="2.88" opacity="0.70"/><ellipse cx="2.5" cy="-0.5" rx="3.0" ry="3.0" fill="#0e9e0e" opacity="0.55"/><ellipse cx="-2" cy="2.5" rx="2.4" ry="2.4" fill="#0e9e0e" opacity="0.5"/><circle cx="2.6" cy="-10.7" r="1.01" fill="#0e9e0e" opacity="0.28"/><circle cx="7.6" cy="-8.6" r="1.09" fill="#0e9e0e" opacity="0.32"/><circle cx="12.6" cy="-0.8" r="0.96" fill="#0e9e0e" opacity="0.33"/><circle cx="11.3" cy="2.0" r="1.40" fill="#0e9e0e" opacity="0.38"/><circle cx="9.5" cy="7.0" r="1.32" fill="#0e9e0e" opacity="0.55"/><circle cx="2.5" cy="11.9" r="1.07" fill="#0e9e0e" opacity="0.25"/><circle cx="-1.3" cy="12.7" r="1.34" fill="#0e9e0e" opacity="0.51"/><circle cx="-7.6" cy="8.1" r="0.90" fill="#0e9e0e" opacity="0.47"/><circle cx="-12.7" cy="2.8" r="1.36" fill="#0e9e0e" opacity="0.42"/><circle cx="-10.6" cy="-1.5" r="1.27" fill="#0e9e0e" opacity="0.42"/><circle cx="-8.2" cy="-6.6" r="1.09" fill="#0e9e0e" opacity="0.37"/><circle cx="-2.8" cy="-9.3" r="0.94" fill="#0e9e0e" opacity="0.42"/><ellipse cx="0" cy="0" rx="14" ry="14" fill="#064e06" opacity="0.12"/></g></g>
</svg>
<svg x="130.00" y="311.30" width="31.3" height="31.3" viewBox="-15.65 -15.65 31.3 31.3" overflow="hidden">
<rect x="-16" y="-16" width="32" height="32" fill="#000"/>
<g filter="url(#b2a)"><use href="#k33B" x="0" y="0" style="mix-blend-mode:screen" opacity="1"/><use href="#k33G" x="0" y="0" style="mix-blend-mode:screen" opacity="0.9"/><use href="#k33R" x="0" y="0" style="mix-blend-mode:screen" opacity="1"/><polygon points="-2.8,-8.5 3,-7.6 8.5,-6.5 5.6,0 2.7,6.6 -1.5,5.4 -5.2,4 -4,-2" fill="#ff3030" opacity="1" stroke="#ff3030" stroke-width="0.6" stroke-linejoin="round"/><polygon points="-1.5,-1 4.5,0 2.5,6 -4,3.8" fill="#ff9a30" opacity="0.95" stroke="#ff9a30" stroke-width="0.4" stroke-linejoin="round"/><polygon points="-2,-7.5 7,-6 5.5,-2.5 -3,-3.5" fill="#ff3068" opacity="0.9" stroke="#ff3068" stroke-width="0.4" stroke-linejoin="round"/></g>
</svg>
<svg x="187.40" y="212.60" width="31.3" height="31.3" viewBox="-15.65 -15.65 31.3 31.3" overflow="hidden">
<rect x="-16" y="-16" width="32" height="32" fill="#000"/>
<g filter="url(#b1b)"><g id="k40R"><ellipse cx="0.4" cy="0.4" rx="12.5" ry="11.6" fill="#740404" opacity="0.12"/><ellipse cx="0.4" cy="0.4" rx="12.5" ry="11.6" fill="none" stroke="#c40c0c" stroke-width="2.02" opacity="0.19"/><ellipse cx="0.4" cy="0.4" rx="12.5" ry="11.6" fill="none" stroke="#c40c0c" stroke-width="0.87" opacity="0.64"/><circle cx="0.5" cy="-11.0" r="1.10" fill="#ff1a1a" opacity="0.83"/><circle cx="4.6" cy="-10.7" r="0.92" fill="#ff1a1a" opacity="0.55"/><circle cx="6.5" cy="-10.1" r="0.86" fill="#ff1a1a" opacity="0.92"/><circle cx="8.7" cy="-8.3" r="0.89" fill="#ff1a1a" opacity="0.87"/><circle cx="10.4" cy="-6.1" r="0.98" fill="#ff1a1a" opacity="0.86"/><circle cx="11.2" cy="-4.8" r="0.80" fill="#ff1a1a" opacity="0.60"/><circle cx="12.4" cy="-3.1" r="1.07" fill="#ff1a1a" opacity="0.61"/><circle cx="12.9" cy="-0.0" r="0.80" fill="#ff1a1a" opacity="0.53"/><circle cx="12.4" cy="2.9" r="1.06" fill="#ff1a1a" opacity="0.65"/><circle cx="12.2" cy="5.1" r="0.75" fill="#ff1a1a" opacity="0.89"/><circle cx="10.9" cy="7.0" r="0.94" fill="#ff1a1a" opacity="0.42"/><circle cx="9.6" cy="8.1" r="0.77" fill="#ff1a1a" opacity="0.43"/><circle cx="6.7" cy="10.1" r="0.87" fill="#ff1a1a" opacity="0.81"/><circle cx="4.1" cy="11.3" r="1.03" fill="#ff1a1a" opacity="0.65"/><circle cx="1.4" cy="12.0" r="0.87" fill="#ff1a1a" opacity="0.66"/><circle cx="-0.7" cy="11.5" r="0.95" fill="#ff1a1a" opacity="0.48"/><circle cx="-3.3" cy="11.7" r="0.72" fill="#ff1a1a" opacity="0.98"/><circle cx="-6.0" cy="10.3" r="1.10" fill="#ff1a1a" opacity="0.87"/><circle cx="-7.7" cy="9.2" r="0.76" fill="#ff1a1a" opacity="0.79"/><circle cx="-9.8" cy="6.9" r="0.73" fill="#ff1a1a" opacity="0.41"/><circle cx="-10.8" cy="6.1" r="1.06" fill="#ff1a1a" opacity="0.80"/><circle cx="-11.9" cy="2.3" r="1.09" fill="#ff1a1a" opacity="1.00"/><circle cx="-12.4" cy="-0.3" r="0.72" fill="#ff1a1a" opacity="0.80"/><circle cx="-12.1" cy="-1.4" r="1.08" fill="#ff1a1a" opacity="0.64"/><circle cx="-11.1" cy="-3.4" r="0.80" fill="#ff1a1a" opacity="0.86"/><circle cx="-9.4" cy="-7.1" r="0.86" fill="#ff1a1a" opacity="0.61"/><circle cx="-8.8" cy="-8.0" r="1.09" fill="#ff1a1a" opacity="0.46"/><circle cx="-6.1" cy="-9.6" r="0.89" fill="#ff1a1a" opacity="0.77"/><circle cx="-4.3" cy="-10.2" r="0.85" fill="#ff1a1a" opacity="0.81"/><circle cx="-0.6" cy="-11.3" r="1.09" fill="#ff1a1a" opacity="0.94"/></g></g>
</svg>
<svg x="220.30" y="212.60" width="31.3" height="31.3" viewBox="-15.65 -15.65 31.3 31.3" overflow="hidden">
<rect x="-16" y="-16" width="32" height="32" fill="#000"/>
<g filter="url(#b1c)"><g id="k40B"><ellipse cx="0.4" cy="0.4" rx="12.0" ry="11.136" fill="#0e0e8c" opacity="0.25"/><ellipse cx="0.4" cy="0.4" rx="12.0" ry="11.136" fill="none" stroke="#0e0e8c" stroke-width="2.14" opacity="0.19"/><ellipse cx="0.4" cy="0.4" rx="12.0" ry="11.136" fill="none" stroke="#0e0e8c" stroke-width="0.92" opacity="0.64"/><circle cx="2.2" cy="-10.7" r="0.81" fill="#2a2aff" opacity="0.50"/><circle cx="4.9" cy="-10.4" r="0.80" fill="#2a2aff" opacity="0.28"/><circle cx="6.1" cy="-9.4" r="0.88" fill="#2a2aff" opacity="0.40"/><circle cx="9.6" cy="-7.2" r="0.77" fill="#2a2aff" opacity="0.27"/><circle cx="10.4" cy="-5.2" r="0.79" fill="#2a2aff" opacity="0.32"/><circle cx="11.7" cy="-2.0" r="0.86" fill="#2a2aff" opacity="0.48"/><circle cx="12.7" cy="0.1" r="0.85" fill="#2a2aff" opacity="0.55"/><circle cx="12.2" cy="3.7" r="0.68" fill="#2a2aff" opacity="0.55"/><circle cx="11.1" cy="4.8" r="0.63" fill="#2a2aff" opacity="0.52"/><circle cx="9.9" cy="6.8" r="0.68" fill="#2a2aff" opacity="0.50"/><circle cx="6.4" cy="9.8" r="0.72" fill="#2a2aff" opacity="0.50"/><circle cx="5.5" cy="10.8" r="0.61" fill="#2a2aff" opacity="0.48"/><circle cx="2.4" cy="11.0" r="0.88" fill="#2a2aff" opacity="0.43"/><circle cx="-0.8" cy="11.5" r="0.83" fill="#2a2aff" opacity="0.51"/><circle cx="-3.7" cy="10.7" r="0.83" fill="#2a2aff" opacity="0.23"/><circle cx="-6.1" cy="9.2" r="0.62" fill="#2a2aff" opacity="0.24"/><circle cx="-8.5" cy="8.5" r="0.91" fill="#2a2aff" opacity="0.25"/><circle cx="-10.0" cy="6.6" r="0.71" fill="#2a2aff" opacity="0.24"/><circle cx="-11.2" cy="3.8" r="0.63" fill="#2a2aff" opacity="0.52"/><circle cx="-11.6" cy="1.4" r="0.90" fill="#2a2aff" opacity="0.54"/><circle cx="-11.4" cy="-1.0" r="0.72" fill="#2a2aff" opacity="0.41"/><circle cx="-9.9" cy="-4.5" r="0.91" fill="#2a2aff" opacity="0.37"/><circle cx="-8.9" cy="-5.9" r="0.92" fill="#2a2aff" opacity="0.34"/><circle cx="-5.8" cy="-9.2" r="0.94" fill="#2a2aff" opacity="0.50"/><circle cx="-3.8" cy="-10.3" r="0.87" fill="#2a2aff" opacity="0.40"/><circle cx="-2.4" cy="-10.5" r="0.69" fill="#2a2aff" opacity="0.39"/><polyline points="0.4,-10.7 2.1,-10.6 3.8,-10.3 5.4,-9.7 6.9,-9.0 8.2,-8.0 9.5,-6.9 10.5,-5.6 11.3,-4.3 11.9,-2.8 12.3,-1.2 12.4,0.4 12.3,1.9 11.9,3.5 11.3,5.0 10.5,6.4 9.5,7.6 8.3,8.8 7.0,9.7 5.5,10.5 3.9,11.1 2.2,11.4 0.5,11.5 -1.2,11.4 -2.9,11.1 -4.5,10.6 -6.0,9.8 -7.4,8.9 -8.6,7.8 -9.6,6.5 -10.5,5.1 -11.1,3.7 -11.5,2.1 -11.6,0.5 -11.5,-1.0 -11.2,-2.6 -10.6,-4.1 -9.8,-5.5 -8.8,-6.8 -7.6,-7.9 -6.2,-8.9 -4.8,-9.7 -3.2,-10.2 -1.5,-10.6 0.2,-10.7" fill="none" stroke="#1414e4" stroke-linecap="round" stroke-linejoin="round" stroke-width="1.68" opacity="0.09"/><polyline points="0.4,-10.7 2.1,-10.6 3.8,-10.3 5.4,-9.7 6.9,-9.0 8.2,-8.0 9.5,-6.9 10.5,-5.6 11.3,-4.3 11.9,-2.8 12.3,-1.2 12.4,0.4 12.3,1.9 11.9,3.5 11.3,5.0 10.5,6.4 9.5,7.6 8.3,8.8 7.0,9.7 5.5,10.5 3.9,11.1 2.2,11.4 0.5,11.5 -1.2,11.4 -2.9,11.1 -4.5,10.6 -6.0,9.8 -7.4,8.9 -8.6,7.8 -9.6,6.5 -10.5,5.1 -11.1,3.7 -11.5,2.1 -11.6,0.5 -11.5,-1.0 -11.2,-2.6 -10.6,-4.1 -9.8,-5.5 -8.8,-6.8 -7.6,-7.9 -6.2,-8.9 -4.8,-9.7 -3.2,-10.2 -1.5,-10.6 0.2,-10.7" fill="none" stroke="#1414e4" stroke-linecap="round" stroke-linejoin="round" stroke-width="0.72" opacity="0.30"/></g></g>
</svg>
<svg x="253.20" y="212.60" width="31.3" height="31.3" viewBox="-15.65 -15.65 31.3 31.3" overflow="hidden">
<rect x="-16" y="-16" width="32" height="32" fill="#000"/>
<g filter="url(#b1d)"><g id="k40G"><ellipse cx="0.4" cy="0.4" rx="12.125" ry="11.251999999999999" fill="none" stroke="#0e9e0e" stroke-width="1.31" opacity="0.14"/><ellipse cx="0.4" cy="0.4" rx="12.125" ry="11.251999999999999" fill="none" stroke="#0e9e0e" stroke-width="0.56" opacity="0.48"/><circle cx="0.7" cy="-11.1" r="0.91" fill="#26e426" opacity="0.87"/><circle cx="6.9" cy="-9.1" r="0.81" fill="#26e426" opacity="0.63"/><circle cx="10.0" cy="-6.7" r="1.01" fill="#26e426" opacity="0.94"/><circle cx="11.9" cy="-2.6" r="0.92" fill="#26e426" opacity="0.41"/><circle cx="12.3" cy="-0.5" r="1.00" fill="#26e426" opacity="0.88"/><circle cx="11.5" cy="4.6" r="1.12" fill="#26e426" opacity="0.64"/><circle cx="10.3" cy="6.6" r="1.15" fill="#26e426" opacity="0.50"/><circle cx="7.2" cy="9.8" r="0.96" fill="#26e426" opacity="0.48"/><circle cx="4.4" cy="11.1" r="0.81" fill="#26e426" opacity="0.83"/><circle cx="-1.1" cy="11.5" r="1.02" fill="#26e426" opacity="0.43"/><circle cx="-4.5" cy="10.8" r="1.14" fill="#26e426" opacity="0.53"/><circle cx="-7.7" cy="9.0" r="1.13" fill="#26e426" opacity="0.87"/><circle cx="-10.4" cy="5.2" r="0.83" fill="#26e426" opacity="0.70"/><circle cx="-11.4" cy="2.2" r="0.98" fill="#26e426" opacity="0.57"/><circle cx="-11.0" cy="-3.5" r="0.82" fill="#26e426" opacity="0.43"/><circle cx="-8.4" cy="-7.8" r="0.77" fill="#26e426" opacity="0.41"/><circle cx="-5.4" cy="-9.6" r="0.91" fill="#26e426" opacity="0.77"/><circle cx="-1.0" cy="-10.7" r="0.78" fill="#26e426" opacity="0.74"/></g></g>
</svg>
<svg x="286.10" y="212.60" width="31.3" height="31.3" viewBox="-15.65 -15.65 31.3 31.3" overflow="hidden">
<rect x="-16" y="-16" width="32" height="32" fill="#000"/>
<g filter="url(#b1a)"><use href="#k40B" x="0" y="0" style="mix-blend-mode:screen" opacity="0.95"/><use href="#k40G" x="0.5" y="-0.4" style="mix-blend-mode:screen" opacity="0.8"/><use href="#k40R" x="-0.55" y="0.35" style="mix-blend-mode:screen" opacity="0.92"/></g>
</svg>
<svg x="187.40" y="245.50" width="31.3" height="31.3" viewBox="-15.65 -15.65 31.3 31.3" overflow="hidden">
<rect x="-16" y="-16" width="32" height="32" fill="#000"/>
<g filter="url(#b1b)"><g id="k41R"><ellipse cx="0.0" cy="0.4" rx="12.2" ry="12.8" fill="#740404" opacity="0.12"/><ellipse cx="0.0" cy="0.4" rx="12.2" ry="12.8" fill="none" stroke="#c40c0c" stroke-width="2.02" opacity="0.20"/><ellipse cx="0.0" cy="0.4" rx="12.2" ry="12.8" fill="none" stroke="#c40c0c" stroke-width="0.87" opacity="0.68"/><circle cx="1.2" cy="-12.6" r="1.09" fill="#ff1a1a" opacity="0.47"/><circle cx="3.8" cy="-11.9" r="0.77" fill="#ff1a1a" opacity="0.79"/><circle cx="6.5" cy="-10.6" r="1.05" fill="#ff1a1a" opacity="0.58"/><circle cx="8.3" cy="-9.4" r="0.77" fill="#ff1a1a" opacity="0.60"/><circle cx="10.2" cy="-7.4" r="1.03" fill="#ff1a1a" opacity="0.90"/><circle cx="11.3" cy="-4.8" r="0.72" fill="#ff1a1a" opacity="0.57"/><circle cx="12.2" cy="-2.5" r="1.05" fill="#ff1a1a" opacity="0.85"/><circle cx="12.4" cy="1.2" r="0.85" fill="#ff1a1a" opacity="0.69"/><circle cx="12.0" cy="1.9" r="1.02" fill="#ff1a1a" opacity="0.85"/><circle cx="10.9" cy="5.2" r="0.78" fill="#ff1a1a" opacity="0.91"/><circle cx="10.6" cy="6.8" r="1.00" fill="#ff1a1a" opacity="0.87"/><circle cx="8.1" cy="10.1" r="0.77" fill="#ff1a1a" opacity="0.42"/><circle cx="6.7" cy="11.1" r="0.97" fill="#ff1a1a" opacity="0.85"/><circle cx="4.4" cy="12.2" r="0.91" fill="#ff1a1a" opacity="0.59"/><circle cx="0.6" cy="13.5" r="1.08" fill="#ff1a1a" opacity="0.85"/><circle cx="-1.9" cy="13.4" r="0.89" fill="#ff1a1a" opacity="0.87"/><circle cx="-2.6" cy="12.5" r="0.73" fill="#ff1a1a" opacity="0.54"/><circle cx="-6.1" cy="11.6" r="0.96" fill="#ff1a1a" opacity="0.69"/><circle cx="-7.6" cy="10.6" r="0.86" fill="#ff1a1a" opacity="0.65"/><circle cx="-8.9" cy="8.5" r="1.10" fill="#ff1a1a" opacity="0.54"/><circle cx="-11.5" cy="5.1" r="0.81" fill="#ff1a1a" opacity="0.76"/><circle cx="-11.6" cy="3.3" r="0.76" fill="#ff1a1a" opacity="0.98"/><circle cx="-12.5" cy="0.0" r="1.02" fill="#ff1a1a" opacity="0.62"/><circle cx="-12.3" cy="-1.9" r="1.03" fill="#ff1a1a" opacity="0.67"/><circle cx="-11.1" cy="-4.5" r="0.96" fill="#ff1a1a" opacity="0.84"/><circle cx="-10.1" cy="-7.1" r="0.85" fill="#ff1a1a" opacity="0.96"/><circle cx="-7.8" cy="-9.6" r="0.95" fill="#ff1a1a" opacity="0.46"/><circle cx="-5.3" cy="-10.7" r="0.92" fill="#ff1a1a" opacity="0.91"/><circle cx="-3.5" cy="-11.9" r="1.03" fill="#ff1a1a" opacity="0.64"/><circle cx="-0.8" cy="-12.5" r="0.95" fill="#ff1a1a" opacity="0.89"/><polyline points="0.0,13.2 -1.8,13.1 -3.5,12.7 -5.2,12.0 -6.7,11.1 -8.1,10.0 -9.3,8.6 -10.4,7.1 -11.2,5.5 -11.8,3.7 -12.1,1.9 -12.2,0.0 -12.0,-1.8 -11.6,-3.6 -10.9,-5.3 -10.0,-6.9 -8.9,-8.4 -7.6,-9.6 -6.1,-10.7" fill="none" stroke="#ff1a1a" stroke-linecap="round" stroke-linejoin="round" stroke-width="2.38" opacity="0.18"/><polyline points="0.0,13.2 -1.8,13.1 -3.5,12.7 -5.2,12.0 -6.7,11.1 -8.1,10.0 -9.3,8.6 -10.4,7.1 -11.2,5.5 -11.8,3.7 -12.1,1.9 -12.2,0.0 -12.0,-1.8 -11.6,-3.6 -10.9,-5.3 -10.0,-6.9 -8.9,-8.4 -7.6,-9.6 -6.1,-10.7" fill="none" stroke="#ff1a1a" stroke-linecap="round" stroke-linejoin="round" stroke-width="1.02" opacity="0.60"/></g></g>
</svg>
<svg x="220.30" y="245.50" width="31.3" height="31.3" viewBox="-15.65 -15.65 31.3 31.3" overflow="hidden">
<rect x="-16" y="-16" width="32" height="32" fill="#000"/>
<g filter="url(#b1c)"><g id="k41B"><ellipse cx="0.0" cy="0.4" rx="11.834" ry="12.416" fill="#0e0e8c" opacity="0.38"/><ellipse cx="0.0" cy="0.4" rx="11.834" ry="12.416" fill="none" stroke="#1414e4" stroke-width="2.14" opacity="0.22"/><ellipse cx="0.0" cy="0.4" rx="11.834" ry="12.416" fill="none" stroke="#1414e4" stroke-width="0.92" opacity="0.72"/><circle cx="0.9" cy="-12.4" r="0.71" fill="#2a2aff" opacity="0.54"/><circle cx="3.9" cy="-11.0" r="0.93" fill="#2a2aff" opacity="0.28"/><circle cx="7.4" cy="-9.3" r="0.73" fill="#2a2aff" opacity="0.52"/><circle cx="7.9" cy="-8.6" r="0.92" fill="#2a2aff" opacity="0.30"/><circle cx="9.9" cy="-6.3" r="0.93" fill="#2a2aff" opacity="0.50"/><circle cx="11.3" cy="-3.2" r="0.84" fill="#2a2aff" opacity="0.38"/><circle cx="11.5" cy="0.4" r="0.75" fill="#2a2aff" opacity="0.53"/><circle cx="11.7" cy="3.5" r="0.63" fill="#2a2aff" opacity="0.27"/><circle cx="10.9" cy="6.3" r="0.71" fill="#2a2aff" opacity="0.34"/><circle cx="9.3" cy="7.3" r="0.86" fill="#2a2aff" opacity="0.26"/><circle cx="6.3" cy="11.2" r="0.78" fill="#2a2aff" opacity="0.50"/><circle cx="4.9" cy="12.1" r="0.86" fill="#2a2aff" opacity="0.27"/><circle cx="1.5" cy="12.8" r="0.86" fill="#2a2aff" opacity="0.47"/><circle cx="-0.6" cy="13.1" r="0.93" fill="#2a2aff" opacity="0.44"/><circle cx="-4.2" cy="11.8" r="0.89" fill="#2a2aff" opacity="0.23"/><circle cx="-6.3" cy="11.4" r="0.75" fill="#2a2aff" opacity="0.32"/><circle cx="-8.5" cy="9.1" r="0.80" fill="#2a2aff" opacity="0.29"/><circle cx="-9.8" cy="7.2" r="0.72" fill="#2a2aff" opacity="0.26"/><circle cx="-11.5" cy="4.8" r="0.91" fill="#2a2aff" opacity="0.46"/><circle cx="-11.6" cy="1.0" r="0.65" fill="#2a2aff" opacity="0.53"/><circle cx="-11.6" cy="-2.0" r="0.69" fill="#2a2aff" opacity="0.55"/><circle cx="-10.8" cy="-5.4" r="0.94" fill="#2a2aff" opacity="0.43"/><circle cx="-8.1" cy="-8.2" r="0.84" fill="#2a2aff" opacity="0.37"/><circle cx="-6.5" cy="-10.0" r="0.88" fill="#2a2aff" opacity="0.28"/><circle cx="-3.8" cy="-11.0" r="0.82" fill="#2a2aff" opacity="0.55"/><circle cx="-0.7" cy="-12.3" r="0.73" fill="#2a2aff" opacity="0.40"/><polyline points="-5.9,-10.4 -4.4,-11.1 -2.8,-11.7 -1.1,-12.0 0.6,-12.0 2.2,-11.8 3.9,-11.3 5.4,-10.6 6.9,-9.7 8.2,-8.6 9.3,-7.3 10.2,-5.8" fill="none" stroke="#2a2aff" stroke-linecap="round" stroke-linejoin="round" stroke-width="1.96" opacity="0.12"/><polyline points="-5.9,-10.4 -4.4,-11.1 -2.8,-11.7 -1.1,-12.0 0.6,-12.0 2.2,-11.8 3.9,-11.3 5.4,-10.6 6.9,-9.7 8.2,-8.6 9.3,-7.3 10.2,-5.8" fill="none" stroke="#2a2aff" stroke-linecap="round" stroke-linejoin="round" stroke-width="0.84" opacity="0.40"/></g></g>
</svg>
<svg x="253.20" y="245.50" width="31.3" height="31.3" viewBox="-15.65 -15.65 31.3 31.3" overflow="hidden">
<rect x="-16" y="-16" width="32" height="32" fill="#000"/>
<g filter="url(#b1d)"><g id="k41G"><ellipse cx="0.0" cy="0.4" rx="11.956" ry="12.544" fill="none" stroke="#26e426" stroke-width="1.67" opacity="0.24"/><ellipse cx="0.0" cy="0.4" rx="11.956" ry="12.544" fill="none" stroke="#26e426" stroke-width="0.71" opacity="0.80"/><circle cx="0.4" cy="-11.9" r="0.83" fill="#26e426" opacity="0.47"/><circle cx="4.2" cy="-11.1" r="0.73" fill="#26e426" opacity="0.43"/><circle cx="6.4" cy="-10.0" r="0.67" fill="#26e426" opacity="0.45"/><circle cx="10.0" cy="-7.0" r="0.63" fill="#26e426" opacity="0.41"/><circle cx="10.9" cy="-5.3" r="0.62" fill="#26e426" opacity="0.51"/><circle cx="11.6" cy="-2.3" r="0.74" fill="#26e426" opacity="0.49"/><circle cx="11.8" cy="1.3" r="0.83" fill="#26e426" opacity="0.43"/><circle cx="10.4" cy="5.8" r="0.63" fill="#26e426" opacity="0.37"/><circle cx="8.8" cy="8.6" r="0.66" fill="#26e426" opacity="0.60"/><circle cx="8.3" cy="9.6" r="0.78" fill="#26e426" opacity="0.58"/><circle cx="4.2" cy="12.2" r="0.64" fill="#26e426" opacity="0.44"/><circle cx="0.9" cy="13.0" r="0.71" fill="#26e426" opacity="0.25"/><circle cx="-1.3" cy="12.6" r="0.75" fill="#26e426" opacity="0.30"/><circle cx="-4.9" cy="11.9" r="0.65" fill="#26e426" opacity="0.51"/><circle cx="-6.2" cy="10.6" r="0.63" fill="#26e426" opacity="0.44"/><circle cx="-10.0" cy="7.6" r="0.72" fill="#26e426" opacity="0.36"/><circle cx="-10.6" cy="6.0" r="0.62" fill="#26e426" opacity="0.42"/><circle cx="-11.2" cy="3.4" r="0.60" fill="#26e426" opacity="0.39"/><circle cx="-12.3" cy="0.3" r="0.74" fill="#26e426" opacity="0.46"/><circle cx="-11.7" cy="-3.1" r="0.74" fill="#26e426" opacity="0.58"/><circle cx="-8.7" cy="-7.9" r="0.77" fill="#26e426" opacity="0.48"/><circle cx="-7.2" cy="-9.0" r="0.73" fill="#26e426" opacity="0.36"/><circle cx="-4.2" cy="-11.1" r="0.73" fill="#26e426" opacity="0.43"/><circle cx="-1.0" cy="-12.3" r="0.82" fill="#26e426" opacity="0.35"/><polyline points="-6.0,-10.5 -4.4,-11.3 -2.8,-11.8 -1.0,-12.1 0.7,-12.1 2.4,-11.9 4.1,-11.4 5.7,-10.6 7.1,-9.7 8.5,-8.5 9.6,-7.1 10.5,-5.6 11.2,-3.9 11.7,-2.1 11.9,-0.3 11.9,1.5 11.6,3.3 11.1,5.0 10.4,6.7" fill="none" stroke="#26e426" stroke-linecap="round" stroke-linejoin="round" stroke-width="1.82" opacity="0.15"/><polyline points="-6.0,-10.5 -4.4,-11.3 -2.8,-11.8 -1.0,-12.1 0.7,-12.1 2.4,-11.9 4.1,-11.4 5.7,-10.6 7.1,-9.7 8.5,-8.5 9.6,-7.1 10.5,-5.6 11.2,-3.9 11.7,-2.1 11.9,-0.3 11.9,1.5 11.6,3.3 11.1,5.0 10.4,6.7" fill="none" stroke="#26e426" stroke-linecap="round" stroke-linejoin="round" stroke-width="0.78" opacity="0.50"/></g></g>
</svg>
<svg x="286.10" y="245.50" width="31.3" height="31.3" viewBox="-15.65 -15.65 31.3 31.3" overflow="hidden">
<rect x="-16" y="-16" width="32" height="32" fill="#000"/>
<g filter="url(#b1a)"><use href="#k41B" x="0" y="0" style="mix-blend-mode:screen" opacity="0.95"/><use href="#k41G" x="0.5" y="-0.4" style="mix-blend-mode:screen" opacity="0.8"/><use href="#k41R" x="-0.55" y="0.35" style="mix-blend-mode:screen" opacity="0.92"/></g>
</svg>
<svg x="187.40" y="278.40" width="31.3" height="31.3" viewBox="-15.65 -15.65 31.3 31.3" overflow="hidden">
<rect x="-16" y="-16" width="32" height="32" fill="#000"/>
<g filter="url(#b1b)"><g id="k42R"><ellipse cx="0.3" cy="0.0" rx="12.6" ry="13.3" fill="#740404" opacity="0.15"/><ellipse cx="0.3" cy="0.0" rx="12.6" ry="13.3" fill="none" stroke="#c40c0c" stroke-width="2.02" opacity="0.20"/><ellipse cx="0.3" cy="0.0" rx="12.6" ry="13.3" fill="none" stroke="#c40c0c" stroke-width="0.87" opacity="0.68"/><circle cx="0.8" cy="-12.9" r="0.99" fill="#ff1a1a" opacity="0.51"/><circle cx="3.3" cy="-13.2" r="0.96" fill="#ff1a1a" opacity="0.73"/><circle cx="6.2" cy="-11.3" r="0.76" fill="#ff1a1a" opacity="0.62"/><circle cx="7.5" cy="-10.5" r="0.91" fill="#ff1a1a" opacity="0.51"/><circle cx="10.1" cy="-7.7" r="0.96" fill="#ff1a1a" opacity="0.44"/><circle cx="11.3" cy="-7.0" r="0.86" fill="#ff1a1a" opacity="0.58"/><circle cx="12.0" cy="-3.7" r="0.71" fill="#ff1a1a" opacity="0.52"/><circle cx="13.0" cy="-0.8" r="0.75" fill="#ff1a1a" opacity="0.69"/><circle cx="12.7" cy="0.2" r="1.00" fill="#ff1a1a" opacity="0.41"/><circle cx="12.2" cy="2.9" r="0.75" fill="#ff1a1a" opacity="0.52"/><circle cx="11.3" cy="6.2" r="1.03" fill="#ff1a1a" opacity="0.69"/><circle cx="10.1" cy="8.9" r="1.07" fill="#ff1a1a" opacity="0.69"/><circle cx="9.5" cy="9.7" r="0.80" fill="#ff1a1a" opacity="0.97"/><circle cx="5.5" cy="11.8" r="0.85" fill="#ff1a1a" opacity="0.79"/><circle cx="5.1" cy="12.5" r="0.80" fill="#ff1a1a" opacity="0.90"/><circle cx="0.9" cy="13.3" r="1.09" fill="#ff1a1a" opacity="0.89"/><circle cx="0.3" cy="13.7" r="0.95" fill="#ff1a1a" opacity="0.88"/><circle cx="-2.2" cy="13.1" r="1.02" fill="#ff1a1a" opacity="0.78"/><circle cx="-5.2" cy="11.7" r="0.84" fill="#ff1a1a" opacity="0.67"/><circle cx="-7.5" cy="11.0" r="0.91" fill="#ff1a1a" opacity="0.62"/><circle cx="-8.7" cy="9.2" r="0.73" fill="#ff1a1a" opacity="0.41"/><circle cx="-10.7" cy="7.2" r="0.96" fill="#ff1a1a" opacity="0.57"/><circle cx="-11.9" cy="4.3" r="0.88" fill="#ff1a1a" opacity="0.96"/><circle cx="-12.1" cy="0.7" r="0.80" fill="#ff1a1a" opacity="0.63"/><circle cx="-11.9" cy="-0.9" r="0.71" fill="#ff1a1a" opacity="0.89"/><circle cx="-11.9" cy="-3.9" r="0.80" fill="#ff1a1a" opacity="0.63"/><circle cx="-10.7" cy="-6.6" r="1.05" fill="#ff1a1a" opacity="0.87"/><circle cx="-9.9" cy="-8.1" r="0.84" fill="#ff1a1a" opacity="0.79"/><circle cx="-8.6" cy="-9.5" r="1.01" fill="#ff1a1a" opacity="0.52"/><circle cx="-5.3" cy="-11.7" r="0.74" fill="#ff1a1a" opacity="0.61"/><circle cx="-3.1" cy="-12.7" r="0.99" fill="#ff1a1a" opacity="0.42"/><circle cx="-1.7" cy="-13.3" r="0.93" fill="#ff1a1a" opacity="0.57"/><polyline points="2.5,13.1 0.7,13.3 -1.0,13.2 -2.7,12.9 -4.4,12.3 -6.0,11.5 -7.5,10.5 -8.8,9.2 -9.9,7.8 -10.8,6.2 -11.5,4.5 -12.0,2.8 -12.3,0.9 -12.3,-0.9 -12.0,-2.8 -11.5,-4.5 -10.8,-6.2 -9.9,-7.8 -8.8,-9.2 -7.5,-10.5 -6.0,-11.5" fill="none" stroke="#ff1a1a" stroke-linecap="round" stroke-linejoin="round" stroke-width="2.38" opacity="0.18"/><polyline points="2.5,13.1 0.7,13.3 -1.0,13.2 -2.7,12.9 -4.4,12.3 -6.0,11.5 -7.5,10.5 -8.8,9.2 -9.9,7.8 -10.8,6.2 -11.5,4.5 -12.0,2.8 -12.3,0.9 -12.3,-0.9 -12.0,-2.8 -11.5,-4.5 -10.8,-6.2 -9.9,-7.8 -8.8,-9.2 -7.5,-10.5 -6.0,-11.5" fill="none" stroke="#ff1a1a" stroke-linecap="round" stroke-linejoin="round" stroke-width="1.02" opacity="0.60"/></g></g>
</svg>
<svg x="220.30" y="278.40" width="31.3" height="31.3" viewBox="-15.65 -15.65 31.3 31.3" overflow="hidden">
<rect x="-16" y="-16" width="32" height="32" fill="#000"/>
<g filter="url(#b1c)"><g id="k42B"><ellipse cx="0.3" cy="0.0" rx="12.096" ry="12.768" fill="#0e0e8c" opacity="0.3"/><ellipse cx="0.3" cy="0.0" rx="12.096" ry="12.768" fill="none" stroke="#1414e4" stroke-width="2.02" opacity="0.22"/><ellipse cx="0.3" cy="0.0" rx="12.096" ry="12.768" fill="none" stroke="#1414e4" stroke-width="0.87" opacity="0.72"/><circle cx="2.1" cy="-12.4" r="0.84" fill="#2a2aff" opacity="0.55"/><circle cx="3.8" cy="-12.5" r="0.79" fill="#2a2aff" opacity="0.54"/><circle cx="6.1" cy="-11.6" r="0.92" fill="#2a2aff" opacity="0.40"/><circle cx="9.1" cy="-8.6" r="0.86" fill="#2a2aff" opacity="0.45"/><circle cx="10.8" cy="-6.3" r="0.64" fill="#2a2aff" opacity="0.26"/><circle cx="11.5" cy="-4.3" r="0.94" fill="#2a2aff" opacity="0.39"/><circle cx="12.4" cy="0.1" r="0.91" fill="#2a2aff" opacity="0.45"/><circle cx="12.5" cy="2.0" r="0.67" fill="#2a2aff" opacity="0.35"/><circle cx="11.4" cy="5.9" r="0.74" fill="#2a2aff" opacity="0.49"/><circle cx="9.0" cy="9.1" r="0.64" fill="#2a2aff" opacity="0.44"/><circle cx="7.4" cy="10.5" r="0.76" fill="#2a2aff" opacity="0.54"/><circle cx="5.5" cy="11.4" r="0.94" fill="#2a2aff" opacity="0.55"/><circle cx="1.6" cy="13.0" r="0.69" fill="#2a2aff" opacity="0.43"/><circle cx="-1.7" cy="12.5" r="0.92" fill="#2a2aff" opacity="0.46"/><circle cx="-4.7" cy="12.0" r="0.66" fill="#2a2aff" opacity="0.43"/><circle cx="-5.6" cy="11.0" r="0.77" fill="#2a2aff" opacity="0.44"/><circle cx="-7.7" cy="9.1" r="0.73" fill="#2a2aff" opacity="0.55"/><circle cx="-9.7" cy="6.7" r="0.88" fill="#2a2aff" opacity="0.50"/><circle cx="-11.5" cy="2.6" r="0.86" fill="#2a2aff" opacity="0.28"/><circle cx="-11.3" cy="1.3" r="0.86" fill="#2a2aff" opacity="0.31"/><circle cx="-11.0" cy="-3.2" r="0.65" fill="#2a2aff" opacity="0.39"/><circle cx="-10.9" cy="-5.6" r="0.89" fill="#2a2aff" opacity="0.39"/><circle cx="-9.4" cy="-7.6" r="0.72" fill="#2a2aff" opacity="0.53"/><circle cx="-6.4" cy="-10.6" r="0.72" fill="#2a2aff" opacity="0.37"/><circle cx="-4.7" cy="-11.7" r="0.76" fill="#2a2aff" opacity="0.38"/><circle cx="-1.6" cy="-12.2" r="0.87" fill="#2a2aff" opacity="0.38"/><polyline points="-3.8,12.0 -5.4,11.3 -6.9,10.3 -8.2,9.1 -9.3,7.8 -10.2,6.3 -11.0,4.6 -11.5,2.9 -11.7,1.1 -11.8,-0.7 -11.6,-2.5 -11.1,-4.2 -10.4,-5.9 -9.5,-7.4 -8.4,-8.8 -7.2,-10.0 -5.7,-11.1" fill="none" stroke="#2a2aff" stroke-linecap="round" stroke-linejoin="round" stroke-width="1.96" opacity="0.12"/><polyline points="-3.8,12.0 -5.4,11.3 -6.9,10.3 -8.2,9.1 -9.3,7.8 -10.2,6.3 -11.0,4.6 -11.5,2.9 -11.7,1.1 -11.8,-0.7 -11.6,-2.5 -11.1,-4.2 -10.4,-5.9 -9.5,-7.4 -8.4,-8.8 -7.2,-10.0 -5.7,-11.1" fill="none" stroke="#2a2aff" stroke-linecap="round" stroke-linejoin="round" stroke-width="0.84" opacity="0.40"/></g></g>
</svg>
<svg x="253.20" y="278.40" width="31.3" height="31.3" viewBox="-15.65 -15.65 31.3 31.3" overflow="hidden">
<rect x="-16" y="-16" width="32" height="32" fill="#000"/>
<g filter="url(#b1d)"><g id="k42G"><ellipse cx="0.3" cy="0.0" rx="12.6" ry="13.3" fill="#064e06" opacity="0.4"/><ellipse cx="0.3" cy="0.0" rx="12.6" ry="13.3" fill="none" stroke="#0e9e0e" stroke-width="1.78" opacity="0.20"/><ellipse cx="0.3" cy="0.0" rx="12.6" ry="13.3" fill="none" stroke="#0e9e0e" stroke-width="0.76" opacity="0.68"/><circle cx="1.1" cy="-13.2" r="0.81" fill="#26e426" opacity="0.43"/><circle cx="4.5" cy="-12.7" r="0.68" fill="#26e426" opacity="0.42"/><circle cx="7.7" cy="-11.1" r="0.73" fill="#26e426" opacity="0.26"/><circle cx="10.1" cy="-9.0" r="0.91" fill="#26e426" opacity="0.49"/><circle cx="11.1" cy="-6.7" r="0.92" fill="#26e426" opacity="0.37"/><circle cx="13.0" cy="-3.0" r="0.81" fill="#26e426" opacity="0.32"/><circle cx="13.0" cy="0.5" r="0.85" fill="#26e426" opacity="0.55"/><circle cx="12.1" cy="3.5" r="0.67" fill="#26e426" opacity="0.44"/><circle cx="11.9" cy="4.8" r="0.76" fill="#26e426" opacity="0.33"/><circle cx="10.3" cy="8.5" r="0.66" fill="#26e426" opacity="0.42"/><circle cx="8.3" cy="10.1" r="0.69" fill="#26e426" opacity="0.44"/><circle cx="5.0" cy="12.7" r="0.79" fill="#26e426" opacity="0.28"/><circle cx="3.3" cy="13.0" r="0.87" fill="#26e426" opacity="0.60"/><circle cx="-0.0" cy="13.4" r="0.63" fill="#26e426" opacity="0.46"/><circle cx="-4.8" cy="11.7" r="0.90" fill="#26e426" opacity="0.51"/><circle cx="-6.1" cy="11.4" r="0.88" fill="#26e426" opacity="0.34"/><circle cx="-8.2" cy="9.2" r="0.76" fill="#26e426" opacity="0.57"/><circle cx="-10.4" cy="7.5" r="0.74" fill="#26e426" opacity="0.48"/><circle cx="-11.3" cy="4.6" r="0.89" fill="#26e426" opacity="0.40"/><circle cx="-12.3" cy="-0.7" r="0.69" fill="#26e426" opacity="0.41"/><circle cx="-11.8" cy="-1.9" r="0.74" fill="#26e426" opacity="0.30"/><circle cx="-11.2" cy="-6.1" r="0.81" fill="#26e426" opacity="0.57"/><circle cx="-9.6" cy="-8.8" r="0.63" fill="#26e426" opacity="0.40"/><circle cx="-8.0" cy="-10.3" r="0.73" fill="#26e426" opacity="0.28"/><circle cx="-4.4" cy="-12.3" r="0.68" fill="#26e426" opacity="0.46"/><circle cx="-0.3" cy="-13.0" r="0.70" fill="#26e426" opacity="0.58"/></g></g>
</svg>
<svg x="286.10" y="278.40" width="31.3" height="31.3" viewBox="-15.65 -15.65 31.3 31.3" overflow="hidden">
<rect x="-16" y="-16" width="32" height="32" fill="#060808"/>
<g filter="url(#b1a)"><rect x="-16" y="-16" width="32" height="2.4" fill="#8a8f92"/><ellipse cx="0.3" cy="0" rx="12.2" ry="12.9" fill="#10141a" opacity="1"/><use href="#k42B" x="0" y="0" style="mix-blend-mode:screen" opacity="0.95"/><use href="#k42G" x="0.5" y="-0.4" style="mix-blend-mode:screen" opacity="0.8"/><use href="#k42R" x="-0.55" y="0.35" style="mix-blend-mode:screen" opacity="0.92"/></g>
</svg>
<svg x="187.40" y="311.30" width="31.3" height="31.3" viewBox="-15.65 -15.65 31.3 31.3" overflow="hidden">
<rect x="-16" y="-16" width="32" height="32" fill="#000"/>
<g filter="url(#b1b)"><g id="k43R"><ellipse cx="0.2" cy="0.4" rx="11.8" ry="12.2" fill="#740404" opacity="0.2"/><ellipse cx="0.2" cy="0.4" rx="11.8" ry="12.2" fill="none" stroke="#c40c0c" stroke-width="1.78" opacity="0.11"/><ellipse cx="0.2" cy="0.4" rx="11.8" ry="12.2" fill="none" stroke="#c40c0c" stroke-width="0.76" opacity="0.36"/><circle cx="2.6" cy="-12.0" r="0.78" fill="#ff1a1a" opacity="0.48"/><circle cx="6.1" cy="-10.4" r="0.74" fill="#ff1a1a" opacity="0.86"/><circle cx="8.3" cy="-8.6" r="0.98" fill="#ff1a1a" opacity="0.73"/><circle cx="10.0" cy="-7.1" r="0.80" fill="#ff1a1a" opacity="0.82"/><circle cx="11.2" cy="-2.9" r="1.06" fill="#ff1a1a" opacity="0.48"/><circle cx="11.8" cy="1.1" r="0.99" fill="#ff1a1a" opacity="0.78"/><circle cx="12.1" cy="2.2" r="0.73" fill="#ff1a1a" opacity="0.59"/><circle cx="10.8" cy="5.6" r="0.71" fill="#ff1a1a" opacity="0.97"/><circle cx="7.8" cy="9.7" r="0.79" fill="#ff1a1a" opacity="0.59"/><circle cx="5.7" cy="11.0" r="1.00" fill="#ff1a1a" opacity="0.93"/><circle cx="1.3" cy="12.5" r="0.75" fill="#ff1a1a" opacity="0.62"/><circle cx="0.2" cy="12.7" r="0.98" fill="#ff1a1a" opacity="0.77"/><circle cx="-3.4" cy="12.4" r="0.85" fill="#ff1a1a" opacity="0.76"/><circle cx="-8.3" cy="9.2" r="0.95" fill="#ff1a1a" opacity="0.81"/><circle cx="-9.1" cy="7.7" r="0.73" fill="#ff1a1a" opacity="0.93"/><circle cx="-10.2" cy="5.3" r="0.79" fill="#ff1a1a" opacity="0.45"/><circle cx="-11.4" cy="2.0" r="1.06" fill="#ff1a1a" opacity="0.73"/><circle cx="-10.6" cy="-3.8" r="0.80" fill="#ff1a1a" opacity="0.55"/><circle cx="-9.9" cy="-5.6" r="0.88" fill="#ff1a1a" opacity="0.44"/><circle cx="-8.5" cy="-7.6" r="0.87" fill="#ff1a1a" opacity="0.40"/><circle cx="-6.0" cy="-10.4" r="1.08" fill="#ff1a1a" opacity="0.90"/><circle cx="-3.2" cy="-11.5" r="0.90" fill="#ff1a1a" opacity="0.70"/><polyline points="10.4,6.5 9.5,7.9 8.4,9.2 7.1,10.3 5.6,11.2 4.1,11.9 2.5,12.4 0.8,12.6 -0.8,12.6 -2.5,12.3 -4.1,11.8 -5.6,11.0 -7.0,10.1 -8.2,8.9 -9.3,7.6 -10.2,6.2 -10.9,4.6" fill="none" stroke="#ff1a1a" stroke-linecap="round" stroke-linejoin="round" stroke-width="2.24" opacity="0.17"/><polyline points="10.4,6.5 9.5,7.9 8.4,9.2 7.1,10.3 5.6,11.2 4.1,11.9 2.5,12.4 0.8,12.6 -0.8,12.6 -2.5,12.3 -4.1,11.8 -5.6,11.0 -7.0,10.1 -8.2,8.9 -9.3,7.6 -10.2,6.2 -10.9,4.6" fill="none" stroke="#ff1a1a" stroke-linecap="round" stroke-linejoin="round" stroke-width="0.96" opacity="0.55"/></g></g>
</svg>
<svg x="220.30" y="311.30" width="31.3" height="31.3" viewBox="-15.65 -15.65 31.3 31.3" overflow="hidden">
<rect x="-16" y="-16" width="32" height="32" fill="#000"/>
<g filter="url(#b1c)"><g id="k43B"><ellipse cx="0.2" cy="0.4" rx="11.328" ry="11.712" fill="#0e0e8c" opacity="0.18"/><ellipse cx="0.2" cy="0.4" rx="11.328" ry="11.712" fill="none" stroke="#0e0e8c" stroke-width="1.90" opacity="0.19"/><ellipse cx="0.2" cy="0.4" rx="11.328" ry="11.712" fill="none" stroke="#0e0e8c" stroke-width="0.82" opacity="0.64"/><circle cx="0.9" cy="-11.0" r="0.82" fill="#2a2aff" opacity="0.18"/><circle cx="4.0" cy="-10.4" r="0.56" fill="#2a2aff" opacity="0.28"/><circle cx="7.2" cy="-8.4" r="0.76" fill="#2a2aff" opacity="0.29"/><circle cx="8.7" cy="-7.0" r="0.71" fill="#2a2aff" opacity="0.19"/><circle cx="10.8" cy="-2.7" r="0.65" fill="#2a2aff" opacity="0.15"/><circle cx="11.6" cy="0.6" r="0.82" fill="#2a2aff" opacity="0.36"/><circle cx="11.3" cy="2.5" r="0.73" fill="#2a2aff" opacity="0.16"/><circle cx="10.4" cy="5.7" r="0.76" fill="#2a2aff" opacity="0.33"/><circle cx="7.0" cy="10.1" r="0.84" fill="#2a2aff" opacity="0.37"/><circle cx="5.5" cy="10.5" r="0.58" fill="#2a2aff" opacity="0.37"/><circle cx="2.5" cy="11.9" r="0.80" fill="#2a2aff" opacity="0.27"/><circle cx="-1.0" cy="11.9" r="0.60" fill="#2a2aff" opacity="0.28"/><circle cx="-4.8" cy="10.6" r="0.71" fill="#2a2aff" opacity="0.22"/><circle cx="-5.9" cy="9.9" r="0.75" fill="#2a2aff" opacity="0.19"/><circle cx="-8.5" cy="7.9" r="0.80" fill="#2a2aff" opacity="0.26"/><circle cx="-10.5" cy="3.4" r="0.81" fill="#2a2aff" opacity="0.31"/><circle cx="-11.1" cy="-0.3" r="0.74" fill="#2a2aff" opacity="0.30"/><circle cx="-10.6" cy="-1.5" r="0.72" fill="#2a2aff" opacity="0.30"/><circle cx="-10.0" cy="-4.7" r="0.55" fill="#2a2aff" opacity="0.30"/><circle cx="-7.6" cy="-8.2" r="0.61" fill="#2a2aff" opacity="0.23"/><circle cx="-4.9" cy="-10.2" r="0.83" fill="#2a2aff" opacity="0.17"/><circle cx="-2.5" cy="-10.7" r="0.65" fill="#2a2aff" opacity="0.26"/><polyline points="0.2,-11.3 1.8,-11.2 3.4,-10.8 4.9,-10.3 6.3,-9.5 7.6,-8.5 8.7,-7.3 9.7,-6.0 10.5,-4.5 11.1,-2.9 11.4,-1.3 11.5,0.3 11.4,2.0 11.1,3.6 10.5,5.2 9.8,6.7 8.8,8.0 7.7,9.2 6.4,10.2 5.0,11.0 3.5,11.6 1.9,12.0 0.3,12.1 -1.3,12.0 -2.9,11.7 -4.4,11.1 -5.8,10.3 -7.1,9.3 -8.3,8.2 -9.3,6.8 -10.0,5.4 -10.6,3.8 -11.0,2.2 -11.1,0.6 -11.0,-1.1 -10.7,-2.7 -10.2,-4.3 -9.4,-5.8 -8.5,-7.1 -7.3,-8.3 -6.1,-9.4 -4.7,-10.2 -3.2,-10.8 -1.6,-11.2 0.0,-11.3" fill="none" stroke="#1414e4" stroke-linecap="round" stroke-linejoin="round" stroke-width="1.54" opacity="0.06"/><polyline points="0.2,-11.3 1.8,-11.2 3.4,-10.8 4.9,-10.3 6.3,-9.5 7.6,-8.5 8.7,-7.3 9.7,-6.0 10.5,-4.5 11.1,-2.9 11.4,-1.3 11.5,0.3 11.4,2.0 11.1,3.6 10.5,5.2 9.8,6.7 8.8,8.0 7.7,9.2 6.4,10.2 5.0,11.0 3.5,11.6 1.9,12.0 0.3,12.1 -1.3,12.0 -2.9,11.7 -4.4,11.1 -5.8,10.3 -7.1,9.3 -8.3,8.2 -9.3,6.8 -10.0,5.4 -10.6,3.8 -11.0,2.2 -11.1,0.6 -11.0,-1.1 -10.7,-2.7 -10.2,-4.3 -9.4,-5.8 -8.5,-7.1 -7.3,-8.3 -6.1,-9.4 -4.7,-10.2 -3.2,-10.8 -1.6,-11.2 0.0,-11.3" fill="none" stroke="#1414e4" stroke-linecap="round" stroke-linejoin="round" stroke-width="0.66" opacity="0.20"/></g></g>
</svg>
<svg x="253.20" y="311.30" width="31.3" height="31.3" viewBox="-15.65 -15.65 31.3 31.3" overflow="hidden">
<rect x="-16" y="-16" width="32" height="32" fill="#000"/>
<g filter="url(#b1d)"><g id="k43G"><ellipse cx="0.2" cy="0.4" rx="12.036000000000001" ry="12.443999999999999" fill="#064e06" opacity="0.55"/><ellipse cx="0.2" cy="0.4" rx="12.036000000000001" ry="12.443999999999999" fill="none" stroke="#0e9e0e" stroke-width="2.38" opacity="0.17"/><ellipse cx="0.2" cy="0.4" rx="12.036000000000001" ry="12.443999999999999" fill="none" stroke="#0e9e0e" stroke-width="1.02" opacity="0.56"/><circle cx="2.1" cy="-12.2" r="0.85" fill="#26e426" opacity="0.39"/><circle cx="4.5" cy="-10.4" r="0.74" fill="#26e426" opacity="0.63"/><circle cx="8.6" cy="-9.3" r="1.02" fill="#26e426" opacity="0.45"/><circle cx="11.3" cy="-5.7" r="0.96" fill="#26e426" opacity="0.62"/><circle cx="10.9" cy="-3.3" r="0.74" fill="#26e426" opacity="0.62"/><circle cx="11.3" cy="0.1" r="0.82" fill="#26e426" opacity="0.60"/><circle cx="11.4" cy="4.9" r="0.77" fill="#26e426" opacity="0.56"/><circle cx="11.7" cy="5.9" r="1.03" fill="#26e426" opacity="0.72"/><circle cx="7.3" cy="9.5" r="0.92" fill="#26e426" opacity="0.61"/><circle cx="5.5" cy="11.6" r="1.00" fill="#26e426" opacity="0.74"/><circle cx="1.3" cy="11.8" r="0.92" fill="#26e426" opacity="0.39"/><circle cx="-0.1" cy="11.8" r="0.91" fill="#26e426" opacity="0.57"/><circle cx="-6.0" cy="12.5" r="1.04" fill="#26e426" opacity="0.52"/><circle cx="-8.8" cy="9.5" r="1.02" fill="#26e426" opacity="0.59"/><circle cx="-9.8" cy="7.9" r="0.92" fill="#26e426" opacity="0.48"/><circle cx="-10.5" cy="3.4" r="0.73" fill="#26e426" opacity="0.51"/><circle cx="-12.3" cy="1.9" r="1.00" fill="#26e426" opacity="0.44"/><circle cx="-10.4" cy="-2.7" r="0.93" fill="#26e426" opacity="0.54"/><circle cx="-9.5" cy="-6.1" r="0.83" fill="#26e426" opacity="0.69"/><circle cx="-7.9" cy="-9.7" r="0.82" fill="#26e426" opacity="0.71"/><circle cx="-5.5" cy="-9.2" r="0.81" fill="#26e426" opacity="0.38"/><circle cx="-1.3" cy="-11.3" r="0.97" fill="#26e426" opacity="0.70"/></g></g>
</svg>
<svg x="286.10" y="311.30" width="31.3" height="31.3" viewBox="-15.65 -15.65 31.3 31.3" overflow="hidden">
<rect x="-16" y="-16" width="32" height="32" fill="#000"/>
<g filter="url(#b1a)"><use href="#k43B" x="0" y="0" style="mix-blend-mode:screen" opacity="0.95"/><use href="#k43G" x="0.5" y="-0.4" style="mix-blend-mode:screen" opacity="0.8"/><g style="mix-blend-mode:screen" opacity="0.92" transform="translate(-0.55,0.35)"><ellipse cx="0.2" cy="0.4" rx="11.8" ry="12.2" fill="#740404" opacity="0.2"/><ellipse cx="0.2" cy="0.4" rx="11.8" ry="12.2" fill="none" stroke="#c40c0c" stroke-width="1.90" opacity="0.14"/><ellipse cx="0.2" cy="0.4" rx="11.8" ry="12.2" fill="none" stroke="#c40c0c" stroke-width="0.82" opacity="0.48"/><circle cx="2.6" cy="-12.0" r="0.78" fill="#ff1a1a" opacity="0.48"/><circle cx="6.1" cy="-10.4" r="0.74" fill="#ff1a1a" opacity="0.86"/><circle cx="8.3" cy="-8.6" r="0.98" fill="#ff1a1a" opacity="0.73"/><circle cx="10.0" cy="-7.1" r="0.80" fill="#ff1a1a" opacity="0.82"/><circle cx="11.2" cy="-2.9" r="1.06" fill="#ff1a1a" opacity="0.48"/><circle cx="11.8" cy="1.1" r="0.99" fill="#ff1a1a" opacity="0.78"/><circle cx="12.1" cy="2.2" r="0.73" fill="#ff1a1a" opacity="0.59"/><circle cx="10.8" cy="5.6" r="0.71" fill="#ff1a1a" opacity="0.97"/><circle cx="7.8" cy="9.7" r="0.79" fill="#ff1a1a" opacity="0.59"/><circle cx="5.7" cy="11.0" r="1.00" fill="#ff1a1a" opacity="0.93"/><circle cx="1.3" cy="12.5" r="0.75" fill="#ff1a1a" opacity="0.62"/><circle cx="0.2" cy="12.7" r="0.98" fill="#ff1a1a" opacity="0.77"/><circle cx="-3.4" cy="12.4" r="0.85" fill="#ff1a1a" opacity="0.76"/><circle cx="-8.3" cy="9.2" r="0.95" fill="#ff1a1a" opacity="0.81"/><circle cx="-9.1" cy="7.7" r="0.73" fill="#ff1a1a" opacity="0.93"/><circle cx="-10.2" cy="5.3" r="0.79" fill="#ff1a1a" opacity="0.45"/><circle cx="-11.4" cy="2.0" r="1.06" fill="#ff1a1a" opacity="0.73"/><circle cx="-10.6" cy="-3.8" r="0.80" fill="#ff1a1a" opacity="0.55"/><circle cx="-9.9" cy="-5.6" r="0.88" fill="#ff1a1a" opacity="0.44"/><circle cx="-8.5" cy="-7.6" r="0.87" fill="#ff1a1a" opacity="0.40"/><circle cx="-6.0" cy="-10.4" r="1.08" fill="#ff1a1a" opacity="0.90"/><circle cx="-3.2" cy="-11.5" r="0.90" fill="#ff1a1a" opacity="0.70"/><polyline points="10.4,6.5 9.5,7.9 8.4,9.2 7.1,10.3 5.6,11.2 4.1,11.9 2.5,12.4 0.8,12.6 -0.8,12.6 -2.5,12.3 -4.1,11.8 -5.6,11.0 -7.0,10.1 -8.2,8.9 -9.3,7.6 -10.2,6.2 -10.9,4.6" fill="none" stroke="#ff1a1a" stroke-linecap="round" stroke-linejoin="round" stroke-width="2.38" opacity="0.24"/><polyline points="10.4,6.5 9.5,7.9 8.4,9.2 7.1,10.3 5.6,11.2 4.1,11.9 2.5,12.4 0.8,12.6 -0.8,12.6 -2.5,12.3 -4.1,11.8 -5.6,11.0 -7.0,10.1 -8.2,8.9 -9.3,7.6 -10.2,6.2 -10.9,4.6" fill="none" stroke="#ff1a1a" stroke-linecap="round" stroke-linejoin="round" stroke-width="1.02" opacity="0.80"/></g></g>
</svg>
<svg x="345.30" y="212.60" width="31.3" height="31.3" viewBox="-15.65 -15.65 31.3 31.3" overflow="hidden">
<rect x="-16" y="-16" width="32" height="32" fill="#000"/>
<g filter="url(#b1b)"><g id="k50R"><ellipse cx="0.4" cy="0.5" rx="11.9" ry="11.4" fill="#740404" opacity="0.06"/><ellipse cx="0.4" cy="0.5" rx="11.9" ry="11.4" fill="none" stroke="#c40c0c" stroke-width="1.78" opacity="0.14"/><ellipse cx="0.4" cy="0.5" rx="11.9" ry="11.4" fill="none" stroke="#c40c0c" stroke-width="0.76" opacity="0.48"/><circle cx="1.3" cy="-11.1" r="0.82" fill="#ff1a1a" opacity="0.45"/><circle cx="3.8" cy="-10.6" r="0.91" fill="#ff1a1a" opacity="0.26"/><circle cx="6.6" cy="-9.7" r="0.96" fill="#ff1a1a" opacity="0.46"/><circle cx="9.5" cy="-7.5" r="0.69" fill="#ff1a1a" opacity="0.51"/><circle cx="11.2" cy="-4.9" r="0.93" fill="#ff1a1a" opacity="0.32"/><circle cx="12.5" cy="-1.9" r="0.92" fill="#ff1a1a" opacity="0.35"/><circle cx="12.7" cy="0.1" r="0.72" fill="#ff1a1a" opacity="0.62"/><circle cx="12.0" cy="4.0" r="0.90" fill="#ff1a1a" opacity="0.26"/><circle cx="11.8" cy="5.0" r="0.78" fill="#ff1a1a" opacity="0.62"/><circle cx="8.9" cy="8.2" r="0.97" fill="#ff1a1a" opacity="0.56"/><circle cx="8.1" cy="9.1" r="0.89" fill="#ff1a1a" opacity="0.28"/><circle cx="5.0" cy="10.6" r="1.00" fill="#ff1a1a" opacity="0.36"/><circle cx="3.1" cy="12.0" r="0.73" fill="#ff1a1a" opacity="0.41"/><circle cx="-0.9" cy="11.6" r="0.67" fill="#ff1a1a" opacity="0.51"/><circle cx="-2.8" cy="11.6" r="0.69" fill="#ff1a1a" opacity="0.26"/><circle cx="-5.8" cy="10.0" r="0.83" fill="#ff1a1a" opacity="0.58"/><circle cx="-8.3" cy="7.9" r="0.89" fill="#ff1a1a" opacity="0.33"/><circle cx="-10.6" cy="5.2" r="0.90" fill="#ff1a1a" opacity="0.27"/><circle cx="-11.2" cy="3.3" r="0.85" fill="#ff1a1a" opacity="0.32"/><circle cx="-11.2" cy="1.1" r="0.87" fill="#ff1a1a" opacity="0.51"/><circle cx="-11.0" cy="-1.2" r="0.75" fill="#ff1a1a" opacity="0.53"/><circle cx="-10.0" cy="-5.3" r="0.70" fill="#ff1a1a" opacity="0.37"/><circle cx="-9.5" cy="-6.2" r="0.99" fill="#ff1a1a" opacity="0.47"/><circle cx="-6.0" cy="-9.2" r="0.67" fill="#ff1a1a" opacity="0.43"/><circle cx="-3.5" cy="-10.2" r="0.87" fill="#ff1a1a" opacity="0.39"/><circle cx="-1.3" cy="-10.6" r="0.71" fill="#ff1a1a" opacity="0.48"/></g></g>
</svg>
<svg x="378.20" y="212.60" width="31.3" height="31.3" viewBox="-15.65 -15.65 31.3 31.3" overflow="hidden">
<rect x="-16" y="-16" width="32" height="32" fill="#000"/>
<g filter="url(#b1c)"><g id="k50B"><ellipse cx="0.4" cy="0.5" rx="11.9" ry="11.4" fill="#0e0e8c" opacity="0.15"/><ellipse cx="0.4" cy="0.5" rx="11.9" ry="11.4" fill="none" stroke="#0e0e8c" stroke-width="1.90" opacity="0.19"/><ellipse cx="0.4" cy="0.5" rx="11.9" ry="11.4" fill="none" stroke="#0e0e8c" stroke-width="0.82" opacity="0.64"/><circle cx="2.5" cy="-10.8" r="0.76" fill="#2a2aff" opacity="0.49"/><circle cx="3.3" cy="-10.1" r="0.81" fill="#2a2aff" opacity="0.48"/><circle cx="6.9" cy="-8.9" r="0.62" fill="#2a2aff" opacity="0.64"/><circle cx="8.6" cy="-7.2" r="0.87" fill="#2a2aff" opacity="0.63"/><circle cx="11.0" cy="-5.0" r="0.76" fill="#2a2aff" opacity="0.33"/><circle cx="11.7" cy="-2.6" r="0.65" fill="#2a2aff" opacity="0.57"/><circle cx="12.5" cy="-0.6" r="0.82" fill="#2a2aff" opacity="0.42"/><circle cx="11.8" cy="1.9" r="0.69" fill="#2a2aff" opacity="0.61"/><circle cx="11.6" cy="3.5" r="0.85" fill="#2a2aff" opacity="0.30"/><circle cx="11.0" cy="6.4" r="0.90" fill="#2a2aff" opacity="0.59"/><circle cx="9.7" cy="7.6" r="0.62" fill="#2a2aff" opacity="0.47"/><circle cx="6.4" cy="10.0" r="0.92" fill="#2a2aff" opacity="0.60"/><circle cx="3.7" cy="11.6" r="0.63" fill="#2a2aff" opacity="0.37"/><circle cx="2.5" cy="11.4" r="0.74" fill="#2a2aff" opacity="0.63"/><circle cx="-0.6" cy="11.9" r="0.86" fill="#2a2aff" opacity="0.29"/><circle cx="-2.5" cy="12.0" r="0.93" fill="#2a2aff" opacity="0.29"/><circle cx="-5.4" cy="10.1" r="0.73" fill="#2a2aff" opacity="0.40"/><circle cx="-7.6" cy="8.9" r="0.72" fill="#2a2aff" opacity="0.57"/><circle cx="-9.5" cy="7.2" r="0.79" fill="#2a2aff" opacity="0.34"/><circle cx="-10.9" cy="4.7" r="0.76" fill="#2a2aff" opacity="0.59"/><circle cx="-11.4" cy="2.3" r="0.78" fill="#2a2aff" opacity="0.40"/><circle cx="-11.6" cy="-0.9" r="0.86" fill="#2a2aff" opacity="0.33"/><circle cx="-10.5" cy="-3.8" r="0.64" fill="#2a2aff" opacity="0.49"/><circle cx="-9.7" cy="-4.8" r="0.71" fill="#2a2aff" opacity="0.40"/><circle cx="-7.9" cy="-7.6" r="0.91" fill="#2a2aff" opacity="0.69"/><circle cx="-6.0" cy="-9.3" r="0.62" fill="#2a2aff" opacity="0.36"/><circle cx="-3.8" cy="-10.6" r="0.94" fill="#2a2aff" opacity="0.30"/><circle cx="-1.2" cy="-10.8" r="0.74" fill="#2a2aff" opacity="0.54"/><polyline points="0.4,-10.9 2.1,-10.8 3.7,-10.4 5.3,-9.9 6.8,-9.1 8.2,-8.1 9.4,-7.0 10.4,-5.7 11.2,-4.3 11.8,-2.8 12.2,-1.2 12.3,0.5 12.2,2.1 11.8,3.7 11.3,5.2 10.4,6.6 9.4,7.9 8.3,9.1 6.9,10.0 5.4,10.8 3.8,11.4 2.2,11.8 0.5,11.9 -1.2,11.8 -2.8,11.5 -4.4,10.9 -5.9,10.2 -7.3,9.2 -8.5,8.1 -9.5,6.8 -10.4,5.4 -11.0,3.8 -11.4,2.3 -11.5,0.6 -11.4,-1.0 -11.1,-2.6 -10.5,-4.1 -9.7,-5.5 -8.7,-6.8 -7.5,-8.0 -6.2,-9.0 -4.7,-9.8 -3.1,-10.4 -1.5,-10.8 0.2,-10.9" fill="none" stroke="#1414e4" stroke-linecap="round" stroke-linejoin="round" stroke-width="1.54" opacity="0.09"/><polyline points="0.4,-10.9 2.1,-10.8 3.7,-10.4 5.3,-9.9 6.8,-9.1 8.2,-8.1 9.4,-7.0 10.4,-5.7 11.2,-4.3 11.8,-2.8 12.2,-1.2 12.3,0.5 12.2,2.1 11.8,3.7 11.3,5.2 10.4,6.6 9.4,7.9 8.3,9.1 6.9,10.0 5.4,10.8 3.8,11.4 2.2,11.8 0.5,11.9 -1.2,11.8 -2.8,11.5 -4.4,10.9 -5.9,10.2 -7.3,9.2 -8.5,8.1 -9.5,6.8 -10.4,5.4 -11.0,3.8 -11.4,2.3 -11.5,0.6 -11.4,-1.0 -11.1,-2.6 -10.5,-4.1 -9.7,-5.5 -8.7,-6.8 -7.5,-8.0 -6.2,-9.0 -4.7,-9.8 -3.1,-10.4 -1.5,-10.8 0.2,-10.9" fill="none" stroke="#1414e4" stroke-linecap="round" stroke-linejoin="round" stroke-width="0.66" opacity="0.30"/></g></g>
</svg>
<svg x="411.10" y="212.60" width="31.3" height="31.3" viewBox="-15.65 -15.65 31.3 31.3" overflow="hidden">
<rect x="-16" y="-16" width="32" height="32" fill="#000"/>
<g filter="url(#b1d)"><g id="k50G"><ellipse cx="0.4" cy="0.5" rx="11.543" ry="11.058" fill="none" stroke="#26e426" stroke-width="1.55" opacity="0.22"/><ellipse cx="0.4" cy="0.5" rx="11.543" ry="11.058" fill="none" stroke="#26e426" stroke-width="0.66" opacity="0.72"/><circle cx="0.5" cy="-11.0" r="0.73" fill="#26e426" opacity="0.20"/><circle cx="5.8" cy="-9.0" r="0.64" fill="#26e426" opacity="0.38"/><circle cx="7.7" cy="-8.4" r="0.55" fill="#26e426" opacity="0.42"/><circle cx="10.1" cy="-5.7" r="0.62" fill="#26e426" opacity="0.46"/><circle cx="11.3" cy="-3.2" r="0.53" fill="#26e426" opacity="0.25"/><circle cx="11.7" cy="0.6" r="0.52" fill="#26e426" opacity="0.43"/><circle cx="11.4" cy="2.8" r="0.62" fill="#26e426" opacity="0.26"/><circle cx="10.2" cy="6.8" r="0.59" fill="#26e426" opacity="0.30"/><circle cx="9.0" cy="8.5" r="0.51" fill="#26e426" opacity="0.28"/><circle cx="4.4" cy="11.2" r="0.54" fill="#26e426" opacity="0.27"/><circle cx="1.6" cy="11.7" r="0.75" fill="#26e426" opacity="0.25"/><circle cx="-0.5" cy="11.7" r="0.53" fill="#26e426" opacity="0.35"/><circle cx="-3.5" cy="10.9" r="0.54" fill="#26e426" opacity="0.25"/><circle cx="-8.1" cy="8.5" r="0.56" fill="#26e426" opacity="0.35"/><circle cx="-8.9" cy="7.6" r="0.78" fill="#26e426" opacity="0.22"/><circle cx="-10.5" cy="3.5" r="0.74" fill="#26e426" opacity="0.28"/><circle cx="-11.0" cy="1.9" r="0.76" fill="#26e426" opacity="0.46"/><circle cx="-11.0" cy="-1.7" r="0.78" fill="#26e426" opacity="0.24"/><circle cx="-9.1" cy="-5.4" r="0.58" fill="#26e426" opacity="0.48"/><circle cx="-7.9" cy="-7.2" r="0.55" fill="#26e426" opacity="0.30"/><circle cx="-6.0" cy="-9.2" r="0.74" fill="#26e426" opacity="0.44"/><circle cx="-1.3" cy="-10.0" r="0.67" fill="#26e426" opacity="0.44"/><polyline points="-1.6,-10.4 0.0,-10.6 1.7,-10.5 3.3,-10.2 4.9,-9.7 6.4,-9.0 7.7,-8.0 8.9,-6.9 10.0,-5.7 10.8,-4.3 11.4,-2.9 11.8,-1.3 11.9,0.3 11.9,1.9 11.5,3.4 11.0,4.9 10.2,6.3 9.2,7.6" fill="none" stroke="#26e426" stroke-linecap="round" stroke-linejoin="round" stroke-width="1.68" opacity="0.15"/><polyline points="-1.6,-10.4 0.0,-10.6 1.7,-10.5 3.3,-10.2 4.9,-9.7 6.4,-9.0 7.7,-8.0 8.9,-6.9 10.0,-5.7 10.8,-4.3 11.4,-2.9 11.8,-1.3 11.9,0.3 11.9,1.9 11.5,3.4 11.0,4.9 10.2,6.3 9.2,7.6" fill="none" stroke="#26e426" stroke-linecap="round" stroke-linejoin="round" stroke-width="0.72" opacity="0.50"/></g></g>
</svg>
<svg x="444.00" y="212.60" width="31.3" height="31.3" viewBox="-15.65 -15.65 31.3 31.3" overflow="hidden">
<rect x="-16" y="-16" width="32" height="32" fill="#000"/>
<g filter="url(#b1a)"><use href="#k50B" x="0" y="0" style="mix-blend-mode:screen" opacity="0.95"/><use href="#k50G" x="0.5" y="-0.4" style="mix-blend-mode:screen" opacity="0.8"/><use href="#k50R" x="-0.55" y="0.35" style="mix-blend-mode:screen" opacity="0.92"/></g>
</svg>
<svg x="345.30" y="245.50" width="31.3" height="31.3" viewBox="-15.65 -15.65 31.3 31.3" overflow="hidden">
<rect x="-16" y="-16" width="32" height="32" fill="#000"/>
<g filter="url(#b1b)"><g id="k51R"><path d="M-9 -9.5 Q-2 -13.5 6 -10.5 Q11.5 -7.5 12 -3 Q9.5 -0.5 12.5 3 Q11 9.5 3.5 12 Q-5 13.5 -10.5 8.5 Q-13.5 2.5 -12.5 -3 Q-12 -6.5 -9 -9.5Z" fill="#740404" opacity="0.14" transform="translate(0,0.8)"/><path d="M-9 -9.5 Q-2 -13.5 6 -10.5 Q11.5 -7.5 12 -3 Q9.5 -0.5 12.5 3 Q11 9.5 3.5 12 Q-5 13.5 -10.5 8.5 Q-13.5 2.5 -12.5 -3 Q-12 -6.5 -9 -9.5Z" fill="none" stroke="#740404" transform="translate(0,0.8)" stroke-width="2.38" opacity="0.26"/><path d="M-9 -9.5 Q-2 -13.5 6 -10.5 Q11.5 -7.5 12 -3 Q9.5 -0.5 12.5 3 Q11 9.5 3.5 12 Q-5 13.5 -10.5 8.5 Q-13.5 2.5 -12.5 -3 Q-12 -6.5 -9 -9.5Z" fill="none" stroke="#740404" transform="translate(0,0.8)" stroke-width="1.02" opacity="0.85"/><path d="M-9 -9.5 Q-2 -13.5 6 -10.5 Q11.5 -7.5 12 -3 Q9.5 -0.5 12.5 3 Q11 9.5 3.5 12 Q-5 13.5 -10.5 8.5 Q-13.5 2.5 -12.5 -3 Q-12 -6.5 -9 -9.5Z" fill="none" stroke="#c40c0c" stroke-dasharray="2 2.6" stroke-linecap="round" transform="translate(0,0.8)" stroke-width="1.96" opacity="0.21"/><path d="M-9 -9.5 Q-2 -13.5 6 -10.5 Q11.5 -7.5 12 -3 Q9.5 -0.5 12.5 3 Q11 9.5 3.5 12 Q-5 13.5 -10.5 8.5 Q-13.5 2.5 -12.5 -3 Q-12 -6.5 -9 -9.5Z" fill="none" stroke="#c40c0c" stroke-dasharray="2 2.6" stroke-linecap="round" transform="translate(0,0.8)" stroke-width="0.84" opacity="0.70"/></g></g>
</svg>
<svg x="378.20" y="245.50" width="31.3" height="31.3" viewBox="-15.65 -15.65 31.3 31.3" overflow="hidden">
<rect x="-16" y="-16" width="32" height="32" fill="#000"/>
<g filter="url(#b1c)"><g id="k51B"><path d="M-9 -9.5 Q-2 -13.5 6 -10.5 Q11.5 -7.5 12 -3 Q9.5 -0.5 12.5 3 Q11 9.5 3.5 12 Q-5 13.5 -10.5 8.5 Q-13.5 2.5 -12.5 -3 Q-12 -6.5 -9 -9.5Z" fill="#0e0e8c" opacity="0.16" transform="translate(0,0.8)"/><path d="M-9 -9.5 Q-2 -13.5 6 -10.5 Q11.5 -7.5 12 -3 Q9.5 -0.5 12.5 3 Q11 9.5 3.5 12 Q-5 13.5 -10.5 8.5 Q-13.5 2.5 -12.5 -3 Q-12 -6.5 -9 -9.5Z" fill="none" stroke="#1414e4" transform="translate(0,0.8)" stroke-width="2.52" opacity="0.22"/><path d="M-9 -9.5 Q-2 -13.5 6 -10.5 Q11.5 -7.5 12 -3 Q9.5 -0.5 12.5 3 Q11 9.5 3.5 12 Q-5 13.5 -10.5 8.5 Q-13.5 2.5 -12.5 -3 Q-12 -6.5 -9 -9.5Z" fill="none" stroke="#1414e4" transform="translate(0,0.8)" stroke-width="1.08" opacity="0.75"/><path d="M-9 -9.5 Q-2 -13.5 6 -10.5 Q11.5 -7.5 12 -3 Q9.5 -0.5 12.5 3 Q11 9.5 3.5 12 Q-5 13.5 -10.5 8.5 Q-13.5 2.5 -12.5 -3 Q-12 -6.5 -9 -9.5Z" fill="none" stroke="#2a2aff" stroke-dasharray="2 2.6" stroke-linecap="round" transform="translate(0,0.8)" stroke-width="2.10" opacity="0.15"/><path d="M-9 -9.5 Q-2 -13.5 6 -10.5 Q11.5 -7.5 12 -3 Q9.5 -0.5 12.5 3 Q11 9.5 3.5 12 Q-5 13.5 -10.5 8.5 Q-13.5 2.5 -12.5 -3 Q-12 -6.5 -9 -9.5Z" fill="none" stroke="#2a2aff" stroke-dasharray="2 2.6" stroke-linecap="round" transform="translate(0,0.8)" stroke-width="0.90" opacity="0.50"/><path d="M-2.14 12.91A12.30 12.30 0 0 1 -12.11 2.94" fill="none" stroke="#2a2aff" stroke-linecap="round" stroke-width="2.52" opacity="0.15"/><path d="M-2.14 12.91A12.30 12.30 0 0 1 -12.11 2.94" fill="none" stroke="#2a2aff" stroke-linecap="round" stroke-width="1.08" opacity="0.50"/></g></g>
</svg>
<svg x="411.10" y="245.50" width="31.3" height="31.3" viewBox="-15.65 -15.65 31.3 31.3" overflow="hidden">
<rect x="-16" y="-16" width="32" height="32" fill="#000"/>
<g filter="url(#b1d)"><g id="k51G"><path d="M-9 -9.5 Q-2 -13.5 6 -10.5 Q11.5 -7.5 12 -3 Q9.5 -0.5 12.5 3 Q11 9.5 3.5 12 Q-5 13.5 -10.5 8.5 Q-13.5 2.5 -12.5 -3 Q-12 -6.5 -9 -9.5Z" fill="#064e06" opacity="0.28" transform="translate(0,0.8)"/><path d="M-9 -9.5 Q-2 -13.5 6 -10.5 Q11.5 -7.5 12 -3 Q9.5 -0.5 12.5 3 Q11 9.5 3.5 12 Q-5 13.5 -10.5 8.5 Q-13.5 2.5 -12.5 -3 Q-12 -6.5 -9 -9.5Z" fill="none" stroke="#064e06" transform="translate(0,0.8)" stroke-width="2.24" opacity="0.22"/><path d="M-9 -9.5 Q-2 -13.5 6 -10.5 Q11.5 -7.5 12 -3 Q9.5 -0.5 12.5 3 Q11 9.5 3.5 12 Q-5 13.5 -10.5 8.5 Q-13.5 2.5 -12.5 -3 Q-12 -6.5 -9 -9.5Z" fill="none" stroke="#064e06" transform="translate(0,0.8)" stroke-width="0.96" opacity="0.75"/><path d="M-9 -9.5 Q-2 -13.5 6 -10.5 Q11.5 -7.5 12 -3 Q9.5 -0.5 12.5 3 Q11 9.5 3.5 12 Q-5 13.5 -10.5 8.5 Q-13.5 2.5 -12.5 -3 Q-12 -6.5 -9 -9.5Z" fill="none" stroke="#0e9e0e" stroke-dasharray="2 3" stroke-linecap="round" transform="translate(0,0.8)" stroke-width="1.54" opacity="0.12"/><path d="M-9 -9.5 Q-2 -13.5 6 -10.5 Q11.5 -7.5 12 -3 Q9.5 -0.5 12.5 3 Q11 9.5 3.5 12 Q-5 13.5 -10.5 8.5 Q-13.5 2.5 -12.5 -3 Q-12 -6.5 -9 -9.5Z" fill="none" stroke="#0e9e0e" stroke-dasharray="2 3" stroke-linecap="round" transform="translate(0,0.8)" stroke-width="0.66" opacity="0.40"/></g></g>
</svg>
<svg x="444.00" y="245.50" width="31.3" height="31.3" viewBox="-15.65 -15.65 31.3 31.3" overflow="hidden">
<rect x="-16" y="-16" width="32" height="32" fill="#000"/>
<g filter="url(#b1a)"><rect x="-16" y="13.4" width="32" height="2.6" fill="#55585a"/><path d="M-9 -9.5 Q-2 -13.5 6 -10.5 Q11.5 -7.5 12 -3 Q9.5 -0.5 12.5 3 Q11 9.5 3.5 12 Q-5 13.5 -10.5 8.5 Q-13.5 2.5 -12.5 -3 Q-12 -6.5 -9 -9.5Z" fill="#08080a" opacity="1" transform="translate(0,0.8)"/><use href="#k51B" x="0" y="0" style="mix-blend-mode:screen" opacity="0.95"/><use href="#k51G" x="0.5" y="-0.4" style="mix-blend-mode:screen" opacity="0.8"/><use href="#k51R" x="-0.55" y="0.35" style="mix-blend-mode:screen" opacity="0.92"/></g>
</svg>
<svg x="345.30" y="278.40" width="31.3" height="31.3" viewBox="-15.65 -15.65 31.3 31.3" overflow="hidden">
<rect x="-16" y="-16" width="32" height="32" fill="#000"/>
<g filter="url(#b1b)"><g id="k52R"><ellipse cx="0.4" cy="0.0" rx="11.9" ry="12.4" fill="#740404" opacity="0.06"/><ellipse cx="0.4" cy="0.0" rx="11.9" ry="12.4" fill="none" stroke="#c40c0c" stroke-width="1.78" opacity="0.13"/><ellipse cx="0.4" cy="0.0" rx="11.9" ry="12.4" fill="none" stroke="#c40c0c" stroke-width="0.76" opacity="0.44"/><circle cx="1.1" cy="-12.0" r="0.80" fill="#ff1a1a" opacity="0.41"/><circle cx="5.9" cy="-11.5" r="0.66" fill="#ff1a1a" opacity="0.41"/><circle cx="8.0" cy="-9.7" r="0.85" fill="#ff1a1a" opacity="0.49"/><circle cx="10.3" cy="-7.5" r="0.65" fill="#ff1a1a" opacity="0.25"/><circle cx="11.3" cy="-3.9" r="0.79" fill="#ff1a1a" opacity="0.24"/><circle cx="12.6" cy="-2.0" r="0.92" fill="#ff1a1a" opacity="0.24"/><circle cx="12.6" cy="1.9" r="0.71" fill="#ff1a1a" opacity="0.45"/><circle cx="11.9" cy="3.9" r="0.66" fill="#ff1a1a" opacity="0.28"/><circle cx="10.8" cy="6.8" r="0.86" fill="#ff1a1a" opacity="0.38"/><circle cx="7.2" cy="10.5" r="0.93" fill="#ff1a1a" opacity="0.47"/><circle cx="5.0" cy="11.3" r="0.75" fill="#ff1a1a" opacity="0.26"/><circle cx="1.6" cy="12.3" r="0.89" fill="#ff1a1a" opacity="0.52"/><circle cx="0.0" cy="12.8" r="0.85" fill="#ff1a1a" opacity="0.54"/><circle cx="-4.8" cy="10.8" r="0.72" fill="#ff1a1a" opacity="0.55"/><circle cx="-5.8" cy="10.7" r="0.68" fill="#ff1a1a" opacity="0.41"/><circle cx="-9.7" cy="7.3" r="0.81" fill="#ff1a1a" opacity="0.25"/><circle cx="-10.3" cy="5.0" r="0.79" fill="#ff1a1a" opacity="0.42"/><circle cx="-11.2" cy="2.5" r="0.68" fill="#ff1a1a" opacity="0.51"/><circle cx="-11.1" cy="-1.2" r="0.76" fill="#ff1a1a" opacity="0.34"/><circle cx="-10.7" cy="-4.6" r="0.95" fill="#ff1a1a" opacity="0.37"/><circle cx="-9.6" cy="-7.1" r="0.74" fill="#ff1a1a" opacity="0.25"/><circle cx="-6.4" cy="-10.3" r="0.69" fill="#ff1a1a" opacity="0.50"/><circle cx="-5.4" cy="-11.0" r="0.69" fill="#ff1a1a" opacity="0.46"/><circle cx="-1.9" cy="-12.2" r="0.99" fill="#ff1a1a" opacity="0.26"/><polyline points="-7.2,9.5 -8.5,8.3 -9.5,6.9 -10.3,5.4 -10.9,3.8 -11.3,2.1 -11.5,0.3 -11.4,-1.4 -11.1,-3.2 -10.6,-4.8 -9.8,-6.4 -8.8,-7.8 -7.7,-9.1 -6.4,-10.2 -4.9,-11.1 -3.4,-11.8 -1.8,-12.2 -0.1,-12.4 1.6,-12.3 3.2,-12.0 4.8,-11.5 6.4,-10.7" fill="none" stroke="#ff1a1a" stroke-linecap="round" stroke-linejoin="round" stroke-width="2.10" opacity="0.14"/><polyline points="-7.2,9.5 -8.5,8.3 -9.5,6.9 -10.3,5.4 -10.9,3.8 -11.3,2.1 -11.5,0.3 -11.4,-1.4 -11.1,-3.2 -10.6,-4.8 -9.8,-6.4 -8.8,-7.8 -7.7,-9.1 -6.4,-10.2 -4.9,-11.1 -3.4,-11.8 -1.8,-12.2 -0.1,-12.4 1.6,-12.3 3.2,-12.0 4.8,-11.5 6.4,-10.7" fill="none" stroke="#ff1a1a" stroke-linecap="round" stroke-linejoin="round" stroke-width="0.90" opacity="0.45"/></g></g>
</svg>
<svg x="378.20" y="278.40" width="31.3" height="31.3" viewBox="-15.65 -15.65 31.3 31.3" overflow="hidden">
<rect x="-16" y="-16" width="32" height="32" fill="#000"/>
<g filter="url(#b1c)"><g id="k52B"><ellipse cx="0.4" cy="0.0" rx="11.9" ry="12.4" fill="#0e0e8c" opacity="0.12"/><ellipse cx="0.4" cy="0.0" rx="11.9" ry="12.4" fill="none" stroke="#0e0e8c" stroke-width="1.78" opacity="0.18"/><ellipse cx="0.4" cy="0.0" rx="11.9" ry="12.4" fill="none" stroke="#0e0e8c" stroke-width="0.76" opacity="0.60"/><circle cx="2.4" cy="-12.5" r="0.80" fill="#2a2aff" opacity="0.60"/><circle cx="4.0" cy="-12.3" r="0.89" fill="#2a2aff" opacity="0.56"/><circle cx="7.2" cy="-10.5" r="0.87" fill="#2a2aff" opacity="0.54"/><circle cx="8.8" cy="-9.2" r="0.82" fill="#2a2aff" opacity="0.31"/><circle cx="10.9" cy="-6.1" r="0.65" fill="#2a2aff" opacity="0.29"/><circle cx="12.1" cy="-3.4" r="0.85" fill="#2a2aff" opacity="0.34"/><circle cx="12.6" cy="0.4" r="0.67" fill="#2a2aff" opacity="0.33"/><circle cx="12.0" cy="3.8" r="0.74" fill="#2a2aff" opacity="0.58"/><circle cx="11.5" cy="5.0" r="0.62" fill="#2a2aff" opacity="0.62"/><circle cx="10.0" cy="7.7" r="0.80" fill="#2a2aff" opacity="0.43"/><circle cx="6.7" cy="10.6" r="0.84" fill="#2a2aff" opacity="0.38"/><circle cx="5.8" cy="10.8" r="0.62" fill="#2a2aff" opacity="0.38"/><circle cx="1.4" cy="12.0" r="0.67" fill="#2a2aff" opacity="0.56"/><circle cx="0.1" cy="12.8" r="0.93" fill="#2a2aff" opacity="0.29"/><circle cx="-4.2" cy="11.6" r="0.91" fill="#2a2aff" opacity="0.57"/><circle cx="-6.5" cy="10.0" r="0.61" fill="#2a2aff" opacity="0.30"/><circle cx="-8.3" cy="8.6" r="0.71" fill="#2a2aff" opacity="0.53"/><circle cx="-10.2" cy="6.0" r="0.76" fill="#2a2aff" opacity="0.54"/><circle cx="-11.7" cy="2.3" r="0.73" fill="#2a2aff" opacity="0.54"/><circle cx="-11.6" cy="-0.4" r="0.79" fill="#2a2aff" opacity="0.54"/><circle cx="-11.5" cy="-1.8" r="0.85" fill="#2a2aff" opacity="0.54"/><circle cx="-9.4" cy="-6.3" r="0.63" fill="#2a2aff" opacity="0.38"/><circle cx="-8.4" cy="-8.9" r="0.61" fill="#2a2aff" opacity="0.26"/><circle cx="-5.7" cy="-10.8" r="0.80" fill="#2a2aff" opacity="0.29"/><circle cx="-4.5" cy="-11.2" r="0.72" fill="#2a2aff" opacity="0.55"/><circle cx="-2.1" cy="-12.0" r="0.64" fill="#2a2aff" opacity="0.27"/><polyline points="0.4,-12.4 2.1,-12.3 3.7,-11.9 5.3,-11.3 6.8,-10.4 8.2,-9.4 9.4,-8.1 10.4,-6.7 11.2,-5.2 11.8,-3.5 12.2,-1.8 12.3,-0.1 12.2,1.7 11.8,3.4 11.3,5.1 10.4,6.6 9.4,8.1 8.3,9.3 6.9,10.4 5.4,11.2 3.8,11.9 2.2,12.3 0.5,12.4 -1.2,12.3 -2.8,11.9 -4.4,11.3 -5.9,10.5 -7.3,9.5 -8.5,8.2 -9.5,6.8 -10.4,5.3 -11.0,3.6 -11.4,1.9 -11.5,0.2 -11.4,-1.6 -11.1,-3.3 -10.5,-5.0 -9.7,-6.6 -8.7,-8.0 -7.5,-9.2 -6.2,-10.3 -4.7,-11.2 -3.1,-11.8 -1.5,-12.2 0.2,-12.4" fill="none" stroke="#1414e4" stroke-linecap="round" stroke-linejoin="round" stroke-width="1.54" opacity="0.07"/><polyline points="0.4,-12.4 2.1,-12.3 3.7,-11.9 5.3,-11.3 6.8,-10.4 8.2,-9.4 9.4,-8.1 10.4,-6.7 11.2,-5.2 11.8,-3.5 12.2,-1.8 12.3,-0.1 12.2,1.7 11.8,3.4 11.3,5.1 10.4,6.6 9.4,8.1 8.3,9.3 6.9,10.4 5.4,11.2 3.8,11.9 2.2,12.3 0.5,12.4 -1.2,12.3 -2.8,11.9 -4.4,11.3 -5.9,10.5 -7.3,9.5 -8.5,8.2 -9.5,6.8 -10.4,5.3 -11.0,3.6 -11.4,1.9 -11.5,0.2 -11.4,-1.6 -11.1,-3.3 -10.5,-5.0 -9.7,-6.6 -8.7,-8.0 -7.5,-9.2 -6.2,-10.3 -4.7,-11.2 -3.1,-11.8 -1.5,-12.2 0.2,-12.4" fill="none" stroke="#1414e4" stroke-linecap="round" stroke-linejoin="round" stroke-width="0.66" opacity="0.25"/></g></g>
</svg>
<svg x="411.10" y="278.40" width="31.3" height="31.3" viewBox="-15.65 -15.65 31.3 31.3" overflow="hidden">
<rect x="-16" y="-16" width="32" height="32" fill="#000"/>
<g filter="url(#b1d)"><g id="k52G"><ellipse cx="0.4" cy="0.0" rx="11.662" ry="12.152" fill="none" stroke="#26e426" stroke-width="1.78" opacity="0.22"/><ellipse cx="0.4" cy="0.0" rx="11.662" ry="12.152" fill="none" stroke="#26e426" stroke-width="0.76" opacity="0.72"/><circle cx="2.2" cy="-12.2" r="0.85" fill="#26e426" opacity="0.46"/><circle cx="4.7" cy="-11.4" r="0.60" fill="#26e426" opacity="0.24"/><circle cx="7.0" cy="-10.3" r="0.76" fill="#26e426" opacity="0.49"/><circle cx="8.5" cy="-8.4" r="0.66" fill="#26e426" opacity="0.54"/><circle cx="10.8" cy="-5.1" r="0.84" fill="#26e426" opacity="0.56"/><circle cx="11.8" cy="-2.7" r="0.70" fill="#26e426" opacity="0.50"/><circle cx="12.4" cy="2.0" r="0.57" fill="#26e426" opacity="0.53"/><circle cx="11.1" cy="3.7" r="0.64" fill="#26e426" opacity="0.41"/><circle cx="10.2" cy="6.4" r="0.78" fill="#26e426" opacity="0.44"/><circle cx="8.7" cy="9.1" r="0.72" fill="#26e426" opacity="0.51"/><circle cx="6.0" cy="11.1" r="0.62" fill="#26e426" opacity="0.49"/><circle cx="2.5" cy="11.5" r="0.61" fill="#26e426" opacity="0.47"/><circle cx="0.1" cy="12.2" r="0.71" fill="#26e426" opacity="0.36"/><circle cx="-3.4" cy="11.4" r="0.59" fill="#26e426" opacity="0.43"/><circle cx="-6.8" cy="9.9" r="0.81" fill="#26e426" opacity="0.48"/><circle cx="-7.8" cy="8.3" r="0.68" fill="#26e426" opacity="0.23"/><circle cx="-10.1" cy="4.4" r="0.77" fill="#26e426" opacity="0.46"/><circle cx="-11.2" cy="2.3" r="0.88" fill="#26e426" opacity="0.53"/><circle cx="-10.9" cy="-1.1" r="0.59" fill="#26e426" opacity="0.50"/><circle cx="-10.1" cy="-4.0" r="0.83" fill="#26e426" opacity="0.30"/><circle cx="-8.6" cy="-8.3" r="0.64" fill="#26e426" opacity="0.25"/><circle cx="-6.8" cy="-9.6" r="0.64" fill="#26e426" opacity="0.47"/><circle cx="-4.2" cy="-10.9" r="0.77" fill="#26e426" opacity="0.55"/><circle cx="-0.3" cy="-12.4" r="0.66" fill="#26e426" opacity="0.49"/><polyline points="4.4,-11.4 5.9,-10.7 7.4,-9.7 8.6,-8.6 9.8,-7.3 10.7,-5.8 11.4,-4.2 11.8,-2.5 12.0,-0.7 12.0,1.1 11.7,2.8 11.2,4.5 10.5,6.1 9.5,7.5 8.4,8.8 7.1,10.0 5.6,10.9 4.1,11.5 2.4,12.0" fill="none" stroke="#26e426" stroke-linecap="round" stroke-linejoin="round" stroke-width="2.38" opacity="0.18"/><polyline points="4.4,-11.4 5.9,-10.7 7.4,-9.7 8.6,-8.6 9.8,-7.3 10.7,-5.8 11.4,-4.2 11.8,-2.5 12.0,-0.7 12.0,1.1 11.7,2.8 11.2,4.5 10.5,6.1 9.5,7.5 8.4,8.8 7.1,10.0 5.6,10.9 4.1,11.5 2.4,12.0" fill="none" stroke="#26e426" stroke-linecap="round" stroke-linejoin="round" stroke-width="1.02" opacity="0.60"/></g></g>
</svg>
<svg x="444.00" y="278.40" width="31.3" height="31.3" viewBox="-15.65 -15.65 31.3 31.3" overflow="hidden">
<rect x="-16" y="-16" width="32" height="32" fill="#000"/>
<g filter="url(#b1a)"><use href="#k52B" x="0" y="0" style="mix-blend-mode:screen" opacity="0.95"/><use href="#k52G" x="0.5" y="-0.4" style="mix-blend-mode:screen" opacity="0.8"/><use href="#k52R" x="-0.55" y="0.35" style="mix-blend-mode:screen" opacity="0.92"/></g>
</svg>
<svg x="345.30" y="311.30" width="31.3" height="31.3" viewBox="-15.65 -15.65 31.3 31.3" overflow="hidden">
<rect x="-16" y="-16" width="32" height="32" fill="#000"/>
<g filter="url(#b1b)"><g id="k53R"><ellipse cx="0.3" cy="0.4" rx="12.6" ry="12.9" fill="#740404" opacity="0.2"/><ellipse cx="0.3" cy="0.4" rx="12.6" ry="12.9" fill="none" stroke="#c40c0c" stroke-width="2.02" opacity="0.16"/><ellipse cx="0.3" cy="0.4" rx="12.6" ry="12.9" fill="none" stroke="#c40c0c" stroke-width="0.87" opacity="0.52"/><circle cx="2.2" cy="-12.2" r="1.08" fill="#ff1a1a" opacity="0.45"/><circle cx="4.5" cy="-11.9" r="0.96" fill="#ff1a1a" opacity="0.39"/><circle cx="7.1" cy="-10.5" r="0.79" fill="#ff1a1a" opacity="0.52"/><circle cx="9.8" cy="-8.5" r="0.84" fill="#ff1a1a" opacity="0.54"/><circle cx="10.6" cy="-6.3" r="0.93" fill="#ff1a1a" opacity="0.43"/><circle cx="12.5" cy="-3.7" r="0.82" fill="#ff1a1a" opacity="0.63"/><circle cx="12.6" cy="-0.6" r="1.10" fill="#ff1a1a" opacity="0.51"/><circle cx="12.5" cy="1.7" r="0.91" fill="#ff1a1a" opacity="0.40"/><circle cx="12.1" cy="4.9" r="0.94" fill="#ff1a1a" opacity="0.54"/><circle cx="10.7" cy="6.8" r="0.86" fill="#ff1a1a" opacity="0.92"/><circle cx="10.0" cy="8.7" r="0.93" fill="#ff1a1a" opacity="0.38"/><circle cx="6.6" cy="11.4" r="0.87" fill="#ff1a1a" opacity="0.67"/><circle cx="5.5" cy="11.7" r="0.87" fill="#ff1a1a" opacity="0.92"/><circle cx="1.8" cy="13.5" r="0.80" fill="#ff1a1a" opacity="0.74"/><circle cx="0.1" cy="13.0" r="0.84" fill="#ff1a1a" opacity="0.91"/><circle cx="-3.4" cy="13.0" r="0.81" fill="#ff1a1a" opacity="0.54"/><circle cx="-5.4" cy="12.2" r="1.15" fill="#ff1a1a" opacity="0.49"/><circle cx="-8.1" cy="10.1" r="0.87" fill="#ff1a1a" opacity="0.82"/><circle cx="-9.7" cy="8.4" r="0.74" fill="#ff1a1a" opacity="0.38"/><circle cx="-12.0" cy="4.6" r="1.14" fill="#ff1a1a" opacity="0.62"/><circle cx="-12.1" cy="2.5" r="0.95" fill="#ff1a1a" opacity="0.62"/><circle cx="-12.5" cy="0.1" r="0.80" fill="#ff1a1a" opacity="0.92"/><circle cx="-11.7" cy="-3.5" r="0.94" fill="#ff1a1a" opacity="0.65"/><circle cx="-10.9" cy="-5.8" r="1.01" fill="#ff1a1a" opacity="0.45"/><circle cx="-8.6" cy="-8.1" r="0.76" fill="#ff1a1a" opacity="0.58"/><circle cx="-6.8" cy="-10.3" r="0.91" fill="#ff1a1a" opacity="0.79"/><circle cx="-5.0" cy="-11.5" r="0.96" fill="#ff1a1a" opacity="0.76"/><circle cx="-0.5" cy="-12.2" r="1.05" fill="#ff1a1a" opacity="0.67"/><polyline points="6.6,11.6 5.0,12.4 3.2,12.9 1.4,13.2 -0.4,13.3 -2.2,13.0 -3.9,12.6 -5.6,11.8 -7.1,10.8 -8.5,9.6 -9.7,8.2 -10.7,6.7 -11.5,5.0 -12.0,3.2 -12.3,1.4 -12.3,-0.5 -12.0,-2.3 -11.5,-4.1 -10.8,-5.8 -9.8,-7.4 -8.6,-8.8 -7.2,-10.0 -5.7,-11.0 -4.0,-11.7" fill="none" stroke="#ff1a1a" stroke-linecap="round" stroke-linejoin="round" stroke-width="2.52" opacity="0.21"/><polyline points="6.6,11.6 5.0,12.4 3.2,12.9 1.4,13.2 -0.4,13.3 -2.2,13.0 -3.9,12.6 -5.6,11.8 -7.1,10.8 -8.5,9.6 -9.7,8.2 -10.7,6.7 -11.5,5.0 -12.0,3.2 -12.3,1.4 -12.3,-0.5 -12.0,-2.3 -11.5,-4.1 -10.8,-5.8 -9.8,-7.4 -8.6,-8.8 -7.2,-10.0 -5.7,-11.0 -4.0,-11.7" fill="none" stroke="#ff1a1a" stroke-linecap="round" stroke-linejoin="round" stroke-width="1.08" opacity="0.70"/><polyline points="3.6,12.9 1.7,13.2 -0.2,13.3 -2.2,13.1 -4.0,12.5" fill="none" stroke="#ff1a1a" stroke-linecap="round" stroke-linejoin="round" stroke-width="3.50" opacity="0.30"/><polyline points="3.6,12.9 1.7,13.2 -0.2,13.3 -2.2,13.1 -4.0,12.5" fill="none" stroke="#ff1a1a" stroke-linecap="round" stroke-linejoin="round" stroke-width="1.50" opacity="1.00"/></g></g>
</svg>
<svg x="378.20" y="311.30" width="31.3" height="31.3" viewBox="-15.65 -15.65 31.3 31.3" overflow="hidden">
<rect x="-16" y="-16" width="32" height="32" fill="#000"/>
<g filter="url(#b1c)"><g id="k53B"><ellipse cx="0.3" cy="0.4" rx="11.969999999999999" ry="12.254999999999999" fill="#0e0e8c" opacity="0.12"/><ellipse cx="0.3" cy="0.4" rx="11.969999999999999" ry="12.254999999999999" fill="none" stroke="#0e0e8c" stroke-width="1.67" opacity="0.16"/><ellipse cx="0.3" cy="0.4" rx="11.969999999999999" ry="12.254999999999999" fill="none" stroke="#0e0e8c" stroke-width="0.71" opacity="0.52"/><circle cx="0.9" cy="-11.9" r="0.71" fill="#2a2aff" opacity="0.25"/><circle cx="4.2" cy="-10.7" r="0.66" fill="#2a2aff" opacity="0.37"/><circle cx="7.4" cy="-9.1" r="0.83" fill="#2a2aff" opacity="0.23"/><circle cx="10.2" cy="-6.6" r="0.77" fill="#2a2aff" opacity="0.25"/><circle cx="12.1" cy="-3.6" r="0.72" fill="#2a2aff" opacity="0.34"/><circle cx="12.4" cy="-0.5" r="0.86" fill="#2a2aff" opacity="0.31"/><circle cx="11.9" cy="1.8" r="0.67" fill="#2a2aff" opacity="0.38"/><circle cx="11.4" cy="5.1" r="0.80" fill="#2a2aff" opacity="0.29"/><circle cx="9.3" cy="8.5" r="0.70" fill="#2a2aff" opacity="0.18"/><circle cx="7.4" cy="10.1" r="0.68" fill="#2a2aff" opacity="0.32"/><circle cx="5.4" cy="11.7" r="0.88" fill="#2a2aff" opacity="0.27"/><circle cx="3.1" cy="12.2" r="0.61" fill="#2a2aff" opacity="0.24"/><circle cx="-1.8" cy="12.8" r="0.79" fill="#2a2aff" opacity="0.23"/><circle cx="-2.8" cy="12.0" r="0.77" fill="#2a2aff" opacity="0.34"/><circle cx="-7.5" cy="9.4" r="0.89" fill="#2a2aff" opacity="0.25"/><circle cx="-8.6" cy="8.1" r="0.86" fill="#2a2aff" opacity="0.20"/><circle cx="-10.9" cy="4.5" r="0.74" fill="#2a2aff" opacity="0.38"/><circle cx="-11.4" cy="1.9" r="0.86" fill="#2a2aff" opacity="0.29"/><circle cx="-12.0" cy="0.1" r="0.78" fill="#2a2aff" opacity="0.28"/><circle cx="-10.3" cy="-4.9" r="0.74" fill="#2a2aff" opacity="0.33"/><circle cx="-8.9" cy="-7.2" r="0.70" fill="#2a2aff" opacity="0.43"/><circle cx="-7.9" cy="-8.0" r="0.61" fill="#2a2aff" opacity="0.33"/><circle cx="-5.5" cy="-10.5" r="0.69" fill="#2a2aff" opacity="0.27"/><circle cx="-2.3" cy="-11.4" r="0.72" fill="#2a2aff" opacity="0.28"/></g></g>
</svg>
<svg x="411.10" y="311.30" width="31.3" height="31.3" viewBox="-15.65 -15.65 31.3 31.3" overflow="hidden">
<rect x="-16" y="-16" width="32" height="32" fill="#010501"/>
<g filter="url(#b1d)"><g id="k53G"><ellipse cx="0.3" cy="0.4" rx="12.222" ry="12.513" fill="#064e06" opacity="0.32"/><ellipse cx="0.3" cy="0.4" rx="12.222" ry="12.513" fill="none" stroke="#064e06" stroke-width="2.38" opacity="0.22"/><ellipse cx="0.3" cy="0.4" rx="12.222" ry="12.513" fill="none" stroke="#064e06" stroke-width="1.02" opacity="0.72"/><circle cx="2.0" cy="-11.9" r="0.61" fill="#26e426" opacity="0.30"/><circle cx="5.5" cy="-10.7" r="0.86" fill="#26e426" opacity="0.13"/><circle cx="8.5" cy="-9.3" r="0.64" fill="#26e426" opacity="0.30"/><circle cx="10.1" cy="-6.7" r="0.81" fill="#26e426" opacity="0.22"/><circle cx="12.9" cy="-0.7" r="0.86" fill="#26e426" opacity="0.23"/><circle cx="12.8" cy="2.0" r="0.93" fill="#26e426" opacity="0.28"/><circle cx="12.0" cy="4.5" r="0.61" fill="#26e426" opacity="0.31"/><circle cx="8.0" cy="9.9" r="0.72" fill="#26e426" opacity="0.14"/><circle cx="6.8" cy="10.4" r="0.86" fill="#26e426" opacity="0.24"/><circle cx="2.6" cy="12.6" r="0.79" fill="#26e426" opacity="0.30"/><circle cx="-0.8" cy="12.9" r="0.62" fill="#26e426" opacity="0.30"/><circle cx="-3.7" cy="12.7" r="0.67" fill="#26e426" opacity="0.17"/><circle cx="-9.4" cy="8.8" r="0.78" fill="#26e426" opacity="0.21"/><circle cx="-9.9" cy="7.6" r="0.94" fill="#26e426" opacity="0.20"/><circle cx="-11.6" cy="2.7" r="0.73" fill="#26e426" opacity="0.20"/><circle cx="-11.7" cy="-0.5" r="0.89" fill="#26e426" opacity="0.16"/><circle cx="-10.5" cy="-5.5" r="0.85" fill="#26e426" opacity="0.13"/><circle cx="-8.4" cy="-8.6" r="0.88" fill="#26e426" opacity="0.30"/><circle cx="-7.0" cy="-10.0" r="0.64" fill="#26e426" opacity="0.13"/><circle cx="-1.5" cy="-12.0" r="0.93" fill="#26e426" opacity="0.19"/><polyline points="0.3,-12.1 2.0,-12.0 3.7,-11.6 5.4,-11.0 6.9,-10.1 8.3,-9.1 9.5,-7.8 10.6,-6.4 11.4,-4.8 12.0,-3.2 12.4,-1.4 12.5,0.3 12.4,2.1 12.0,3.9 11.4,5.5 10.6,7.1 9.6,8.5 8.4,9.8 7.0,10.9 5.5,11.7 3.8,12.4 2.1,12.8 0.4,12.9 -1.3,12.8 -3.0,12.4 -4.7,11.8 -6.2,11.0 -7.6,9.9 -8.8,8.7 -9.9,7.3 -10.8,5.7 -11.4,4.1 -11.8,2.3 -11.9,0.6 -11.8,-1.2 -11.5,-3.0 -10.9,-4.6 -10.1,-6.2 -9.1,-7.7 -7.8,-8.9 -6.5,-10.0 -5.0,-10.9 -3.3,-11.5 -1.6,-12.0 0.1,-12.1" fill="none" stroke="#0e9e0e" stroke-linecap="round" stroke-linejoin="round" stroke-width="1.96" opacity="0.12"/><polyline points="0.3,-12.1 2.0,-12.0 3.7,-11.6 5.4,-11.0 6.9,-10.1 8.3,-9.1 9.5,-7.8 10.6,-6.4 11.4,-4.8 12.0,-3.2 12.4,-1.4 12.5,0.3 12.4,2.1 12.0,3.9 11.4,5.5 10.6,7.1 9.6,8.5 8.4,9.8 7.0,10.9 5.5,11.7 3.8,12.4 2.1,12.8 0.4,12.9 -1.3,12.8 -3.0,12.4 -4.7,11.8 -6.2,11.0 -7.6,9.9 -8.8,8.7 -9.9,7.3 -10.8,5.7 -11.4,4.1 -11.8,2.3 -11.9,0.6 -11.8,-1.2 -11.5,-3.0 -10.9,-4.6 -10.1,-6.2 -9.1,-7.7 -7.8,-8.9 -6.5,-10.0 -5.0,-10.9 -3.3,-11.5 -1.6,-12.0 0.1,-12.1" fill="none" stroke="#0e9e0e" stroke-linecap="round" stroke-linejoin="round" stroke-width="0.84" opacity="0.40"/></g></g>
</svg>
<svg x="444.00" y="311.30" width="31.3" height="31.3" viewBox="-15.65 -15.65 31.3 31.3" overflow="hidden">
<rect x="-16" y="-16" width="32" height="32" fill="#000"/>
<g filter="url(#b1a)"><use href="#k53B" x="0" y="0" style="mix-blend-mode:screen" opacity="0.95"/><g style="mix-blend-mode:screen" opacity="0.8" transform="translate(0.5,-0.4)"><ellipse cx="0.3" cy="0.4" rx="12.222" ry="12.513" fill="#064e06" opacity="0.35"/><ellipse cx="0.3" cy="0.4" rx="12.222" ry="12.513" fill="none" stroke="#0e9e0e" stroke-width="2.14" opacity="0.19"/><ellipse cx="0.3" cy="0.4" rx="12.222" ry="12.513" fill="none" stroke="#0e9e0e" stroke-width="0.92" opacity="0.64"/><circle cx="2.0" cy="-11.9" r="0.61" fill="#26e426" opacity="0.30"/><circle cx="5.5" cy="-10.7" r="0.86" fill="#26e426" opacity="0.13"/><circle cx="8.5" cy="-9.3" r="0.64" fill="#26e426" opacity="0.30"/><circle cx="10.1" cy="-6.7" r="0.81" fill="#26e426" opacity="0.22"/><circle cx="12.9" cy="-0.7" r="0.86" fill="#26e426" opacity="0.23"/><circle cx="12.8" cy="2.0" r="0.93" fill="#26e426" opacity="0.28"/><circle cx="12.0" cy="4.5" r="0.61" fill="#26e426" opacity="0.31"/><circle cx="8.0" cy="9.9" r="0.72" fill="#26e426" opacity="0.14"/><circle cx="6.8" cy="10.4" r="0.86" fill="#26e426" opacity="0.24"/><circle cx="2.6" cy="12.6" r="0.79" fill="#26e426" opacity="0.30"/><circle cx="-0.8" cy="12.9" r="0.62" fill="#26e426" opacity="0.30"/><circle cx="-3.7" cy="12.7" r="0.67" fill="#26e426" opacity="0.17"/><circle cx="-9.4" cy="8.8" r="0.78" fill="#26e426" opacity="0.21"/><circle cx="-9.9" cy="7.6" r="0.94" fill="#26e426" opacity="0.20"/><circle cx="-11.6" cy="2.7" r="0.73" fill="#26e426" opacity="0.20"/><circle cx="-11.7" cy="-0.5" r="0.89" fill="#26e426" opacity="0.16"/><circle cx="-10.5" cy="-5.5" r="0.85" fill="#26e426" opacity="0.13"/><circle cx="-8.4" cy="-8.6" r="0.88" fill="#26e426" opacity="0.30"/><circle cx="-7.0" cy="-10.0" r="0.64" fill="#26e426" opacity="0.13"/><circle cx="-1.5" cy="-12.0" r="0.93" fill="#26e426" opacity="0.19"/></g><g style="mix-blend-mode:screen" opacity="0.92" transform="translate(-0.55,0.35)"><ellipse cx="0.3" cy="0.4" rx="12.6" ry="12.9" fill="#740404" opacity="0.25"/><ellipse cx="0.3" cy="0.4" rx="12.6" ry="12.9" fill="none" stroke="#c40c0c" stroke-width="2.26" opacity="0.22"/><ellipse cx="0.3" cy="0.4" rx="12.6" ry="12.9" fill="none" stroke="#c40c0c" stroke-width="0.97" opacity="0.72"/><circle cx="2.2" cy="-12.2" r="1.08" fill="#ff1a1a" opacity="0.48"/><circle cx="4.5" cy="-11.9" r="0.96" fill="#ff1a1a" opacity="0.42"/><circle cx="7.1" cy="-10.5" r="0.79" fill="#ff1a1a" opacity="0.55"/><circle cx="9.8" cy="-8.5" r="0.84" fill="#ff1a1a" opacity="0.57"/><circle cx="10.6" cy="-6.3" r="0.93" fill="#ff1a1a" opacity="0.46"/><circle cx="12.5" cy="-3.7" r="0.82" fill="#ff1a1a" opacity="0.68"/><circle cx="12.6" cy="-0.6" r="1.10" fill="#ff1a1a" opacity="0.54"/><circle cx="12.5" cy="1.7" r="0.91" fill="#ff1a1a" opacity="0.42"/><circle cx="12.1" cy="4.9" r="0.94" fill="#ff1a1a" opacity="0.58"/><circle cx="10.7" cy="6.8" r="0.86" fill="#ff1a1a" opacity="0.98"/><circle cx="10.0" cy="8.7" r="0.93" fill="#ff1a1a" opacity="0.41"/><circle cx="6.6" cy="11.4" r="0.87" fill="#ff1a1a" opacity="0.71"/><circle cx="5.5" cy="11.7" r="0.87" fill="#ff1a1a" opacity="0.98"/><circle cx="1.8" cy="13.5" r="0.80" fill="#ff1a1a" opacity="0.79"/><circle cx="0.1" cy="13.0" r="0.84" fill="#ff1a1a" opacity="0.97"/><circle cx="-3.4" cy="13.0" r="0.81" fill="#ff1a1a" opacity="0.58"/><circle cx="-5.4" cy="12.2" r="1.15" fill="#ff1a1a" opacity="0.52"/><circle cx="-8.1" cy="10.1" r="0.87" fill="#ff1a1a" opacity="0.88"/><circle cx="-9.7" cy="8.4" r="0.74" fill="#ff1a1a" opacity="0.40"/><circle cx="-12.0" cy="4.6" r="1.14" fill="#ff1a1a" opacity="0.67"/><circle cx="-12.1" cy="2.5" r="0.95" fill="#ff1a1a" opacity="0.66"/><circle cx="-12.5" cy="0.1" r="0.80" fill="#ff1a1a" opacity="0.98"/><circle cx="-11.7" cy="-3.5" r="0.94" fill="#ff1a1a" opacity="0.69"/><circle cx="-10.9" cy="-5.8" r="1.01" fill="#ff1a1a" opacity="0.48"/><circle cx="-8.6" cy="-8.1" r="0.76" fill="#ff1a1a" opacity="0.62"/><circle cx="-6.8" cy="-10.3" r="0.91" fill="#ff1a1a" opacity="0.84"/><circle cx="-5.0" cy="-11.5" r="0.96" fill="#ff1a1a" opacity="0.82"/><circle cx="-0.5" cy="-12.2" r="1.05" fill="#ff1a1a" opacity="0.72"/><polyline points="6.6,11.6 5.0,12.4 3.2,12.9 1.4,13.2 -0.4,13.3 -2.2,13.0 -3.9,12.6 -5.6,11.8 -7.1,10.8 -8.5,9.6 -9.7,8.2 -10.7,6.7 -11.5,5.0 -12.0,3.2 -12.3,1.4 -12.3,-0.5 -12.0,-2.3 -11.5,-4.1 -10.8,-5.8 -9.8,-7.4 -8.6,-8.8 -7.2,-10.0 -5.7,-11.0 -4.0,-11.7" fill="none" stroke="#ff1a1a" stroke-linecap="round" stroke-linejoin="round" stroke-width="2.80" opacity="0.27"/><polyline points="6.6,11.6 5.0,12.4 3.2,12.9 1.4,13.2 -0.4,13.3 -2.2,13.0 -3.9,12.6 -5.6,11.8 -7.1,10.8 -8.5,9.6 -9.7,8.2 -10.7,6.7 -11.5,5.0 -12.0,3.2 -12.3,1.4 -12.3,-0.5 -12.0,-2.3 -11.5,-4.1 -10.8,-5.8 -9.8,-7.4 -8.6,-8.8 -7.2,-10.0 -5.7,-11.0 -4.0,-11.7" fill="none" stroke="#ff1a1a" stroke-linecap="round" stroke-linejoin="round" stroke-width="1.20" opacity="0.90"/><polyline points="3.6,12.9 1.7,13.2 -0.2,13.3 -2.2,13.1 -4.0,12.5" fill="none" stroke="#ff1a1a" stroke-linecap="round" stroke-linejoin="round" stroke-width="3.64" opacity="0.30"/><polyline points="3.6,12.9 1.7,13.2 -0.2,13.3 -2.2,13.1 -4.0,12.5" fill="none" stroke="#ff1a1a" stroke-linecap="round" stroke-linejoin="round" stroke-width="1.56" opacity="1.00"/></g></g>
</svg>
<rect x="53.7" y="172.6" width="7.6" height="1.8" fill="#fff"/>
<text x="105.00" y="359.90" font-size="9.5" text-anchor="middle" fill="#111" stroke="#111" textLength="57.10" lengthAdjust="spacingAndGlyphs">pY/pBtk/BCR</text>
<path d="M55.59 422.44V420.08M53.89 420.08H57.29" stroke="#222" stroke-width="0.8" fill="none"/>
<rect x="52.70" y="422.44" width="5.78" height="14.16" fill="#bd0f30"/>
<path d="M61.37 424.21V420.08M59.67 420.08H63.07" stroke="#222" stroke-width="0.8" fill="none"/>
<rect x="58.48" y="424.21" width="5.78" height="12.39" fill="#2e4f8c"/>
<path d="M67.15 420.67V417.13M65.45 417.13H68.85" stroke="#222" stroke-width="0.8" fill="none"/>
<rect x="64.26" y="420.67" width="5.78" height="15.93" fill="#6cb33f"/>
<path d="M72.93 421.85V418.90M71.23 418.90H74.63" stroke="#222" stroke-width="0.8" fill="none"/>
<rect x="70.04" y="421.85" width="5.78" height="14.75" fill="#4f1f6a"/>
<path d="M82.19 395.89V392.35M80.49 392.35H83.89" stroke="#222" stroke-width="0.8" fill="none"/>
<rect x="79.30" y="395.89" width="5.78" height="40.71" fill="#bd0f30"/>
<path d="M87.97 418.31V415.36M86.27 415.36H89.67" stroke="#222" stroke-width="0.8" fill="none"/>
<rect x="85.08" y="418.31" width="5.78" height="18.29" fill="#2e4f8c"/>
<path d="M93.75 415.95V412.41M92.05 412.41H95.45" stroke="#222" stroke-width="0.8" fill="none"/>
<rect x="90.86" y="415.95" width="5.78" height="20.65" fill="#6cb33f"/>
<path d="M99.53 417.13V413.00M97.83 413.00H101.23" stroke="#222" stroke-width="0.8" fill="none"/>
<rect x="96.64" y="417.13" width="5.78" height="19.47" fill="#4f1f6a"/>
<path d="M108.79 381.73V379.37M107.09 379.37H110.49" stroke="#222" stroke-width="0.8" fill="none"/>
<rect x="105.90" y="381.73" width="5.78" height="54.87" fill="#bd0f30"/>
<path d="M114.57 406.51V401.20M112.87 401.20H116.27" stroke="#222" stroke-width="0.8" fill="none"/>
<rect x="111.68" y="406.51" width="5.78" height="30.09" fill="#2e4f8c"/>
<path d="M120.35 408.28V405.92M118.65 405.92H122.05" stroke="#222" stroke-width="0.8" fill="none"/>
<rect x="117.46" y="408.28" width="5.78" height="28.32" fill="#6cb33f"/>
<path d="M126.13 414.77V413.59M124.43 413.59H127.83" stroke="#222" stroke-width="0.8" fill="none"/>
<rect x="123.24" y="414.77" width="5.78" height="21.83" fill="#4f1f6a"/>
<path d="M135.39 417.13V414.77M133.69 414.77H137.09" stroke="#222" stroke-width="0.8" fill="none"/>
<rect x="132.50" y="417.13" width="5.78" height="19.47" fill="#bd0f30"/>
<path d="M141.17 420.67V417.13M139.47 417.13H142.87" stroke="#222" stroke-width="0.8" fill="none"/>
<rect x="138.28" y="420.67" width="5.78" height="15.93" fill="#2e4f8c"/>
<path d="M146.95 418.31V413.00M145.25 413.00H148.65" stroke="#222" stroke-width="0.8" fill="none"/>
<rect x="144.06" y="418.31" width="5.78" height="18.29" fill="#6cb33f"/>
<path d="M152.73 420.67V417.72M151.03 417.72H154.43" stroke="#222" stroke-width="0.8" fill="none"/>
<rect x="149.84" y="420.67" width="5.78" height="15.93" fill="#4f1f6a"/>
<path d="M50.30 364.00V436.60M49.70 436.60H158.40" stroke="#111" stroke-width="1.25" fill="none"/>
<path d="M47.30 436.60H50.30" stroke="#111" stroke-width="1"/>
<text x="45.80" y="439.20" font-size="8" text-anchor="end" font-weight="normal" fill="#111" stroke="#111" >0.0</text>
<path d="M47.30 413.00H50.30" stroke="#111" stroke-width="1"/>
<text x="45.80" y="415.60" font-size="8" text-anchor="end" font-weight="normal" fill="#111" stroke="#111" >0.2</text>
<path d="M47.30 389.40H50.30" stroke="#111" stroke-width="1"/>
<text x="45.80" y="392.00" font-size="8" text-anchor="end" font-weight="normal" fill="#111" stroke="#111" >0.4</text>
<path d="M47.30 365.80H50.30" stroke="#111" stroke-width="1"/>
<text x="45.80" y="368.40" font-size="8" text-anchor="end" font-weight="normal" fill="#111" stroke="#111" >0.6</text>
<text x="64.26" y="449.60" font-size="8" text-anchor="middle" font-weight="normal" fill="#111" stroke="#111" >0</text>
<path d="M64.26 436.60v3" stroke="#111" stroke-width="1"/>
<text x="90.86" y="449.60" font-size="8" text-anchor="middle" font-weight="normal" fill="#111" stroke="#111" >5</text>
<path d="M90.86 436.60v3" stroke="#111" stroke-width="1"/>
<text x="117.46" y="449.60" font-size="8" text-anchor="middle" font-weight="normal" fill="#111" stroke="#111" >10</text>
<path d="M117.46 436.60v3" stroke="#111" stroke-width="1"/>
<text x="144.06" y="449.60" font-size="8" text-anchor="middle" font-weight="normal" fill="#111" stroke="#111" >30</text>
<path d="M144.06 436.60v3" stroke="#111" stroke-width="1"/>
<path d="M80.80 387.31V390.31M80.80 388.81H87.80M87.80 387.31V390.31" stroke="#111" stroke-width="0.8" fill="none"/>
<circle cx="84.60" cy="384.61" r="0.8" fill="#111"/>
<path d="M107.40 374.33V377.33M107.40 375.83H114.40M114.40 374.33V377.33" stroke="#111" stroke-width="0.8" fill="none"/>
<circle cx="111.20" cy="371.63" r="0.8" fill="#111"/>
<text x="28.30" y="400.90" font-size="9" text-anchor="middle" fill="#111" stroke="#111" textLength="64.60" lengthAdjust="spacingAndGlyphs" transform="rotate(-90 28.30 400.90)">Correlation coefficient</text>
<text x="104.60" y="462.20" font-size="9" text-anchor="middle" fill="#111" stroke="#111" textLength="31.80" lengthAdjust="spacingAndGlyphs">Time (min)</text>
<rect x="58.00" y="470.50" width="8.2" height="4" fill="#bd0f30"/>
<text x="70.00" y="475.20" font-size="7.6" text-anchor="start" font-weight="normal" fill="#111" stroke="#111" >WT</text>
<rect x="109.30" y="470.50" width="8.2" height="4" fill="#6cb33f"/>
<text x="121.30" y="475.20" font-size="7.6" text-anchor="start" font-weight="normal" fill="#111" stroke="#111" >Mst1 KO</text>
<rect x="58.00" y="481.80" width="8.2" height="4" fill="#2e4f8c"/>
<text x="70.00" y="486.50" font-size="7.6" text-anchor="start" font-weight="normal" fill="#111" stroke="#111" >WASP KO</text>
<rect x="109.30" y="481.80" width="8.2" height="4" fill="#4f1f6a"/>
<text x="121.30" y="486.50" font-size="7.6" text-anchor="start" font-weight="normal" fill="#111" stroke="#111" >DKO</text>
<text x="424.30" y="359.90" font-size="9.3" text-anchor="middle" fill="#111" stroke="#111" textLength="71.80" lengthAdjust="spacingAndGlyphs">pCD19/pErk/BCR</text>
<path d="M376.50 418.89V413.97M374.80 413.97H378.20" stroke="#222" stroke-width="0.8" fill="none"/>
<rect x="373.60" y="418.89" width="5.80" height="17.71" fill="#bd0f30"/>
<path d="M382.30 420.20V415.28M380.60 415.28H384.00" stroke="#222" stroke-width="0.8" fill="none"/>
<rect x="379.40" y="420.20" width="5.80" height="16.40" fill="#2e4f8c"/>
<path d="M388.10 415.28V412.00M386.40 412.00H389.80" stroke="#222" stroke-width="0.8" fill="none"/>
<rect x="385.20" y="415.28" width="5.80" height="21.32" fill="#6cb33f"/>
<path d="M393.90 416.92V412.00M392.20 412.00H395.60" stroke="#222" stroke-width="0.8" fill="none"/>
<rect x="391.00" y="416.92" width="5.80" height="19.68" fill="#4f1f6a"/>
<path d="M403.05 390.68V387.40M401.35 387.40H404.75" stroke="#222" stroke-width="0.8" fill="none"/>
<rect x="400.15" y="390.68" width="5.80" height="45.92" fill="#bd0f30"/>
<path d="M408.85 408.72V403.80M407.15 403.80H410.55" stroke="#222" stroke-width="0.8" fill="none"/>
<rect x="405.95" y="408.72" width="5.80" height="27.88" fill="#2e4f8c"/>
<path d="M414.65 407.08V402.16M412.95 402.16H416.35" stroke="#222" stroke-width="0.8" fill="none"/>
<rect x="411.75" y="407.08" width="5.80" height="29.52" fill="#6cb33f"/>
<path d="M420.45 413.64V410.36M418.75 410.36H422.15" stroke="#222" stroke-width="0.8" fill="none"/>
<rect x="417.55" y="413.64" width="5.80" height="22.96" fill="#4f1f6a"/>
<path d="M429.60 379.20V374.28M427.90 374.28H431.30" stroke="#222" stroke-width="0.8" fill="none"/>
<rect x="426.70" y="379.20" width="5.80" height="57.40" fill="#bd0f30"/>
<path d="M435.40 399.21V392.65M433.70 392.65H437.10" stroke="#222" stroke-width="0.8" fill="none"/>
<rect x="432.50" y="399.21" width="5.80" height="37.39" fill="#2e4f8c"/>
<path d="M441.20 402.16V397.24M439.50 397.24H442.90" stroke="#222" stroke-width="0.8" fill="none"/>
<rect x="438.30" y="402.16" width="5.80" height="34.44" fill="#6cb33f"/>
<path d="M447.00 407.08V403.80M445.30 403.80H448.70" stroke="#222" stroke-width="0.8" fill="none"/>
<rect x="444.10" y="407.08" width="5.80" height="29.52" fill="#4f1f6a"/>
<path d="M456.15 413.64V410.36M454.45 410.36H457.85" stroke="#222" stroke-width="0.8" fill="none"/>
<rect x="453.25" y="413.64" width="5.80" height="22.96" fill="#bd0f30"/>
<path d="M461.95 415.28V412.00M460.25 412.00H463.65" stroke="#222" stroke-width="0.8" fill="none"/>
<rect x="459.05" y="415.28" width="5.80" height="21.32" fill="#2e4f8c"/>
<path d="M467.75 412.00V408.72M466.05 408.72H469.45" stroke="#222" stroke-width="0.8" fill="none"/>
<rect x="464.85" y="412.00" width="5.80" height="24.60" fill="#6cb33f"/>
<path d="M473.55 410.36V405.44M471.85 405.44H475.25" stroke="#222" stroke-width="0.8" fill="none"/>
<rect x="470.65" y="410.36" width="5.80" height="26.24" fill="#4f1f6a"/>
<path d="M372.60 368.00V436.60M372.00 436.60H479.00" stroke="#111" stroke-width="1.25" fill="none"/>
<path d="M369.60 436.60H372.60" stroke="#111" stroke-width="1"/>
<text x="368.10" y="439.20" font-size="8" text-anchor="end" font-weight="normal" fill="#111" stroke="#111" >0.0</text>
<path d="M369.60 420.20H372.60" stroke="#111" stroke-width="1"/>
<text x="368.10" y="422.80" font-size="8" text-anchor="end" font-weight="normal" fill="#111" stroke="#111" >0.1</text>
<path d="M369.60 403.80H372.60" stroke="#111" stroke-width="1"/>
<text x="368.10" y="406.40" font-size="8" text-anchor="end" font-weight="normal" fill="#111" stroke="#111" >0.2</text>
<path d="M369.60 387.40H372.60" stroke="#111" stroke-width="1"/>
<text x="368.10" y="390.00" font-size="8" text-anchor="end" font-weight="normal" fill="#111" stroke="#111" >0.3</text>
<path d="M369.60 371.00H372.60" stroke="#111" stroke-width="1"/>
<text x="368.10" y="373.60" font-size="8" text-anchor="end" font-weight="normal" fill="#111" stroke="#111" >0.4</text>
<text x="385.20" y="449.60" font-size="8" text-anchor="middle" font-weight="normal" fill="#111" stroke="#111" >0</text>
<path d="M385.20 436.60v3" stroke="#111" stroke-width="1"/>
<text x="411.75" y="449.60" font-size="8" text-anchor="middle" font-weight="normal" fill="#111" stroke="#111" >5</text>
<path d="M411.75 436.60v3" stroke="#111" stroke-width="1"/>
<text x="438.30" y="449.60" font-size="8" text-anchor="middle" font-weight="normal" fill="#111" stroke="#111" >10</text>
<path d="M438.30 436.60v3" stroke="#111" stroke-width="1"/>
<text x="464.85" y="449.60" font-size="8" text-anchor="middle" font-weight="normal" fill="#111" stroke="#111" >30</text>
<path d="M464.85 436.60v3" stroke="#111" stroke-width="1"/>
<path d="M403.25 382.62V385.62M403.25 384.12H408.15M408.15 382.62V385.62" stroke="#111" stroke-width="0.8" fill="none"/>
<circle cx="406.00" cy="379.92" r="0.8" fill="#111"/>
<path d="M429.80 370.32V373.32M429.80 371.82H434.70M434.70 370.32V373.32" stroke="#111" stroke-width="0.8" fill="none"/>
<circle cx="432.55" cy="367.62" r="0.8" fill="#111"/>
<text x="348.30" y="400.90" font-size="9" text-anchor="middle" fill="#111" stroke="#111" textLength="64.60" lengthAdjust="spacingAndGlyphs" transform="rotate(-90 348.30 400.90)">Correlation coefficient</text>
<text x="425.80" y="462.20" font-size="9" text-anchor="middle" fill="#111" stroke="#111" textLength="31.80" lengthAdjust="spacingAndGlyphs">Time (min)</text>
<rect x="379.30" y="470.50" width="8.2" height="4" fill="#bd0f30"/>
<text x="391.30" y="475.20" font-size="7.6" text-anchor="start" font-weight="normal" fill="#111" stroke="#111" >WT</text>
<rect x="430.70" y="470.50" width="8.2" height="4" fill="#6cb33f"/>
<text x="442.70" y="475.20" font-size="7.6" text-anchor="start" font-weight="normal" fill="#111" stroke="#111" >Mst1 KO</text>
<rect x="379.30" y="481.80" width="8.2" height="4" fill="#2e4f8c"/>
<text x="391.30" y="486.50" font-size="7.6" text-anchor="start" font-weight="normal" fill="#111" stroke="#111" >WASP KO</text>
<rect x="430.70" y="481.80" width="8.2" height="4" fill="#4f1f6a"/>
<text x="442.70" y="486.50" font-size="7.6" text-anchor="start" font-weight="normal" fill="#111" stroke="#111" >DKO</text>
<path d="M232.70 363.00V439.60M229.70 436.60H316.00" stroke="#111" stroke-width="1.25" fill="none"/>
<text x="228.20" y="439.30" font-size="8" text-anchor="end" font-weight="normal" fill="#111" stroke="#111" >0</text>
<path d="M229.70 412.90H232.70" stroke="#111" stroke-width="1"/>
<text x="228.20" y="415.60" font-size="8" text-anchor="end" font-weight="normal" fill="#111" stroke="#111" >50</text>
<path d="M229.70 389.20H232.70" stroke="#111" stroke-width="1"/>
<text x="228.20" y="391.90" font-size="8" text-anchor="end" font-weight="normal" fill="#111" stroke="#111" >100</text>
<path d="M229.70 365.50H232.70" stroke="#111" stroke-width="1"/>
<text x="228.20" y="368.20" font-size="8" text-anchor="end" font-weight="normal" fill="#111" stroke="#111" >150</text>
<path d="M259.42 436.60V439.60" stroke="#111" stroke-width="1"/>
<path d="M286.14 436.60V439.60" stroke="#111" stroke-width="1"/>
<path d="M312.86 436.60V439.60" stroke="#111" stroke-width="1"/>
<text x="232.70" y="449.60" font-size="8" text-anchor="middle" font-weight="normal" fill="#111" stroke="#111" >0</text>
<text x="259.42" y="449.60" font-size="8" text-anchor="middle" font-weight="normal" fill="#111" stroke="#111" >10</text>
<text x="286.14" y="449.60" font-size="8" text-anchor="middle" font-weight="normal" fill="#111" stroke="#111" >20</text>
<text x="312.86" y="449.60" font-size="8" text-anchor="middle" font-weight="normal" fill="#111" stroke="#111" >30</text>
<path d="M238.04 389.20V392.04M236.24 389.20H239.84M236.24 392.04H239.84" stroke="#222" stroke-width="0.8" fill="none"/>
<path d="M246.06 389.67V394.41M244.26 389.67H247.86M244.26 394.41H247.86" stroke="#222" stroke-width="0.8" fill="none"/>
<path d="M259.42 392.04V398.68M257.62 392.04H261.22M257.62 398.68H261.22" stroke="#222" stroke-width="0.8" fill="none"/>
<path d="M312.86 395.84V401.52M311.06 395.84H314.66M311.06 401.52H314.66" stroke="#222" stroke-width="0.8" fill="none"/>
<polyline points="232.70,389.20 238.04,390.62 246.06,392.04 259.42,395.36 312.86,398.68" fill="none" stroke="#5a2a82" stroke-width="1.05"/>
<path d="M230.40 387.36L235.00 387.36L232.70 391.50Z" fill="#5a2a82"/>
<path d="M235.74 388.78L240.34 388.78L238.04 392.92Z" fill="#5a2a82"/>
<path d="M243.76 390.20L248.36 390.20L246.06 394.34Z" fill="#5a2a82"/>
<path d="M257.12 393.52L261.72 393.52L259.42 397.66Z" fill="#5a2a82"/>
<path d="M310.56 396.84L315.16 396.84L312.86 400.98Z" fill="#5a2a82"/>
<path d="M238.04 392.04V395.84M236.24 392.04H239.84M236.24 395.84H239.84" stroke="#222" stroke-width="0.8" fill="none"/>
<path d="M246.06 399.63V405.32M244.26 399.63H247.86M244.26 405.32H247.86" stroke="#222" stroke-width="0.8" fill="none"/>
<path d="M259.42 402.95V409.58M257.62 402.95H261.22M257.62 409.58H261.22" stroke="#222" stroke-width="0.8" fill="none"/>
<path d="M312.86 405.32V411.95M311.06 405.32H314.66M311.06 411.95H314.66" stroke="#222" stroke-width="0.8" fill="none"/>
<polyline points="232.70,389.20 238.04,393.94 246.06,402.47 259.42,406.26 312.86,408.63" fill="none" stroke="#3a5fa0" stroke-width="1.05"/>
<rect x="230.60" y="387.10" width="4.20" height="4.20" fill="#dfe6f3" stroke="#3a5fa0" stroke-width="0.9"/>
<rect x="235.94" y="391.84" width="4.20" height="4.20" fill="#dfe6f3" stroke="#3a5fa0" stroke-width="0.9"/>
<rect x="243.96" y="400.37" width="4.20" height="4.20" fill="#dfe6f3" stroke="#3a5fa0" stroke-width="0.9"/>
<rect x="257.32" y="404.16" width="4.20" height="4.20" fill="#dfe6f3" stroke="#3a5fa0" stroke-width="0.9"/>
<rect x="310.76" y="406.53" width="4.20" height="4.20" fill="#dfe6f3" stroke="#3a5fa0" stroke-width="0.9"/>
<path d="M238.04 392.04V395.84M236.24 392.04H239.84M236.24 395.84H239.84" stroke="#222" stroke-width="0.8" fill="none"/>
<path d="M246.06 397.73V404.37M244.26 397.73H247.86M244.26 404.37H247.86" stroke="#222" stroke-width="0.8" fill="none"/>
<path d="M259.42 400.10V408.63M257.62 400.10H261.22M257.62 408.63H261.22" stroke="#222" stroke-width="0.8" fill="none"/>
<path d="M312.86 403.42V411.00M311.06 403.42H314.66M311.06 411.00H314.66" stroke="#222" stroke-width="0.8" fill="none"/>
<polyline points="232.70,389.20 238.04,393.94 246.06,401.05 259.42,404.37 312.86,407.21" fill="none" stroke="#6cb33f" stroke-width="1.05"/>
<circle cx="232.70" cy="389.20" r="2.20" fill="#6cb33f"/>
<circle cx="238.04" cy="393.94" r="2.20" fill="#6cb33f"/>
<circle cx="246.06" cy="401.05" r="2.20" fill="#6cb33f"/>
<circle cx="259.42" cy="404.37" r="2.20" fill="#6cb33f"/>
<circle cx="312.86" cy="407.21" r="2.20" fill="#6cb33f"/>
<path d="M238.04 402.00V406.74M236.24 402.00H239.84M236.24 406.74H239.84" stroke="#222" stroke-width="0.8" fill="none"/>
<path d="M246.06 411.95V415.74M244.26 411.95H247.86M244.26 415.74H247.86" stroke="#222" stroke-width="0.8" fill="none"/>
<path d="M259.42 415.27V422.85M257.62 415.27H261.22M257.62 422.85H261.22" stroke="#222" stroke-width="0.8" fill="none"/>
<path d="M312.86 422.85V428.54M311.06 422.85H314.66M311.06 428.54H314.66" stroke="#222" stroke-width="0.8" fill="none"/>
<polyline points="232.70,389.20 238.04,404.37 246.06,413.85 259.42,419.06 312.86,425.70" fill="none" stroke="#bd0f30" stroke-width="1.05"/>
<path d="M232.70 386.30L235.60 389.20L232.70 392.10L229.80 389.20Z" fill="#bd0f30"/>
<path d="M238.04 401.47L240.94 404.37L238.04 407.27L235.14 404.37Z" fill="#bd0f30"/>
<path d="M246.06 410.95L248.96 413.85L246.06 416.75L243.16 413.85Z" fill="#bd0f30"/>
<path d="M259.42 416.16L262.32 419.06L259.42 421.96L256.52 419.06Z" fill="#bd0f30"/>
<path d="M312.86 422.80L315.76 425.70L312.86 428.60L309.96 425.70Z" fill="#bd0f30"/>
<circle cx="251.40" cy="390.62" r="0.75" fill="#222"/>
<circle cx="251.40" cy="400.58" r="0.75" fill="#222"/>
<circle cx="264.76" cy="393.94" r="0.75" fill="#222"/>
<circle cx="264.76" cy="401.52" r="0.75" fill="#222"/>
<circle cx="307.52" cy="391.57" r="0.75" fill="#222"/>
<circle cx="307.52" cy="404.37" r="0.75" fill="#222"/>
<text x="197.30" y="404.40" font-size="9" text-anchor="middle" fill="#111" stroke="#111" textLength="54.80" lengthAdjust="spacingAndGlyphs" transform="rotate(-90 197.30 404.40)">BCR on the cell</text>
<text x="209.00" y="401.20" font-size="9" text-anchor="middle" fill="#111" stroke="#111" textLength="33.60" lengthAdjust="spacingAndGlyphs" transform="rotate(-90 209.00 401.20)">surface (%)</text>
<text x="273.80" y="462.20" font-size="9" text-anchor="middle" fill="#111" stroke="#111" textLength="31.80" lengthAdjust="spacingAndGlyphs">Time (min)</text>
<path d="M216.20 472.50H227.70" stroke="#bd0f30" stroke-width="1"/>
<path d="M221.95 469.89L224.56 472.50L221.95 475.11L219.34 472.50Z" fill="#bd0f30"/>
<text x="231.50" y="475.20" font-size="7.6" text-anchor="start" font-weight="normal" fill="#111" stroke="#111" >WT</text>
<path d="M270.40 472.50H281.90" stroke="#6cb33f" stroke-width="1"/>
<circle cx="276.15" cy="472.50" r="1.98" fill="#6cb33f"/>
<text x="285.70" y="475.20" font-size="7.6" text-anchor="start" font-weight="normal" fill="#111" stroke="#111" >Mst1 KO</text>
<path d="M216.20 483.80H227.70" stroke="#3a5fa0" stroke-width="1"/>
<rect x="220.06" y="481.91" width="3.78" height="3.78" fill="#dfe6f3" stroke="#3a5fa0" stroke-width="0.9"/>
<text x="231.50" y="486.50" font-size="7.6" text-anchor="start" font-weight="normal" fill="#111" stroke="#111" >WASP KO</text>
<path d="M270.40 483.80H281.90" stroke="#5a2a82" stroke-width="1"/>
<path d="M274.08 482.14L278.22 482.14L276.15 485.87Z" fill="#5a2a82"/>
<text x="285.70" y="486.50" font-size="7.6" text-anchor="start" font-weight="normal" fill="#111" stroke="#111" >DKO</text>
<text x="88.70" y="514.50" font-size="9.2" text-anchor="middle" font-weight="normal" fill="#111" stroke="#111" >pY</text>
<path d="M45.00 521.00V598.40M42.00 595.40H132.00" stroke="#111" stroke-width="1.25" fill="none"/>
<text x="40.50" y="598.10" font-size="8" text-anchor="end" font-weight="normal" fill="#111" stroke="#111" >0</text>
<path d="M42.00 571.65H45.00" stroke="#111" stroke-width="1"/>
<text x="40.50" y="574.35" font-size="8" text-anchor="end" font-weight="normal" fill="#111" stroke="#111" >1000</text>
<path d="M42.00 547.90H45.00" stroke="#111" stroke-width="1"/>
<text x="40.50" y="550.60" font-size="8" text-anchor="end" font-weight="normal" fill="#111" stroke="#111" >2000</text>
<path d="M42.00 524.15H45.00" stroke="#111" stroke-width="1"/>
<text x="40.50" y="526.85" font-size="8" text-anchor="end" font-weight="normal" fill="#111" stroke="#111" >3000</text>
<path d="M71.50 595.40V598.40" stroke="#111" stroke-width="1"/>
<path d="M98.00 595.40V598.40" stroke="#111" stroke-width="1"/>
<path d="M124.50 595.40V598.40" stroke="#111" stroke-width="1"/>
<text x="45.00" y="608.40" font-size="8" text-anchor="middle" font-weight="normal" fill="#111" stroke="#111" >0</text>
<text x="71.50" y="608.40" font-size="8" text-anchor="middle" font-weight="normal" fill="#111" stroke="#111" >10</text>
<text x="98.00" y="608.40" font-size="8" text-anchor="middle" font-weight="normal" fill="#111" stroke="#111" >20</text>
<text x="124.50" y="608.40" font-size="8" text-anchor="middle" font-weight="normal" fill="#111" stroke="#111" >30</text>
<path d="M45.00 585.19V587.56M43.20 585.19H46.80M43.20 587.56H46.80" stroke="#222" stroke-width="0.8" fill="none"/>
<path d="M58.25 581.62V587.80M56.45 581.62H60.05M56.45 587.80H60.05" stroke="#222" stroke-width="0.8" fill="none"/>
<path d="M71.50 576.88V582.10M69.70 576.88H73.30M69.70 582.10H73.30" stroke="#222" stroke-width="0.8" fill="none"/>
<path d="M124.50 584.71V587.09M122.70 584.71H126.30M122.70 587.09H126.30" stroke="#222" stroke-width="0.8" fill="none"/>
<polyline points="45.00,586.38 58.25,584.71 71.50,579.49 124.50,585.90" fill="none" stroke="#5a2a82" stroke-width="1.05"/>
<path d="M42.70 584.53L47.30 584.53L45.00 588.67Z" fill="#5a2a82"/>
<path d="M55.95 582.87L60.55 582.87L58.25 587.01Z" fill="#5a2a82"/>
<path d="M69.20 577.65L73.80 577.65L71.50 581.79Z" fill="#5a2a82"/>
<path d="M122.20 584.06L126.80 584.06L124.50 588.20Z" fill="#5a2a82"/>
<path d="M45.00 582.10V584.95M43.20 582.10H46.80M43.20 584.95H46.80" stroke="#222" stroke-width="0.8" fill="none"/>
<path d="M58.25 576.40V585.90M56.45 576.40H60.05M56.45 585.90H60.05" stroke="#222" stroke-width="0.8" fill="none"/>
<path d="M71.50 560.96V568.09M69.70 560.96H73.30M69.70 568.09H73.30" stroke="#222" stroke-width="0.8" fill="none"/>
<path d="M124.50 571.41V579.01M122.70 571.41H126.30M122.70 579.01H126.30" stroke="#222" stroke-width="0.8" fill="none"/>
<polyline points="45.00,583.52 58.25,581.15 71.50,564.52 124.50,575.21" fill="none" stroke="#3a5fa0" stroke-width="1.05"/>
<rect x="42.90" y="581.42" width="4.20" height="4.20" fill="#dfe6f3" stroke="#3a5fa0" stroke-width="0.9"/>
<rect x="56.15" y="579.05" width="4.20" height="4.20" fill="#dfe6f3" stroke="#3a5fa0" stroke-width="0.9"/>
<rect x="69.40" y="562.42" width="4.20" height="4.20" fill="#dfe6f3" stroke="#3a5fa0" stroke-width="0.9"/>
<rect x="122.40" y="573.11" width="4.20" height="4.20" fill="#dfe6f3" stroke="#3a5fa0" stroke-width="0.9"/>
<path d="M45.00 581.62V584.47M43.20 581.62H46.80M43.20 584.47H46.80" stroke="#222" stroke-width="0.8" fill="none"/>
<path d="M58.25 573.55V583.05M56.45 573.55H60.05M56.45 583.05H60.05" stroke="#222" stroke-width="0.8" fill="none"/>
<path d="M71.50 556.69V565.24M69.70 556.69H73.30M69.70 565.24H73.30" stroke="#222" stroke-width="0.8" fill="none"/>
<path d="M124.50 570.23V577.82M122.70 570.23H126.30M122.70 577.82H126.30" stroke="#222" stroke-width="0.8" fill="none"/>
<polyline points="45.00,583.05 58.25,578.30 71.50,560.96 124.50,574.02" fill="none" stroke="#6cb33f" stroke-width="1.05"/>
<circle cx="45.00" cy="583.05" r="2.20" fill="#6cb33f"/>
<circle cx="58.25" cy="578.30" r="2.20" fill="#6cb33f"/>
<circle cx="71.50" cy="560.96" r="2.20" fill="#6cb33f"/>
<circle cx="124.50" cy="574.02" r="2.20" fill="#6cb33f"/>
<path d="M45.00 579.73V582.57M43.20 579.73H46.80M43.20 582.57H46.80" stroke="#222" stroke-width="0.8" fill="none"/>
<path d="M58.25 557.88V570.22M56.45 557.88H60.05M56.45 570.22H60.05" stroke="#222" stroke-width="0.8" fill="none"/>
<path d="M71.50 529.14V544.34M69.70 529.14H73.30M69.70 544.34H73.30" stroke="#222" stroke-width="0.8" fill="none"/>
<path d="M124.50 568.56V574.74M122.70 568.56H126.30M122.70 574.74H126.30" stroke="#222" stroke-width="0.8" fill="none"/>
<polyline points="45.00,581.15 58.25,564.05 71.50,536.74 124.50,571.65" fill="none" stroke="#bd0f30" stroke-width="1.05"/>
<path d="M45.00 578.25L47.90 581.15L45.00 584.05L42.10 581.15Z" fill="#bd0f30"/>
<path d="M58.25 561.15L61.15 564.05L58.25 566.95L55.35 564.05Z" fill="#bd0f30"/>
<path d="M71.50 533.84L74.40 536.74L71.50 539.64L68.60 536.74Z" fill="#bd0f30"/>
<path d="M124.50 568.75L127.40 571.65L124.50 574.55L121.60 571.65Z" fill="#bd0f30"/>
<circle cx="52.95" cy="577.35" r="0.75" fill="#222"/>
<circle cx="52.95" cy="584.71" r="0.75" fill="#222"/>
<circle cx="76.80" cy="559.06" r="0.75" fill="#222"/>
<circle cx="76.80" cy="577.35" r="0.75" fill="#222"/>
<circle cx="120.52" cy="582.10" r="0.75" fill="#222"/>
<text x="14.80" y="558.00" font-size="9" text-anchor="middle" fill="#111" stroke="#111" textLength="11.30" lengthAdjust="spacingAndGlyphs" transform="rotate(-90 14.80 558.00)">MFI</text>
<text x="88.50" y="620.60" font-size="9" text-anchor="middle" fill="#111" stroke="#111" textLength="31.80" lengthAdjust="spacingAndGlyphs">Time (min)</text>
<path d="M29.80 631.00H41.30" stroke="#bd0f30" stroke-width="1"/>
<path d="M35.55 628.39L38.16 631.00L35.55 633.61L32.94 631.00Z" fill="#bd0f30"/>
<text x="45.10" y="633.70" font-size="7.6" text-anchor="start" font-weight="normal" fill="#111" stroke="#111" >WT</text>
<path d="M87.60 631.00H99.10" stroke="#6cb33f" stroke-width="1"/>
<circle cx="93.35" cy="631.00" r="1.98" fill="#6cb33f"/>
<text x="102.90" y="633.70" font-size="7.6" text-anchor="start" font-weight="normal" fill="#111" stroke="#111" >Mst1 KO</text>
<path d="M29.80 642.60H41.30" stroke="#3a5fa0" stroke-width="1"/>
<rect x="33.66" y="640.71" width="3.78" height="3.78" fill="#dfe6f3" stroke="#3a5fa0" stroke-width="0.9"/>
<text x="45.10" y="645.30" font-size="7.6" text-anchor="start" font-weight="normal" fill="#111" stroke="#111" >WASP KO</text>
<path d="M87.60 642.60H99.10" stroke="#5a2a82" stroke-width="1"/>
<path d="M91.28 640.94L95.42 640.94L93.35 644.67Z" fill="#5a2a82"/>
<text x="102.90" y="645.30" font-size="7.6" text-anchor="start" font-weight="normal" fill="#111" stroke="#111" >DKO</text>
<text x="216.40" y="514.30" font-size="9.2" text-anchor="middle" font-weight="normal" fill="#111" stroke="#111" >pBtk</text>
<path d="M171.20 519.00V598.40M168.20 595.40H261.00" stroke="#111" stroke-width="1.25" fill="none"/>
<text x="166.70" y="598.10" font-size="8" text-anchor="end" font-weight="normal" fill="#111" stroke="#111" >0</text>
<path d="M168.20 577.00H171.20" stroke="#111" stroke-width="1"/>
<text x="166.70" y="579.70" font-size="8" text-anchor="end" font-weight="normal" fill="#111" stroke="#111" >500</text>
<path d="M168.20 558.60H171.20" stroke="#111" stroke-width="1"/>
<text x="166.70" y="561.30" font-size="8" text-anchor="end" font-weight="normal" fill="#111" stroke="#111" >1000</text>
<path d="M168.20 540.20H171.20" stroke="#111" stroke-width="1"/>
<text x="166.70" y="542.90" font-size="8" text-anchor="end" font-weight="normal" fill="#111" stroke="#111" >1500</text>
<path d="M168.20 521.80H171.20" stroke="#111" stroke-width="1"/>
<text x="166.70" y="524.50" font-size="8" text-anchor="end" font-weight="normal" fill="#111" stroke="#111" >2000</text>
<path d="M199.10 595.40V598.40" stroke="#111" stroke-width="1"/>
<path d="M227.00 595.40V598.40" stroke="#111" stroke-width="1"/>
<path d="M254.90 595.40V598.40" stroke="#111" stroke-width="1"/>
<text x="171.20" y="608.40" font-size="8" text-anchor="middle" font-weight="normal" fill="#111" stroke="#111" >0</text>
<text x="199.10" y="608.40" font-size="8" text-anchor="middle" font-weight="normal" fill="#111" stroke="#111" >10</text>
<text x="227.00" y="608.40" font-size="8" text-anchor="middle" font-weight="normal" fill="#111" stroke="#111" >20</text>
<text x="254.90" y="608.40" font-size="8" text-anchor="middle" font-weight="normal" fill="#111" stroke="#111" >30</text>
<path d="M171.20 583.99V587.67M169.40 583.99H173.00M169.40 587.67H173.00" stroke="#222" stroke-width="0.8" fill="none"/>
<path d="M185.15 580.68V586.57M183.35 580.68H186.95M183.35 586.57H186.95" stroke="#222" stroke-width="0.8" fill="none"/>
<path d="M199.10 575.90V582.52M197.30 575.90H200.90M197.30 582.52H200.90" stroke="#222" stroke-width="0.8" fill="none"/>
<path d="M254.90 581.42V587.30M253.10 581.42H256.70M253.10 587.30H256.70" stroke="#222" stroke-width="0.8" fill="none"/>
<polyline points="171.20,585.83 185.15,583.62 199.10,579.21 254.90,584.36" fill="none" stroke="#5a2a82" stroke-width="1.05"/>
<path d="M168.90 583.99L173.50 583.99L171.20 588.13Z" fill="#5a2a82"/>
<path d="M182.85 581.78L187.45 581.78L185.15 585.92Z" fill="#5a2a82"/>
<path d="M196.80 577.37L201.40 577.37L199.10 581.51Z" fill="#5a2a82"/>
<path d="M252.60 582.52L257.20 582.52L254.90 586.66Z" fill="#5a2a82"/>
<path d="M171.20 585.10V589.51M169.40 585.10H173.00M169.40 589.51H173.00" stroke="#222" stroke-width="0.8" fill="none"/>
<path d="M185.15 568.54V576.63M183.35 568.54H186.95M183.35 576.63H186.95" stroke="#222" stroke-width="0.8" fill="none"/>
<path d="M199.10 573.69V581.78M197.30 573.69H200.90M197.30 581.78H200.90" stroke="#222" stroke-width="0.8" fill="none"/>
<path d="M254.90 580.31V587.67M253.10 580.31H256.70M253.10 587.67H256.70" stroke="#222" stroke-width="0.8" fill="none"/>
<polyline points="171.20,587.30 185.15,572.58 199.10,577.74 254.90,583.99" fill="none" stroke="#3a5fa0" stroke-width="1.05"/>
<rect x="169.10" y="585.20" width="4.20" height="4.20" fill="#dfe6f3" stroke="#3a5fa0" stroke-width="0.9"/>
<rect x="183.05" y="570.48" width="4.20" height="4.20" fill="#dfe6f3" stroke="#3a5fa0" stroke-width="0.9"/>
<rect x="197.00" y="575.64" width="4.20" height="4.20" fill="#dfe6f3" stroke="#3a5fa0" stroke-width="0.9"/>
<rect x="252.80" y="581.89" width="4.20" height="4.20" fill="#dfe6f3" stroke="#3a5fa0" stroke-width="0.9"/>
<path d="M171.20 584.73V589.14M169.40 584.73H173.00M169.40 589.14H173.00" stroke="#222" stroke-width="0.8" fill="none"/>
<path d="M185.15 562.28V574.06M183.35 562.28H186.95M183.35 574.06H186.95" stroke="#222" stroke-width="0.8" fill="none"/>
<path d="M199.10 572.22V580.31M197.30 572.22H200.90M197.30 580.31H200.90" stroke="#222" stroke-width="0.8" fill="none"/>
<path d="M254.90 578.47V585.83M253.10 578.47H256.70M253.10 585.83H256.70" stroke="#222" stroke-width="0.8" fill="none"/>
<polyline points="171.20,586.94 185.15,568.17 199.10,576.26 254.90,582.15" fill="none" stroke="#6cb33f" stroke-width="1.05"/>
<circle cx="171.20" cy="586.94" r="2.20" fill="#6cb33f"/>
<circle cx="185.15" cy="568.17" r="2.20" fill="#6cb33f"/>
<circle cx="199.10" cy="576.26" r="2.20" fill="#6cb33f"/>
<circle cx="254.90" cy="582.15" r="2.20" fill="#6cb33f"/>
<path d="M171.20 582.15V586.57M169.40 582.15H173.00M169.40 586.57H173.00" stroke="#222" stroke-width="0.8" fill="none"/>
<path d="M185.15 553.08V561.18M183.35 553.08H186.95M183.35 561.18H186.95" stroke="#222" stroke-width="0.8" fill="none"/>
<path d="M199.10 538.73V553.45M197.30 538.73H200.90M197.30 553.45H200.90" stroke="#222" stroke-width="0.8" fill="none"/>
<path d="M254.90 573.69V579.58M253.10 573.69H256.70M253.10 579.58H256.70" stroke="#222" stroke-width="0.8" fill="none"/>
<polyline points="171.20,584.36 185.15,557.13 199.10,546.09 254.90,576.63" fill="none" stroke="#bd0f30" stroke-width="1.05"/>
<path d="M171.20 581.46L174.10 584.36L171.20 587.26L168.30 584.36Z" fill="#bd0f30"/>
<path d="M185.15 554.23L188.05 557.13L185.15 560.03L182.25 557.13Z" fill="#bd0f30"/>
<path d="M199.10 543.19L202.00 546.09L199.10 548.99L196.20 546.09Z" fill="#bd0f30"/>
<path d="M254.90 573.73L257.80 576.63L254.90 579.53L252.00 576.63Z" fill="#bd0f30"/>
<circle cx="190.73" cy="565.96" r="0.75" fill="#222"/>
<circle cx="190.73" cy="584.73" r="0.75" fill="#222"/>
<circle cx="204.68" cy="573.32" r="0.75" fill="#222"/>
<text x="216.00" y="620.60" font-size="9" text-anchor="middle" fill="#111" stroke="#111" textLength="31.80" lengthAdjust="spacingAndGlyphs">Time (min)</text>
<path d="M159.80 631.00H171.30" stroke="#bd0f30" stroke-width="1"/>
<path d="M165.55 628.39L168.16 631.00L165.55 633.61L162.94 631.00Z" fill="#bd0f30"/>
<text x="175.10" y="633.70" font-size="7.6" text-anchor="start" font-weight="normal" fill="#111" stroke="#111" >WT</text>
<path d="M217.60 631.00H229.10" stroke="#6cb33f" stroke-width="1"/>
<circle cx="223.35" cy="631.00" r="1.98" fill="#6cb33f"/>
<text x="232.90" y="633.70" font-size="7.6" text-anchor="start" font-weight="normal" fill="#111" stroke="#111" >Mst1 KO</text>
<path d="M159.80 642.60H171.30" stroke="#3a5fa0" stroke-width="1"/>
<rect x="163.66" y="640.71" width="3.78" height="3.78" fill="#dfe6f3" stroke="#3a5fa0" stroke-width="0.9"/>
<text x="175.10" y="645.30" font-size="7.6" text-anchor="start" font-weight="normal" fill="#111" stroke="#111" >WASP KO</text>
<path d="M217.60 642.60H229.10" stroke="#5a2a82" stroke-width="1"/>
<path d="M221.28 640.94L225.42 640.94L223.35 644.67Z" fill="#5a2a82"/>
<text x="232.90" y="645.30" font-size="7.6" text-anchor="start" font-weight="normal" fill="#111" stroke="#111" >DKO</text>
<text x="345.20" y="514.30" font-size="9.2" text-anchor="middle" font-weight="normal" fill="#111" stroke="#111" >pCD19</text>
<path d="M300.80 518.00V598.40M297.80 595.40H389.60" stroke="#111" stroke-width="1.25" fill="none"/>
<text x="296.30" y="598.10" font-size="8" text-anchor="end" font-weight="normal" fill="#111" stroke="#111" >0</text>
<path d="M297.80 576.55H300.80" stroke="#111" stroke-width="1"/>
<text x="296.30" y="579.25" font-size="8" text-anchor="end" font-weight="normal" fill="#111" stroke="#111" >500</text>
<path d="M297.80 557.70H300.80" stroke="#111" stroke-width="1"/>
<text x="296.30" y="560.40" font-size="8" text-anchor="end" font-weight="normal" fill="#111" stroke="#111" >1000</text>
<path d="M297.80 538.85H300.80" stroke="#111" stroke-width="1"/>
<text x="296.30" y="541.55" font-size="8" text-anchor="end" font-weight="normal" fill="#111" stroke="#111" >1500</text>
<path d="M297.80 520.00H300.80" stroke="#111" stroke-width="1"/>
<text x="296.30" y="522.70" font-size="8" text-anchor="end" font-weight="normal" fill="#111" stroke="#111" >2000</text>
<path d="M328.97 595.40V598.40" stroke="#111" stroke-width="1"/>
<path d="M357.14 595.40V598.40" stroke="#111" stroke-width="1"/>
<path d="M385.31 595.40V598.40" stroke="#111" stroke-width="1"/>
<text x="300.80" y="608.40" font-size="8" text-anchor="middle" font-weight="normal" fill="#111" stroke="#111" >0</text>
<text x="328.97" y="608.40" font-size="8" text-anchor="middle" font-weight="normal" fill="#111" stroke="#111" >10</text>
<text x="357.14" y="608.40" font-size="8" text-anchor="middle" font-weight="normal" fill="#111" stroke="#111" >20</text>
<text x="385.31" y="608.40" font-size="8" text-anchor="middle" font-weight="normal" fill="#111" stroke="#111" >30</text>
<path d="M300.80 579.19V583.71M299.00 579.19H302.60M299.00 583.71H302.60" stroke="#222" stroke-width="0.8" fill="none"/>
<path d="M314.88 567.50V575.04M313.08 567.50H316.69M313.08 575.04H316.69" stroke="#222" stroke-width="0.8" fill="none"/>
<path d="M328.97 575.80V583.34M327.17 575.80H330.77M327.17 583.34H330.77" stroke="#222" stroke-width="0.8" fill="none"/>
<path d="M385.31 579.19V585.98M383.51 579.19H387.11M383.51 585.98H387.11" stroke="#222" stroke-width="0.8" fill="none"/>
<polyline points="300.80,581.45 314.88,571.27 328.97,579.57 385.31,582.58" fill="none" stroke="#5a2a82" stroke-width="1.05"/>
<path d="M298.50 579.61L303.10 579.61L300.80 583.75Z" fill="#5a2a82"/>
<path d="M312.58 569.43L317.19 569.43L314.88 573.57Z" fill="#5a2a82"/>
<path d="M326.67 577.73L331.27 577.73L328.97 581.87Z" fill="#5a2a82"/>
<path d="M383.01 580.74L387.61 580.74L385.31 584.88Z" fill="#5a2a82"/>
<path d="M300.80 578.06V582.58M299.00 578.06H302.60M299.00 582.58H302.60" stroke="#222" stroke-width="0.8" fill="none"/>
<path d="M314.88 554.68V565.99M313.08 554.68H316.69M313.08 565.99H316.69" stroke="#222" stroke-width="0.8" fill="none"/>
<path d="M328.97 558.83V568.63M327.17 558.83H330.77M327.17 568.63H330.77" stroke="#222" stroke-width="0.8" fill="none"/>
<path d="M385.31 572.78V582.58M383.51 572.78H387.11M383.51 582.58H387.11" stroke="#222" stroke-width="0.8" fill="none"/>
<polyline points="300.80,580.32 314.88,560.34 328.97,563.73 385.31,577.68" fill="none" stroke="#3a5fa0" stroke-width="1.05"/>
<rect x="298.70" y="578.22" width="4.20" height="4.20" fill="#dfe6f3" stroke="#3a5fa0" stroke-width="0.9"/>
<rect x="312.78" y="558.24" width="4.20" height="4.20" fill="#dfe6f3" stroke="#3a5fa0" stroke-width="0.9"/>
<rect x="326.87" y="561.63" width="4.20" height="4.20" fill="#dfe6f3" stroke="#3a5fa0" stroke-width="0.9"/>
<rect x="383.21" y="575.58" width="4.20" height="4.20" fill="#dfe6f3" stroke="#3a5fa0" stroke-width="0.9"/>
<path d="M300.80 576.17V580.70M299.00 576.17H302.60M299.00 580.70H302.60" stroke="#222" stroke-width="0.8" fill="none"/>
<path d="M314.88 550.16V563.73M313.08 550.16H316.69M313.08 563.73H316.69" stroke="#222" stroke-width="0.8" fill="none"/>
<path d="M328.97 555.06V566.37M327.17 555.06H330.77M327.17 566.37H330.77" stroke="#222" stroke-width="0.8" fill="none"/>
<path d="M385.31 570.89V580.70M383.51 570.89H387.11M383.51 580.70H387.11" stroke="#222" stroke-width="0.8" fill="none"/>
<polyline points="300.80,578.43 314.88,556.95 328.97,560.72 385.31,575.80" fill="none" stroke="#6cb33f" stroke-width="1.05"/>
<circle cx="300.80" cy="578.43" r="2.20" fill="#6cb33f"/>
<circle cx="314.88" cy="556.95" r="2.20" fill="#6cb33f"/>
<circle cx="328.97" cy="560.72" r="2.20" fill="#6cb33f"/>
<circle cx="385.31" cy="575.80" r="2.20" fill="#6cb33f"/>
<path d="M300.80 572.78V577.30M299.00 572.78H302.60M299.00 577.30H302.60" stroke="#222" stroke-width="0.8" fill="none"/>
<path d="M314.88 524.52V535.83M313.08 524.52H316.69M313.08 535.83H316.69" stroke="#222" stroke-width="0.8" fill="none"/>
<path d="M328.97 543.75V561.09M327.17 543.75H330.77M327.17 561.09H330.77" stroke="#222" stroke-width="0.8" fill="none"/>
<path d="M385.31 563.73V571.27M383.51 563.73H387.11M383.51 571.27H387.11" stroke="#222" stroke-width="0.8" fill="none"/>
<polyline points="300.80,575.04 314.88,530.18 328.97,552.42 385.31,567.50" fill="none" stroke="#bd0f30" stroke-width="1.05"/>
<path d="M300.80 572.14L303.70 575.04L300.80 577.94L297.90 575.04Z" fill="#bd0f30"/>
<path d="M314.88 527.28L317.78 530.18L314.88 533.08L311.99 530.18Z" fill="#bd0f30"/>
<path d="M328.97 549.52L331.87 552.42L328.97 555.32L326.07 552.42Z" fill="#bd0f30"/>
<path d="M385.31 564.60L388.21 567.50L385.31 570.40L382.41 567.50Z" fill="#bd0f30"/>
<circle cx="320.52" cy="556.19" r="0.75" fill="#222"/>
<circle cx="320.52" cy="571.27" r="0.75" fill="#222"/>
<circle cx="334.60" cy="576.17" r="0.75" fill="#222"/>
<text x="344.50" y="620.60" font-size="9" text-anchor="middle" fill="#111" stroke="#111" textLength="31.80" lengthAdjust="spacingAndGlyphs">Time (min)</text>
<path d="M287.40 631.00H298.90" stroke="#bd0f30" stroke-width="1"/>
<path d="M293.15 628.39L295.76 631.00L293.15 633.61L290.54 631.00Z" fill="#bd0f30"/>
<text x="302.70" y="633.70" font-size="7.6" text-anchor="start" font-weight="normal" fill="#111" stroke="#111" >WT</text>
<path d="M344.90 631.00H356.40" stroke="#6cb33f" stroke-width="1"/>
<circle cx="350.65" cy="631.00" r="1.98" fill="#6cb33f"/>
<text x="360.20" y="633.70" font-size="7.6" text-anchor="start" font-weight="normal" fill="#111" stroke="#111" >Mst1 KO</text>
<path d="M287.40 642.60H298.90" stroke="#3a5fa0" stroke-width="1"/>
<rect x="291.26" y="640.71" width="3.78" height="3.78" fill="#dfe6f3" stroke="#3a5fa0" stroke-width="0.9"/>
<text x="302.70" y="645.30" font-size="7.6" text-anchor="start" font-weight="normal" fill="#111" stroke="#111" >WASP KO</text>
<path d="M344.90 642.60H356.40" stroke="#5a2a82" stroke-width="1"/>
<path d="M348.58 640.94L352.72 640.94L350.65 644.67Z" fill="#5a2a82"/>
<text x="360.20" y="645.30" font-size="7.6" text-anchor="start" font-weight="normal" fill="#111" stroke="#111" >DKO</text>
<text x="470.70" y="514.30" font-size="9.2" text-anchor="middle" font-weight="normal" fill="#111" stroke="#111" >pErk</text>
<path d="M429.30 522.00V598.40M426.30 595.40H512.50" stroke="#111" stroke-width="1.25" fill="none"/>
<text x="424.80" y="598.10" font-size="8" text-anchor="end" font-weight="normal" fill="#111" stroke="#111" >0</text>
<path d="M426.30 572.00H429.30" stroke="#111" stroke-width="1"/>
<text x="424.80" y="574.70" font-size="8" text-anchor="end" font-weight="normal" fill="#111" stroke="#111" >1000</text>
<path d="M426.30 548.60H429.30" stroke="#111" stroke-width="1"/>
<text x="424.80" y="551.30" font-size="8" text-anchor="end" font-weight="normal" fill="#111" stroke="#111" >2000</text>
<path d="M426.30 525.20H429.30" stroke="#111" stroke-width="1"/>
<text x="424.80" y="527.90" font-size="8" text-anchor="end" font-weight="normal" fill="#111" stroke="#111" >3000</text>
<path d="M455.77 595.40V598.40" stroke="#111" stroke-width="1"/>
<path d="M482.24 595.40V598.40" stroke="#111" stroke-width="1"/>
<path d="M508.71 595.40V598.40" stroke="#111" stroke-width="1"/>
<text x="429.30" y="608.40" font-size="8" text-anchor="middle" font-weight="normal" fill="#111" stroke="#111" >0</text>
<text x="455.77" y="608.40" font-size="8" text-anchor="middle" font-weight="normal" fill="#111" stroke="#111" >10</text>
<text x="482.24" y="608.40" font-size="8" text-anchor="middle" font-weight="normal" fill="#111" stroke="#111" >20</text>
<text x="508.71" y="608.40" font-size="8" text-anchor="middle" font-weight="normal" fill="#111" stroke="#111" >30</text>
<path d="M429.30 586.27V589.08M427.50 586.27H431.10M427.50 589.08H431.10" stroke="#222" stroke-width="0.8" fill="none"/>
<path d="M442.54 579.25V585.34M440.74 579.25H444.34M440.74 585.34H444.34" stroke="#222" stroke-width="0.8" fill="none"/>
<path d="M455.77 574.57V580.66M453.97 574.57H457.57M453.97 580.66H457.57" stroke="#222" stroke-width="0.8" fill="none"/>
<path d="M508.71 582.30V588.38M506.91 582.30H510.51M506.91 588.38H510.51" stroke="#222" stroke-width="0.8" fill="none"/>
<polyline points="429.30,587.68 442.54,582.30 455.77,577.62 508.71,585.34" fill="none" stroke="#5a2a82" stroke-width="1.05"/>
<path d="M427.00 585.84L431.60 585.84L429.30 589.98Z" fill="#5a2a82"/>
<path d="M440.24 580.46L444.84 580.46L442.54 584.60Z" fill="#5a2a82"/>
<path d="M453.47 575.78L458.07 575.78L455.77 579.92Z" fill="#5a2a82"/>
<path d="M506.41 583.50L511.01 583.50L508.71 587.64Z" fill="#5a2a82"/>
<path d="M429.30 581.59V584.87M427.50 581.59H431.10M427.50 584.87H431.10" stroke="#222" stroke-width="0.8" fill="none"/>
<path d="M442.54 572.47V580.89M440.74 572.47H444.34M440.74 580.89H444.34" stroke="#222" stroke-width="0.8" fill="none"/>
<path d="M455.77 559.60V570.36M453.97 559.60H457.57M453.97 570.36H457.57" stroke="#222" stroke-width="0.8" fill="none"/>
<path d="M508.71 570.60V576.68M506.91 570.60H510.51M506.91 576.68H510.51" stroke="#222" stroke-width="0.8" fill="none"/>
<polyline points="429.30,583.23 442.54,576.68 455.77,564.98 508.71,573.64" fill="none" stroke="#3a5fa0" stroke-width="1.05"/>
<rect x="427.20" y="581.13" width="4.20" height="4.20" fill="#dfe6f3" stroke="#3a5fa0" stroke-width="0.9"/>
<rect x="440.44" y="574.58" width="4.20" height="4.20" fill="#dfe6f3" stroke="#3a5fa0" stroke-width="0.9"/>
<rect x="453.67" y="562.88" width="4.20" height="4.20" fill="#dfe6f3" stroke="#3a5fa0" stroke-width="0.9"/>
<rect x="506.61" y="571.54" width="4.20" height="4.20" fill="#dfe6f3" stroke="#3a5fa0" stroke-width="0.9"/>
<path d="M429.30 582.06V585.34M427.50 582.06H431.10M427.50 585.34H431.10" stroke="#222" stroke-width="0.8" fill="none"/>
<path d="M442.54 574.34V582.76M440.74 574.34H444.34M440.74 582.76H444.34" stroke="#222" stroke-width="0.8" fill="none"/>
<path d="M455.77 564.51V572.94M453.97 564.51H457.57M453.97 572.94H457.57" stroke="#222" stroke-width="0.8" fill="none"/>
<path d="M508.71 571.77V577.85M506.91 571.77H510.51M506.91 577.85H510.51" stroke="#222" stroke-width="0.8" fill="none"/>
<polyline points="429.30,583.70 442.54,578.55 455.77,568.72 508.71,574.81" fill="none" stroke="#6cb33f" stroke-width="1.05"/>
<circle cx="429.30" cy="583.70" r="2.20" fill="#6cb33f"/>
<circle cx="442.54" cy="578.55" r="2.20" fill="#6cb33f"/>
<circle cx="455.77" cy="568.72" r="2.20" fill="#6cb33f"/>
<circle cx="508.71" cy="574.81" r="2.20" fill="#6cb33f"/>
<path d="M429.30 579.72V583.00M427.50 579.72H431.10M427.50 583.00H431.10" stroke="#222" stroke-width="0.8" fill="none"/>
<path d="M442.54 564.28V575.04M440.74 564.28H444.34M440.74 575.04H444.34" stroke="#222" stroke-width="0.8" fill="none"/>
<path d="M455.77 531.52V551.64M453.97 531.52H457.57M453.97 551.64H457.57" stroke="#222" stroke-width="0.8" fill="none"/>
<path d="M508.71 567.55V573.64M506.91 567.55H510.51M506.91 573.64H510.51" stroke="#222" stroke-width="0.8" fill="none"/>
<polyline points="429.30,581.36 442.54,569.66 455.77,541.58 508.71,570.60" fill="none" stroke="#bd0f30" stroke-width="1.05"/>
<path d="M429.30 578.46L432.20 581.36L429.30 584.26L426.40 581.36Z" fill="#bd0f30"/>
<path d="M442.54 566.76L445.44 569.66L442.54 572.56L439.64 569.66Z" fill="#bd0f30"/>
<path d="M455.77 538.68L458.67 541.58L455.77 544.48L452.87 541.58Z" fill="#bd0f30"/>
<path d="M508.71 567.70L511.61 570.60L508.71 573.50L505.81 570.60Z" fill="#bd0f30"/>
<circle cx="437.24" cy="577.62" r="0.75" fill="#222"/>
<circle cx="450.48" cy="567.55" r="0.75" fill="#222"/>
<circle cx="450.48" cy="577.62" r="0.75" fill="#222"/>
<circle cx="503.42" cy="581.59" r="0.75" fill="#222"/>
<text x="470.30" y="620.60" font-size="9" text-anchor="middle" fill="#111" stroke="#111" textLength="31.80" lengthAdjust="spacingAndGlyphs">Time (min)</text>
<path d="M410.50 631.00H422.00" stroke="#bd0f30" stroke-width="1"/>
<path d="M416.25 628.39L418.86 631.00L416.25 633.61L413.64 631.00Z" fill="#bd0f30"/>
<text x="425.80" y="633.70" font-size="7.6" text-anchor="start" font-weight="normal" fill="#111" stroke="#111" >WT</text>
<path d="M467.60 631.00H479.10" stroke="#6cb33f" stroke-width="1"/>
<circle cx="473.35" cy="631.00" r="1.98" fill="#6cb33f"/>
<text x="482.90" y="633.70" font-size="7.6" text-anchor="start" font-weight="normal" fill="#111" stroke="#111" >Mst1 KO</text>
<path d="M410.50 642.60H422.00" stroke="#3a5fa0" stroke-width="1"/>
<rect x="414.36" y="640.71" width="3.78" height="3.78" fill="#dfe6f3" stroke="#3a5fa0" stroke-width="0.9"/>
<text x="425.80" y="645.30" font-size="7.6" text-anchor="start" font-weight="normal" fill="#111" stroke="#111" >WASP KO</text>
<path d="M467.60 642.60H479.10" stroke="#5a2a82" stroke-width="1"/>
<path d="M471.28 640.94L475.42 640.94L473.35 644.67Z" fill="#5a2a82"/>
<text x="482.90" y="645.30" font-size="7.6" text-anchor="start" font-weight="normal" fill="#111" stroke="#111" >DKO</text>
</g></svg></body></html>
